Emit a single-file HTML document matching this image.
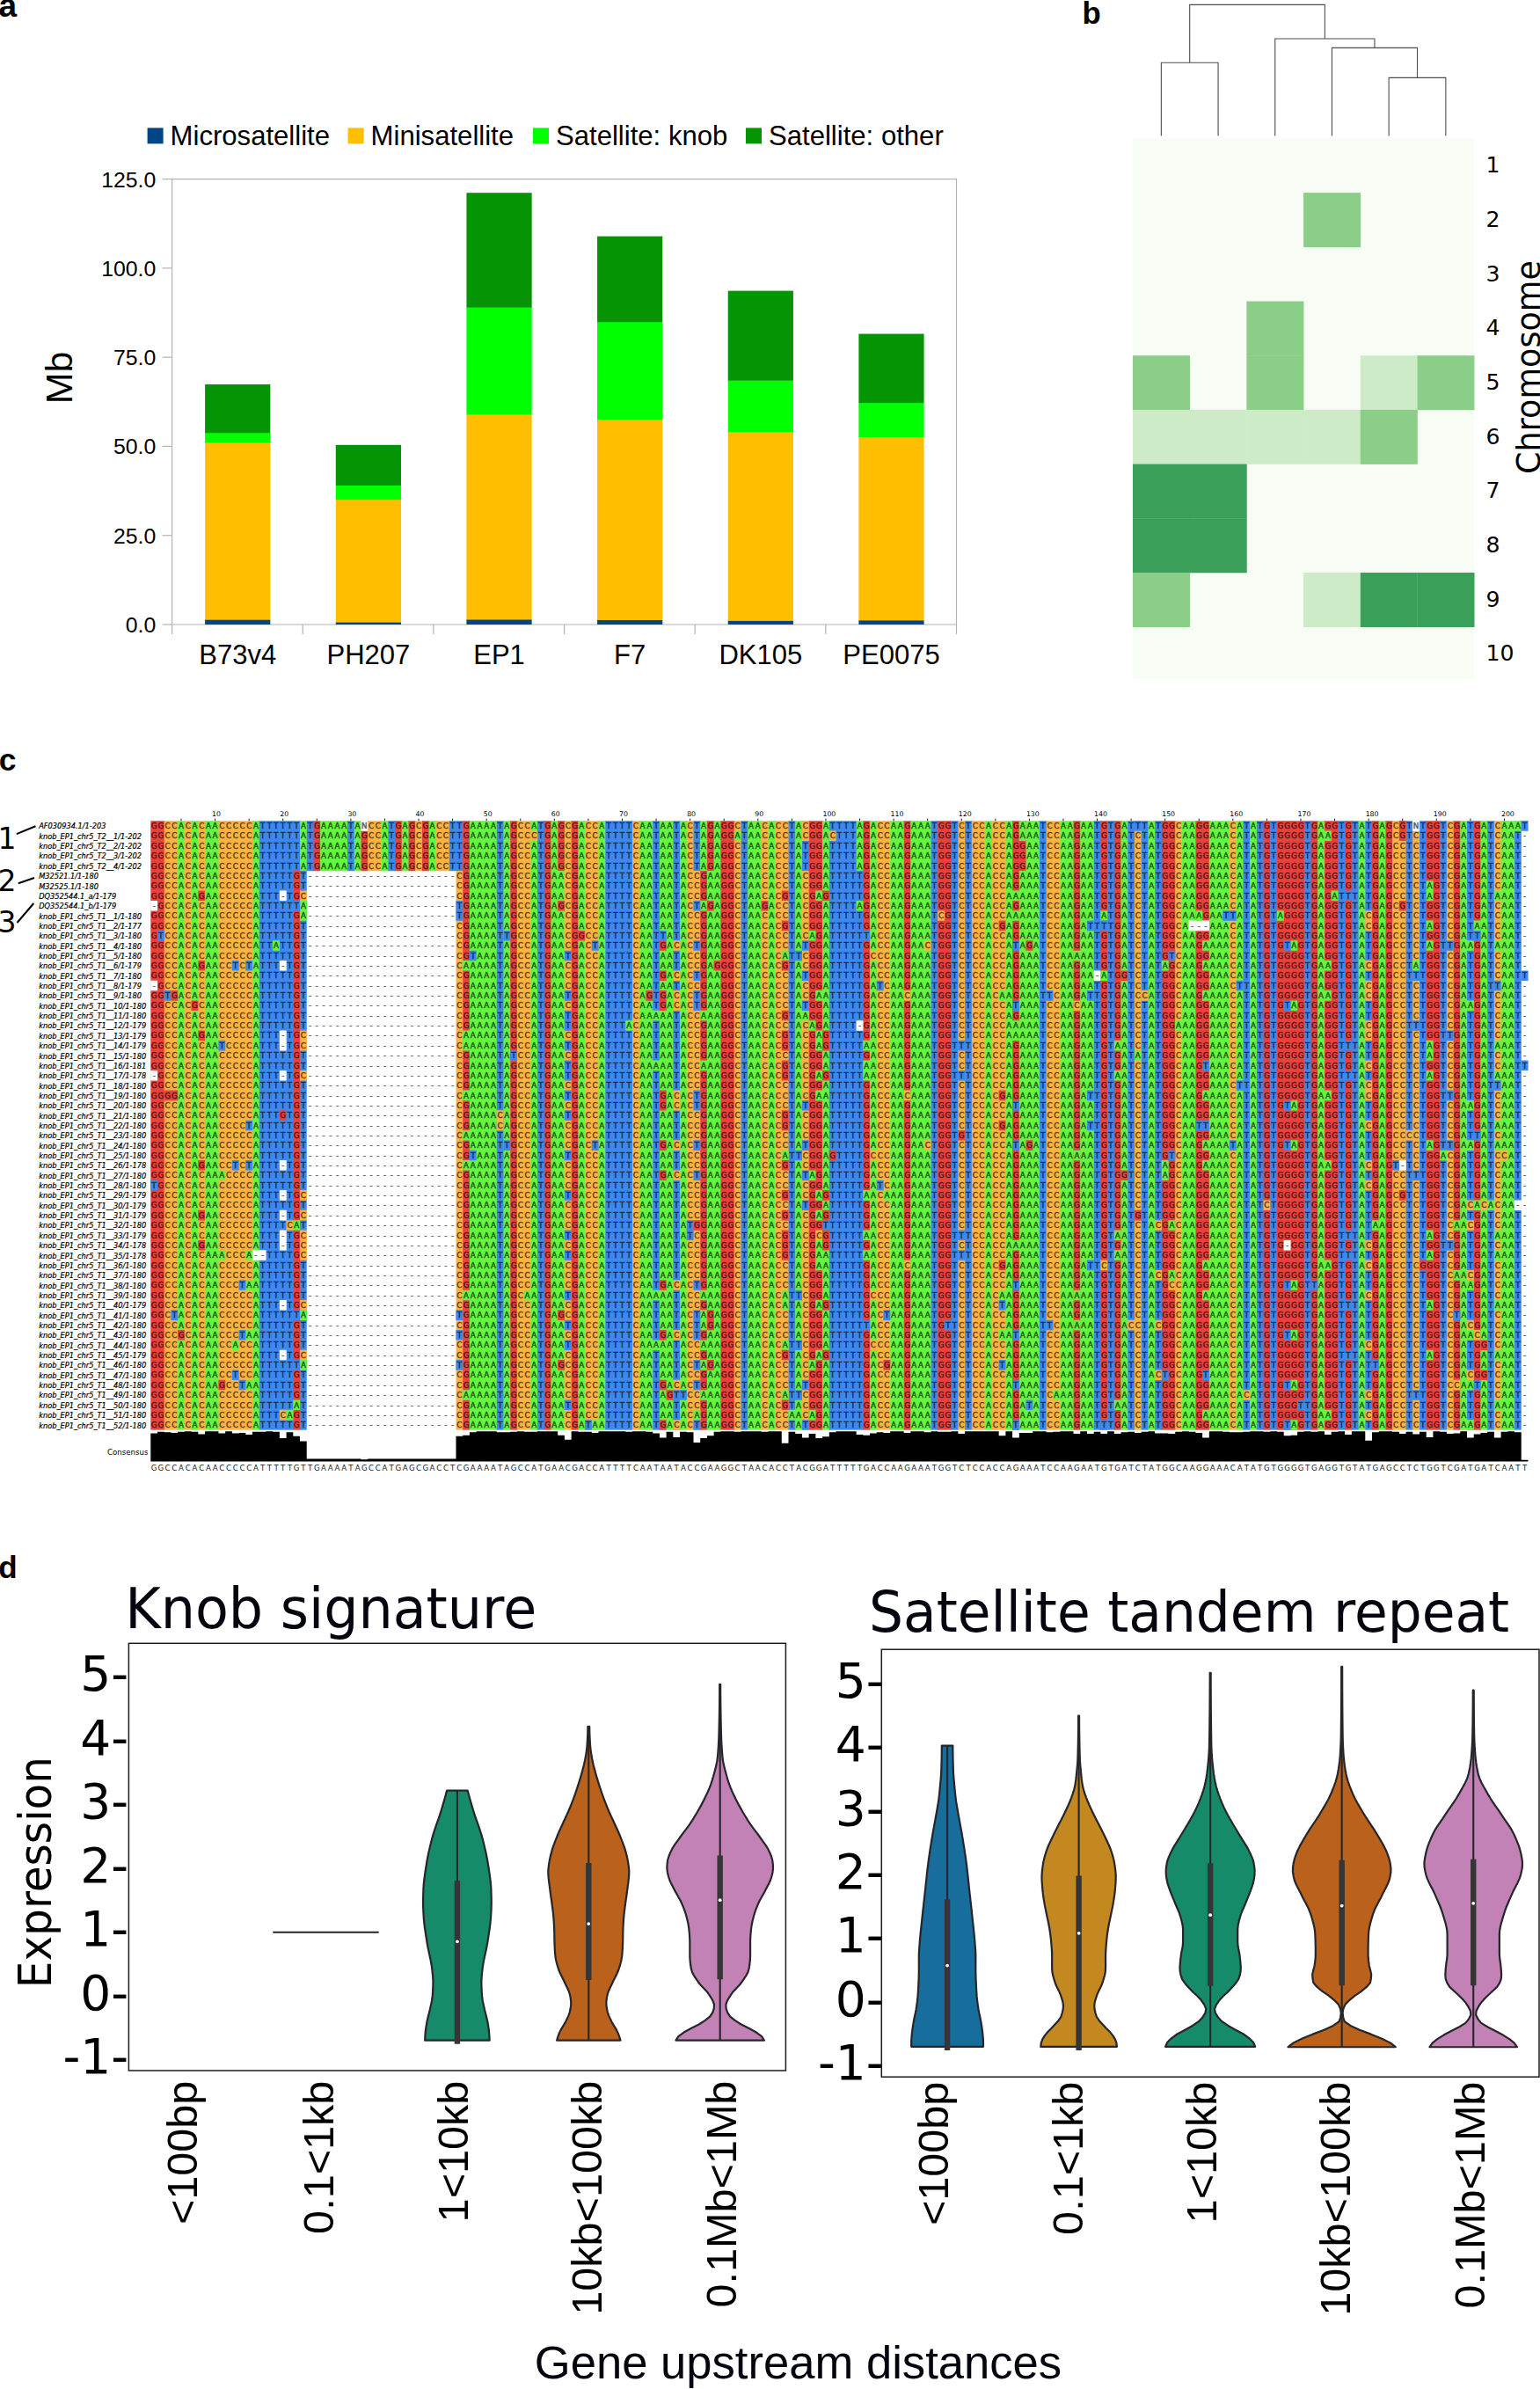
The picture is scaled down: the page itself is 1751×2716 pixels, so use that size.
<!DOCTYPE html>
<html lang="en"><head><meta charset="utf-8"><title>Figure</title>
<style>
html,body{margin:0;padding:0;background:#fff}
body{width:1751px;height:2716px;overflow:hidden}
svg{display:block}
text{white-space:pre}
</style></head><body>
<svg width="1751" height="2716" viewBox="0 0 1751 2716">
<rect width="1751" height="2716" fill="#fff"/>
<g id="panel-a">
<text x="-1.5" y="18.6" fill="#000" style="font-family:'Liberation Sans', Arial, sans-serif;font-size:37px;font-weight:bold">a</text>
<rect x="167.6" y="145.4" width="18" height="18" fill="#004586"/>
<text x="193.6" y="164.6" fill="#000" style="font-family:'Liberation Sans', Arial, sans-serif;font-size:31.1px">Microsatellite</text>
<rect x="395.6" y="145.4" width="18" height="18" fill="#ffbf00"/>
<text x="421.6" y="164.6" fill="#000" style="font-family:'Liberation Sans', Arial, sans-serif;font-size:31.1px">Minisatellite</text>
<rect x="606" y="145.4" width="18" height="18" fill="#00ff00"/>
<text x="632" y="164.6" fill="#000" style="font-family:'Liberation Sans', Arial, sans-serif;font-size:31.1px">Satellite: knob</text>
<rect x="848" y="145.4" width="18" height="18" fill="#049404"/>
<text x="874" y="164.6" fill="#000" style="font-family:'Liberation Sans', Arial, sans-serif;font-size:31.1px">Satellite: other</text>
<path d="M195.6 203.6 H1087.5 V710" fill="none" stroke="#b3b3b3" stroke-width="1.2"/>
<path d="M195.6 203.6 V710 H1087.5" fill="none" stroke="#b3b3b3" stroke-width="1.2"/>
<path d="M184.6 710 H195.6" stroke="#b3b3b3" stroke-width="1.2"/>
<text x="177.3" y="719" text-anchor="end" fill="#000" style="font-family:'Liberation Sans', Arial, sans-serif;font-size:24.8px">0.0</text>
<path d="M184.6 608.72 H195.6" stroke="#b3b3b3" stroke-width="1.2"/>
<text x="177.3" y="617.72" text-anchor="end" fill="#000" style="font-family:'Liberation Sans', Arial, sans-serif;font-size:24.8px">25.0</text>
<path d="M184.6 507.44 H195.6" stroke="#b3b3b3" stroke-width="1.2"/>
<text x="177.3" y="516.44" text-anchor="end" fill="#000" style="font-family:'Liberation Sans', Arial, sans-serif;font-size:24.8px">50.0</text>
<path d="M184.6 406.16 H195.6" stroke="#b3b3b3" stroke-width="1.2"/>
<text x="177.3" y="415.16" text-anchor="end" fill="#000" style="font-family:'Liberation Sans', Arial, sans-serif;font-size:24.8px">75.0</text>
<path d="M184.6 304.88 H195.6" stroke="#b3b3b3" stroke-width="1.2"/>
<text x="177.3" y="313.88" text-anchor="end" fill="#000" style="font-family:'Liberation Sans', Arial, sans-serif;font-size:24.8px">100.0</text>
<path d="M184.6 203.6 H195.6" stroke="#b3b3b3" stroke-width="1.2"/>
<text x="177.3" y="212.6" text-anchor="end" fill="#000" style="font-family:'Liberation Sans', Arial, sans-serif;font-size:24.8px">125.0</text>
<path d="M195.6 710 V721" stroke="#b3b3b3" stroke-width="1.2"/>
<path d="M344.25 710 V721" stroke="#b3b3b3" stroke-width="1.2"/>
<path d="M492.9 710 V721" stroke="#b3b3b3" stroke-width="1.2"/>
<path d="M641.55 710 V721" stroke="#b3b3b3" stroke-width="1.2"/>
<path d="M790.2 710 V721" stroke="#b3b3b3" stroke-width="1.2"/>
<path d="M938.85 710 V721" stroke="#b3b3b3" stroke-width="1.2"/>
<path d="M1087.5 710 V721" stroke="#b3b3b3" stroke-width="1.2"/>
<rect x="233.13" y="704.21" width="74.2" height="5.79" fill="#004586"/>
<rect x="233.13" y="503.15" width="74.2" height="201.46" fill="#ffbf00"/>
<rect x="233.13" y="491.84" width="74.2" height="11.7" fill="#00ff00"/>
<rect x="233.13" y="436.95" width="74.2" height="55.29" fill="#049404"/>
<text x="270.23" y="755.4" text-anchor="middle" fill="#000" style="font-family:'Liberation Sans', Arial, sans-serif;font-size:31px">B73v4</text>
<rect x="381.78" y="707.16" width="74.2" height="2.84" fill="#004586"/>
<rect x="381.78" y="567.8" width="74.2" height="139.76" fill="#ffbf00"/>
<rect x="381.78" y="551.6" width="74.2" height="16.6" fill="#00ff00"/>
<rect x="381.78" y="505.82" width="74.2" height="46.18" fill="#049404"/>
<text x="418.88" y="755.4" text-anchor="middle" fill="#000" style="font-family:'Liberation Sans', Arial, sans-serif;font-size:31px">PH207</text>
<rect x="530.42" y="704.09" width="74.2" height="5.91" fill="#004586"/>
<rect x="530.42" y="470.98" width="74.2" height="233.51" fill="#ffbf00"/>
<rect x="530.42" y="349.24" width="74.2" height="122.14" fill="#00ff00"/>
<rect x="530.42" y="219.2" width="74.2" height="130.44" fill="#049404"/>
<text x="567.52" y="755.4" text-anchor="middle" fill="#000" style="font-family:'Liberation Sans', Arial, sans-serif;font-size:31px">EP1</text>
<rect x="679.07" y="704.49" width="74.2" height="5.51" fill="#004586"/>
<rect x="679.07" y="476.85" width="74.2" height="228.04" fill="#ffbf00"/>
<rect x="679.07" y="365.85" width="74.2" height="111.4" fill="#00ff00"/>
<rect x="679.07" y="268.62" width="74.2" height="97.63" fill="#049404"/>
<text x="716.17" y="755.4" text-anchor="middle" fill="#000" style="font-family:'Liberation Sans', Arial, sans-serif;font-size:31px">F7</text>
<rect x="827.73" y="705.38" width="74.2" height="4.62" fill="#004586"/>
<rect x="827.73" y="490.91" width="74.2" height="214.87" fill="#ffbf00"/>
<rect x="827.73" y="432.29" width="74.2" height="59.02" fill="#00ff00"/>
<rect x="827.73" y="330.61" width="74.2" height="102.09" fill="#049404"/>
<text x="864.83" y="755.4" text-anchor="middle" fill="#000" style="font-family:'Liberation Sans', Arial, sans-serif;font-size:31px">DK105</text>
<rect x="976.38" y="705.02" width="74.2" height="4.98" fill="#004586"/>
<rect x="976.38" y="496.7" width="74.2" height="208.71" fill="#ffbf00"/>
<rect x="976.38" y="457.73" width="74.2" height="39.37" fill="#00ff00"/>
<rect x="976.38" y="379.54" width="74.2" height="78.59" fill="#049404"/>
<text x="1013.48" y="755.4" text-anchor="middle" fill="#000" style="font-family:'Liberation Sans', Arial, sans-serif;font-size:31px">PE0075</text>
<text transform="translate(81.9 429.4) rotate(-90)" text-anchor="middle" fill="#000" style="font-family:'Liberation Sans', Arial, sans-serif;font-size:43px">Mb</text>
</g>
<g id="panel-b">
<text x="1230.6" y="26.5" fill="#000" style="font-family:'Liberation Sans', Arial, sans-serif;font-size:34.8px;font-weight:bold">b</text>
<rect x="1288" y="157.4" width="388.2" height="615" fill="#f7fcf5"/>
<rect x="1482.1" y="219.1" width="65" height="62" fill="#8bce88"/>
<rect x="1417.4" y="342.5" width="65" height="62" fill="#8bce88"/>
<rect x="1288" y="404.2" width="65" height="62" fill="#8bce88"/>
<rect x="1417.4" y="404.2" width="65" height="62" fill="#8bce88"/>
<rect x="1546.8" y="404.2" width="65" height="62" fill="#cdebc7"/>
<rect x="1611.5" y="404.2" width="65" height="62" fill="#8bce88"/>
<rect x="1288" y="465.9" width="65" height="62" fill="#cdebc7"/>
<rect x="1352.7" y="465.9" width="65" height="62" fill="#cdebc7"/>
<rect x="1417.4" y="465.9" width="65" height="62" fill="#cdebc7"/>
<rect x="1482.1" y="465.9" width="65" height="62" fill="#cdebc7"/>
<rect x="1546.8" y="465.9" width="65" height="62" fill="#8bce88"/>
<rect x="1288" y="527.6" width="65" height="62" fill="#3aa05a"/>
<rect x="1352.7" y="527.6" width="65" height="62" fill="#3aa05a"/>
<rect x="1288" y="589.3" width="65" height="62" fill="#3aa05a"/>
<rect x="1352.7" y="589.3" width="65" height="62" fill="#3aa05a"/>
<rect x="1288" y="651" width="65" height="62" fill="#8bce88"/>
<rect x="1482.1" y="651" width="65" height="62" fill="#cdebc7"/>
<rect x="1546.8" y="651" width="65" height="62" fill="#3aa05a"/>
<rect x="1611.5" y="651" width="65" height="62" fill="#3aa05a"/>
<text x="1689.4" y="196.15" fill="#000" style="font-family:'DejaVu Sans', 'Liberation Sans', sans-serif;font-size:25.2px">1</text>
<text x="1689.4" y="257.85" fill="#000" style="font-family:'DejaVu Sans', 'Liberation Sans', sans-serif;font-size:25.2px">2</text>
<text x="1689.4" y="319.55" fill="#000" style="font-family:'DejaVu Sans', 'Liberation Sans', sans-serif;font-size:25.2px">3</text>
<text x="1689.4" y="381.25" fill="#000" style="font-family:'DejaVu Sans', 'Liberation Sans', sans-serif;font-size:25.2px">4</text>
<text x="1689.4" y="442.95" fill="#000" style="font-family:'DejaVu Sans', 'Liberation Sans', sans-serif;font-size:25.2px">5</text>
<text x="1689.4" y="504.65" fill="#000" style="font-family:'DejaVu Sans', 'Liberation Sans', sans-serif;font-size:25.2px">6</text>
<text x="1689.4" y="566.35" fill="#000" style="font-family:'DejaVu Sans', 'Liberation Sans', sans-serif;font-size:25.2px">7</text>
<text x="1689.4" y="628.05" fill="#000" style="font-family:'DejaVu Sans', 'Liberation Sans', sans-serif;font-size:25.2px">8</text>
<text x="1689.4" y="689.75" fill="#000" style="font-family:'DejaVu Sans', 'Liberation Sans', sans-serif;font-size:25.2px">9</text>
<text x="1689.4" y="751.45" fill="#000" style="font-family:'DejaVu Sans', 'Liberation Sans', sans-serif;font-size:25.2px">10</text>
<text transform="translate(1750.6 417.5) rotate(-90)" text-anchor="middle" fill="#000" style="font-family:'DejaVu Sans', 'Liberation Sans', sans-serif;font-size:36.6px">Chromosome</text>
<path d="M1320.35 154.6 V71.2 H1385.05 V154.6" fill="none" stroke="#4d4d4d" stroke-width="1.1"/>
<path d="M1579.15 154.6 V88.4 H1643.85 V154.6" fill="none" stroke="#4d4d4d" stroke-width="1.1"/>
<path d="M1514.45 154.6 V54.4 H1611.5 V88.4" fill="none" stroke="#4d4d4d" stroke-width="1.1"/>
<path d="M1449.75 154.6 V44 H1562.97 V54.4" fill="none" stroke="#4d4d4d" stroke-width="1.1"/>
<path d="M1352.7 71.2 V5.4 H1506.36 V44" fill="none" stroke="#4d4d4d" stroke-width="1.1"/>
</g>
<g id="panel-c">
<text x="-1.2" y="876.2" fill="#000" style="font-family:'Liberation Sans', Arial, sans-serif;font-size:35.5px;font-weight:bold">c</text>
<rect x="171.3" y="933.2" width="16.03" height="57.06" fill="#eb413c"/>
<rect x="186.73" y="933.2" width="16.03" height="57.06" fill="#ffb340"/>
<rect x="202.16" y="933.2" width="8.31" height="57.06" fill="#64f73f"/>
<rect x="209.88" y="933.2" width="8.32" height="57.06" fill="#ffb340"/>
<rect x="217.59" y="933.2" width="8.32" height="57.06" fill="#64f73f"/>
<rect x="225.31" y="933.2" width="8.32" height="57.06" fill="#ffb340"/>
<rect x="233.02" y="933.2" width="16.03" height="57.06" fill="#64f73f"/>
<rect x="248.45" y="933.2" width="39.17" height="57.06" fill="#ffb340"/>
<rect x="287.02" y="933.2" width="8.32" height="57.06" fill="#64f73f"/>
<rect x="294.74" y="933.2" width="46.89" height="57.06" fill="#3c88ee"/>
<rect x="341.03" y="933.2" width="8.32" height="57.06" fill="#64f73f"/>
<rect x="348.75" y="933.2" width="8.32" height="57.06" fill="#3c88ee"/>
<rect x="356.46" y="933.2" width="8.31" height="57.06" fill="#eb413c"/>
<rect x="364.18" y="933.2" width="31.46" height="57.06" fill="#64f73f"/>
<rect x="395.03" y="933.2" width="8.32" height="57.06" fill="#3c88ee"/>
<rect x="402.75" y="933.2" width="8.32" height="57.06" fill="#64f73f"/>
<rect x="410.47" y="933.2" width="8.31" height="57.06" fill="#eb413c"/>
<rect x="418.18" y="933.2" width="16.03" height="57.06" fill="#ffb340"/>
<rect x="433.61" y="933.2" width="8.31" height="57.06" fill="#64f73f"/>
<rect x="441.32" y="933.2" width="8.32" height="57.06" fill="#3c88ee"/>
<rect x="449.04" y="933.2" width="8.31" height="57.06" fill="#eb413c"/>
<rect x="456.75" y="933.2" width="8.32" height="57.06" fill="#64f73f"/>
<rect x="464.47" y="933.2" width="8.31" height="57.06" fill="#eb413c"/>
<rect x="472.19" y="933.2" width="8.32" height="57.06" fill="#ffb340"/>
<rect x="479.9" y="933.2" width="8.31" height="57.06" fill="#eb413c"/>
<rect x="487.62" y="933.2" width="8.31" height="57.06" fill="#64f73f"/>
<rect x="495.33" y="933.2" width="16.03" height="57.06" fill="#ffb340"/>
<rect x="510.76" y="933.2" width="16.03" height="57.06" fill="#3c88ee"/>
<rect x="526.19" y="933.2" width="8.31" height="57.06" fill="#eb413c"/>
<rect x="533.9" y="933.2" width="31.46" height="57.06" fill="#64f73f"/>
<rect x="564.76" y="933.2" width="8.32" height="57.06" fill="#3c88ee"/>
<rect x="572.48" y="933.2" width="8.31" height="57.06" fill="#64f73f"/>
<rect x="580.19" y="933.2" width="8.32" height="57.06" fill="#eb413c"/>
<rect x="587.91" y="933.2" width="16.03" height="57.06" fill="#ffb340"/>
<rect x="603.34" y="933.2" width="8.32" height="57.06" fill="#64f73f"/>
<rect x="611.06" y="933.2" width="8.31" height="57.06" fill="#3c88ee"/>
<rect x="618.77" y="933.2" width="8.32" height="57.06" fill="#eb413c"/>
<rect x="626.49" y="933.2" width="8.32" height="57.06" fill="#64f73f"/>
<rect x="634.2" y="933.2" width="8.31" height="57.06" fill="#eb413c"/>
<rect x="641.91" y="933.2" width="8.32" height="57.06" fill="#ffb340"/>
<rect x="649.63" y="933.2" width="8.32" height="57.06" fill="#eb413c"/>
<rect x="657.35" y="933.2" width="8.31" height="57.06" fill="#64f73f"/>
<rect x="665.06" y="933.2" width="16.03" height="57.06" fill="#ffb340"/>
<rect x="680.49" y="933.2" width="8.31" height="57.06" fill="#64f73f"/>
<rect x="688.2" y="933.2" width="31.46" height="57.06" fill="#3c88ee"/>
<rect x="719.07" y="933.2" width="8.31" height="57.06" fill="#ffb340"/>
<rect x="726.78" y="933.2" width="16.03" height="57.06" fill="#64f73f"/>
<rect x="742.21" y="933.2" width="8.31" height="57.06" fill="#3c88ee"/>
<rect x="749.92" y="933.2" width="16.03" height="57.06" fill="#64f73f"/>
<rect x="765.36" y="933.2" width="8.31" height="57.06" fill="#3c88ee"/>
<rect x="773.07" y="933.2" width="8.32" height="57.06" fill="#64f73f"/>
<rect x="780.79" y="933.2" width="8.31" height="57.06" fill="#ffb340"/>
<rect x="788.5" y="933.2" width="8.31" height="57.06" fill="#3c88ee"/>
<rect x="796.21" y="933.2" width="8.32" height="57.06" fill="#64f73f"/>
<rect x="803.93" y="933.2" width="8.31" height="57.06" fill="#eb413c"/>
<rect x="811.64" y="933.2" width="8.31" height="57.06" fill="#64f73f"/>
<rect x="819.36" y="933.2" width="16.03" height="57.06" fill="#eb413c"/>
<rect x="834.79" y="933.2" width="8.32" height="57.06" fill="#ffb340"/>
<rect x="842.51" y="933.2" width="8.31" height="57.06" fill="#3c88ee"/>
<rect x="850.22" y="933.2" width="16.03" height="57.06" fill="#64f73f"/>
<rect x="865.65" y="933.2" width="8.31" height="57.06" fill="#ffb340"/>
<rect x="873.37" y="933.2" width="8.31" height="57.06" fill="#64f73f"/>
<rect x="881.08" y="933.2" width="16.03" height="57.06" fill="#ffb340"/>
<rect x="896.51" y="933.2" width="8.31" height="57.06" fill="#3c88ee"/>
<rect x="904.22" y="933.2" width="8.32" height="57.06" fill="#64f73f"/>
<rect x="911.94" y="933.2" width="8.31" height="57.06" fill="#3c88ee"/>
<rect x="919.65" y="933.2" width="16.03" height="57.06" fill="#eb413c"/>
<rect x="935.09" y="933.2" width="8.31" height="57.06" fill="#64f73f"/>
<rect x="942.8" y="933.2" width="31.46" height="57.06" fill="#3c88ee"/>
<rect x="973.66" y="933.2" width="8.31" height="57.06" fill="#64f73f"/>
<rect x="981.38" y="933.2" width="8.31" height="57.06" fill="#eb413c"/>
<rect x="989.09" y="933.2" width="8.32" height="57.06" fill="#64f73f"/>
<rect x="996.81" y="933.2" width="16.03" height="57.06" fill="#ffb340"/>
<rect x="1012.23" y="933.2" width="16.03" height="57.06" fill="#64f73f"/>
<rect x="1027.66" y="933.2" width="8.31" height="57.06" fill="#eb413c"/>
<rect x="1035.38" y="933.2" width="23.75" height="57.06" fill="#64f73f"/>
<rect x="1058.53" y="933.2" width="8.31" height="57.06" fill="#3c88ee"/>
<rect x="1066.24" y="933.2" width="16.03" height="57.06" fill="#eb413c"/>
<rect x="1081.67" y="933.2" width="8.31" height="57.06" fill="#3c88ee"/>
<rect x="1089.38" y="933.2" width="8.31" height="57.06" fill="#ffb340"/>
<rect x="1097.1" y="933.2" width="8.32" height="57.06" fill="#3c88ee"/>
<rect x="1104.82" y="933.2" width="16.03" height="57.06" fill="#ffb340"/>
<rect x="1120.24" y="933.2" width="8.32" height="57.06" fill="#64f73f"/>
<rect x="1127.96" y="933.2" width="16.03" height="57.06" fill="#ffb340"/>
<rect x="1143.39" y="933.2" width="8.31" height="57.06" fill="#64f73f"/>
<rect x="1151.11" y="933.2" width="16.03" height="57.06" fill="#eb413c"/>
<rect x="1166.54" y="933.2" width="16.03" height="57.06" fill="#64f73f"/>
<rect x="1181.96" y="933.2" width="8.32" height="57.06" fill="#3c88ee"/>
<rect x="1189.68" y="933.2" width="16.03" height="57.06" fill="#ffb340"/>
<rect x="1205.11" y="933.2" width="16.03" height="57.06" fill="#64f73f"/>
<rect x="1220.54" y="933.2" width="8.31" height="57.06" fill="#eb413c"/>
<rect x="1228.25" y="933.2" width="16.03" height="57.06" fill="#64f73f"/>
<rect x="1243.68" y="933.2" width="8.31" height="57.06" fill="#3c88ee"/>
<rect x="1251.4" y="933.2" width="8.32" height="57.06" fill="#eb413c"/>
<rect x="1259.12" y="933.2" width="8.31" height="57.06" fill="#3c88ee"/>
<rect x="1266.83" y="933.2" width="8.31" height="57.06" fill="#eb413c"/>
<rect x="1274.54" y="933.2" width="8.32" height="57.06" fill="#64f73f"/>
<rect x="1282.26" y="933.2" width="8.31" height="57.06" fill="#3c88ee"/>
<rect x="1289.97" y="933.2" width="8.31" height="57.06" fill="#ffb340"/>
<rect x="1297.69" y="933.2" width="8.32" height="57.06" fill="#3c88ee"/>
<rect x="1305.4" y="933.2" width="8.31" height="57.06" fill="#64f73f"/>
<rect x="1313.12" y="933.2" width="8.32" height="57.06" fill="#3c88ee"/>
<rect x="1320.84" y="933.2" width="16.03" height="57.06" fill="#eb413c"/>
<rect x="1336.26" y="933.2" width="8.32" height="57.06" fill="#ffb340"/>
<rect x="1343.98" y="933.2" width="16.03" height="57.06" fill="#64f73f"/>
<rect x="1359.41" y="933.2" width="16.03" height="57.06" fill="#eb413c"/>
<rect x="1374.84" y="933.2" width="23.74" height="57.06" fill="#64f73f"/>
<rect x="1397.98" y="933.2" width="8.32" height="57.06" fill="#ffb340"/>
<rect x="1405.7" y="933.2" width="8.31" height="57.06" fill="#64f73f"/>
<rect x="1413.41" y="933.2" width="8.31" height="57.06" fill="#3c88ee"/>
<rect x="1421.13" y="933.2" width="8.32" height="57.06" fill="#64f73f"/>
<rect x="1428.85" y="933.2" width="8.31" height="57.06" fill="#3c88ee"/>
<rect x="1436.56" y="933.2" width="8.31" height="57.06" fill="#eb413c"/>
<rect x="1444.27" y="933.2" width="8.32" height="57.06" fill="#3c88ee"/>
<rect x="1451.99" y="933.2" width="31.46" height="57.06" fill="#eb413c"/>
<rect x="1482.85" y="933.2" width="8.31" height="57.06" fill="#3c88ee"/>
<rect x="1490.56" y="933.2" width="8.32" height="57.06" fill="#eb413c"/>
<rect x="1498.28" y="933.2" width="8.31" height="57.06" fill="#64f73f"/>
<rect x="1505.99" y="933.2" width="16.03" height="57.06" fill="#eb413c"/>
<rect x="1521.42" y="933.2" width="8.31" height="57.06" fill="#3c88ee"/>
<rect x="1529.14" y="933.2" width="8.32" height="57.06" fill="#eb413c"/>
<rect x="1536.86" y="933.2" width="8.31" height="57.06" fill="#3c88ee"/>
<rect x="1544.57" y="933.2" width="8.31" height="57.06" fill="#64f73f"/>
<rect x="1552.28" y="933.2" width="8.32" height="57.06" fill="#3c88ee"/>
<rect x="1560" y="933.2" width="8.31" height="57.06" fill="#eb413c"/>
<rect x="1567.71" y="933.2" width="8.31" height="57.06" fill="#64f73f"/>
<rect x="1575.43" y="933.2" width="8.32" height="57.06" fill="#eb413c"/>
<rect x="1583.14" y="933.2" width="16.03" height="57.06" fill="#ffb340"/>
<rect x="1598.57" y="933.2" width="8.32" height="57.06" fill="#3c88ee"/>
<rect x="1606.29" y="933.2" width="8.31" height="57.06" fill="#ffb340"/>
<rect x="1614" y="933.2" width="8.32" height="57.06" fill="#3c88ee"/>
<rect x="1621.72" y="933.2" width="16.03" height="57.06" fill="#eb413c"/>
<rect x="1637.15" y="933.2" width="8.32" height="57.06" fill="#3c88ee"/>
<rect x="1644.87" y="933.2" width="8.31" height="57.06" fill="#ffb340"/>
<rect x="1652.58" y="933.2" width="8.31" height="57.06" fill="#eb413c"/>
<rect x="1660.29" y="933.2" width="8.32" height="57.06" fill="#64f73f"/>
<rect x="1668.01" y="933.2" width="8.31" height="57.06" fill="#3c88ee"/>
<rect x="1675.72" y="933.2" width="8.31" height="57.06" fill="#eb413c"/>
<rect x="1683.44" y="933.2" width="8.32" height="57.06" fill="#64f73f"/>
<rect x="1691.15" y="933.2" width="8.31" height="57.06" fill="#3c88ee"/>
<rect x="1698.87" y="933.2" width="8.32" height="57.06" fill="#ffb340"/>
<rect x="1706.59" y="933.2" width="16.03" height="57.06" fill="#64f73f"/>
<rect x="1722.01" y="933.2" width="7.72" height="57.06" fill="#3c88ee"/>
<rect x="171.3" y="989.96" width="16.03" height="635.71" fill="#eb413c"/>
<rect x="186.73" y="989.96" width="16.03" height="635.71" fill="#ffb340"/>
<rect x="202.16" y="989.96" width="8.31" height="635.71" fill="#64f73f"/>
<rect x="209.88" y="989.96" width="8.32" height="635.71" fill="#ffb340"/>
<rect x="217.59" y="989.96" width="8.32" height="635.71" fill="#64f73f"/>
<rect x="225.31" y="989.96" width="8.32" height="635.71" fill="#ffb340"/>
<rect x="233.02" y="989.96" width="16.03" height="635.71" fill="#64f73f"/>
<rect x="248.45" y="989.96" width="39.17" height="635.71" fill="#ffb340"/>
<rect x="287.02" y="989.96" width="8.32" height="635.71" fill="#64f73f"/>
<rect x="294.74" y="989.96" width="39.17" height="635.71" fill="#3c88ee"/>
<rect x="333.31" y="989.96" width="8.31" height="635.71" fill="#eb413c"/>
<rect x="341.03" y="989.96" width="7.72" height="635.71" fill="#3c88ee"/>
<rect x="518.48" y="989.96" width="8.32" height="635.71" fill="#ffb340"/>
<rect x="526.19" y="989.96" width="8.31" height="635.71" fill="#eb413c"/>
<rect x="533.9" y="989.96" width="31.46" height="635.71" fill="#64f73f"/>
<rect x="564.76" y="989.96" width="8.32" height="635.71" fill="#3c88ee"/>
<rect x="572.48" y="989.96" width="8.31" height="635.71" fill="#64f73f"/>
<rect x="580.19" y="989.96" width="8.32" height="635.71" fill="#eb413c"/>
<rect x="587.91" y="989.96" width="16.03" height="635.71" fill="#ffb340"/>
<rect x="603.34" y="989.96" width="8.32" height="635.71" fill="#64f73f"/>
<rect x="611.06" y="989.96" width="8.31" height="635.71" fill="#3c88ee"/>
<rect x="618.77" y="989.96" width="8.32" height="635.71" fill="#eb413c"/>
<rect x="626.49" y="989.96" width="16.03" height="635.71" fill="#64f73f"/>
<rect x="641.91" y="989.96" width="8.32" height="635.71" fill="#ffb340"/>
<rect x="649.63" y="989.96" width="8.32" height="635.71" fill="#eb413c"/>
<rect x="657.35" y="989.96" width="8.31" height="635.71" fill="#64f73f"/>
<rect x="665.06" y="989.96" width="16.03" height="635.71" fill="#ffb340"/>
<rect x="680.49" y="989.96" width="8.31" height="635.71" fill="#64f73f"/>
<rect x="688.2" y="989.96" width="31.46" height="635.71" fill="#3c88ee"/>
<rect x="719.07" y="989.96" width="8.31" height="635.71" fill="#ffb340"/>
<rect x="726.78" y="989.96" width="16.03" height="635.71" fill="#64f73f"/>
<rect x="742.21" y="989.96" width="8.31" height="635.71" fill="#3c88ee"/>
<rect x="749.92" y="989.96" width="16.03" height="635.71" fill="#64f73f"/>
<rect x="765.36" y="989.96" width="8.31" height="635.71" fill="#3c88ee"/>
<rect x="773.07" y="989.96" width="8.32" height="635.71" fill="#64f73f"/>
<rect x="780.79" y="989.96" width="16.03" height="635.71" fill="#ffb340"/>
<rect x="796.21" y="989.96" width="8.32" height="635.71" fill="#eb413c"/>
<rect x="803.93" y="989.96" width="16.03" height="635.71" fill="#64f73f"/>
<rect x="819.36" y="989.96" width="16.03" height="635.71" fill="#eb413c"/>
<rect x="834.79" y="989.96" width="8.32" height="635.71" fill="#ffb340"/>
<rect x="842.51" y="989.96" width="8.31" height="635.71" fill="#3c88ee"/>
<rect x="850.22" y="989.96" width="16.03" height="635.71" fill="#64f73f"/>
<rect x="865.65" y="989.96" width="8.31" height="635.71" fill="#ffb340"/>
<rect x="873.37" y="989.96" width="8.31" height="635.71" fill="#64f73f"/>
<rect x="881.08" y="989.96" width="16.03" height="635.71" fill="#ffb340"/>
<rect x="896.51" y="989.96" width="8.31" height="635.71" fill="#3c88ee"/>
<rect x="904.22" y="989.96" width="8.32" height="635.71" fill="#64f73f"/>
<rect x="911.94" y="989.96" width="8.31" height="635.71" fill="#ffb340"/>
<rect x="919.65" y="989.96" width="16.03" height="635.71" fill="#eb413c"/>
<rect x="935.09" y="989.96" width="8.31" height="635.71" fill="#64f73f"/>
<rect x="942.8" y="989.96" width="39.18" height="635.71" fill="#3c88ee"/>
<rect x="981.38" y="989.96" width="8.31" height="635.71" fill="#eb413c"/>
<rect x="989.09" y="989.96" width="8.32" height="635.71" fill="#64f73f"/>
<rect x="996.81" y="989.96" width="16.03" height="635.71" fill="#ffb340"/>
<rect x="1012.23" y="989.96" width="16.03" height="635.71" fill="#64f73f"/>
<rect x="1027.66" y="989.96" width="8.31" height="635.71" fill="#eb413c"/>
<rect x="1035.38" y="989.96" width="23.75" height="635.71" fill="#64f73f"/>
<rect x="1058.53" y="989.96" width="8.31" height="635.71" fill="#3c88ee"/>
<rect x="1066.24" y="989.96" width="16.03" height="635.71" fill="#eb413c"/>
<rect x="1081.67" y="989.96" width="8.31" height="635.71" fill="#3c88ee"/>
<rect x="1089.38" y="989.96" width="8.31" height="635.71" fill="#ffb340"/>
<rect x="1097.1" y="989.96" width="8.32" height="635.71" fill="#3c88ee"/>
<rect x="1104.82" y="989.96" width="16.03" height="635.71" fill="#ffb340"/>
<rect x="1120.24" y="989.96" width="8.32" height="635.71" fill="#64f73f"/>
<rect x="1127.96" y="989.96" width="16.03" height="635.71" fill="#ffb340"/>
<rect x="1143.39" y="989.96" width="8.31" height="635.71" fill="#64f73f"/>
<rect x="1151.11" y="989.96" width="8.31" height="635.71" fill="#eb413c"/>
<rect x="1158.82" y="989.96" width="23.74" height="635.71" fill="#64f73f"/>
<rect x="1181.96" y="989.96" width="8.32" height="635.71" fill="#3c88ee"/>
<rect x="1189.68" y="989.96" width="16.03" height="635.71" fill="#ffb340"/>
<rect x="1205.11" y="989.96" width="16.03" height="635.71" fill="#64f73f"/>
<rect x="1220.54" y="989.96" width="8.31" height="635.71" fill="#eb413c"/>
<rect x="1228.25" y="989.96" width="16.03" height="635.71" fill="#64f73f"/>
<rect x="1243.68" y="989.96" width="8.31" height="635.71" fill="#3c88ee"/>
<rect x="1251.4" y="989.96" width="8.32" height="635.71" fill="#eb413c"/>
<rect x="1259.12" y="989.96" width="8.31" height="635.71" fill="#3c88ee"/>
<rect x="1266.83" y="989.96" width="8.31" height="635.71" fill="#eb413c"/>
<rect x="1274.54" y="989.96" width="8.32" height="635.71" fill="#64f73f"/>
<rect x="1282.26" y="989.96" width="8.31" height="635.71" fill="#3c88ee"/>
<rect x="1289.97" y="989.96" width="8.31" height="635.71" fill="#ffb340"/>
<rect x="1297.69" y="989.96" width="8.32" height="635.71" fill="#3c88ee"/>
<rect x="1305.4" y="989.96" width="8.31" height="635.71" fill="#64f73f"/>
<rect x="1313.12" y="989.96" width="8.32" height="635.71" fill="#3c88ee"/>
<rect x="1320.84" y="989.96" width="16.03" height="635.71" fill="#eb413c"/>
<rect x="1336.26" y="989.96" width="8.32" height="635.71" fill="#ffb340"/>
<rect x="1343.98" y="989.96" width="16.03" height="635.71" fill="#64f73f"/>
<rect x="1359.41" y="989.96" width="16.03" height="635.71" fill="#eb413c"/>
<rect x="1374.84" y="989.96" width="23.74" height="635.71" fill="#64f73f"/>
<rect x="1397.98" y="989.96" width="8.32" height="635.71" fill="#ffb340"/>
<rect x="1405.7" y="989.96" width="8.31" height="635.71" fill="#64f73f"/>
<rect x="1413.41" y="989.96" width="8.31" height="635.71" fill="#3c88ee"/>
<rect x="1421.13" y="989.96" width="8.32" height="635.71" fill="#64f73f"/>
<rect x="1428.85" y="989.96" width="8.31" height="635.71" fill="#3c88ee"/>
<rect x="1436.56" y="989.96" width="8.31" height="635.71" fill="#eb413c"/>
<rect x="1444.27" y="989.96" width="8.32" height="635.71" fill="#3c88ee"/>
<rect x="1451.99" y="989.96" width="31.46" height="635.71" fill="#eb413c"/>
<rect x="1482.85" y="989.96" width="8.31" height="635.71" fill="#3c88ee"/>
<rect x="1490.56" y="989.96" width="8.32" height="635.71" fill="#eb413c"/>
<rect x="1498.28" y="989.96" width="8.31" height="635.71" fill="#64f73f"/>
<rect x="1505.99" y="989.96" width="16.03" height="635.71" fill="#eb413c"/>
<rect x="1521.42" y="989.96" width="8.31" height="635.71" fill="#3c88ee"/>
<rect x="1529.14" y="989.96" width="8.32" height="635.71" fill="#eb413c"/>
<rect x="1536.86" y="989.96" width="8.31" height="635.71" fill="#3c88ee"/>
<rect x="1544.57" y="989.96" width="8.31" height="635.71" fill="#64f73f"/>
<rect x="1552.28" y="989.96" width="8.32" height="635.71" fill="#3c88ee"/>
<rect x="1560" y="989.96" width="8.31" height="635.71" fill="#eb413c"/>
<rect x="1567.71" y="989.96" width="8.31" height="635.71" fill="#64f73f"/>
<rect x="1575.43" y="989.96" width="8.32" height="635.71" fill="#eb413c"/>
<rect x="1583.14" y="989.96" width="16.03" height="635.71" fill="#ffb340"/>
<rect x="1598.57" y="989.96" width="8.32" height="635.71" fill="#3c88ee"/>
<rect x="1606.29" y="989.96" width="8.31" height="635.71" fill="#ffb340"/>
<rect x="1614" y="989.96" width="8.32" height="635.71" fill="#3c88ee"/>
<rect x="1621.72" y="989.96" width="16.03" height="635.71" fill="#eb413c"/>
<rect x="1637.15" y="989.96" width="8.32" height="635.71" fill="#3c88ee"/>
<rect x="1644.87" y="989.96" width="8.31" height="635.71" fill="#ffb340"/>
<rect x="1652.58" y="989.96" width="8.31" height="635.71" fill="#eb413c"/>
<rect x="1660.29" y="989.96" width="8.32" height="635.71" fill="#64f73f"/>
<rect x="1668.01" y="989.96" width="8.31" height="635.71" fill="#3c88ee"/>
<rect x="1675.72" y="989.96" width="8.31" height="635.71" fill="#eb413c"/>
<rect x="1683.44" y="989.96" width="8.32" height="635.71" fill="#64f73f"/>
<rect x="1691.15" y="989.96" width="8.31" height="635.71" fill="#3c88ee"/>
<rect x="1698.87" y="989.96" width="8.32" height="635.71" fill="#ffb340"/>
<rect x="1706.59" y="989.96" width="16.03" height="635.71" fill="#64f73f"/>
<rect x="1722.01" y="989.96" width="7.72" height="635.71" fill="#3c88ee"/>
<path fill="#ffffff" d="M410.37 933.1h7.92v11.55h-7.92zM1606.19 933.1h7.92v11.55h-7.92zM171.2 1023.92h7.92v11.55h-7.92zM171.2 1114.73h7.92v11.55h-7.92zM171.2 1216.9h7.92v11.55h-7.92zM286.92 1421.24h7.92v11.55h-7.92zM294.64 1421.24h7.92v11.55h-7.92zM317.78 1012.56h7.92v11.55h-7.92zM317.78 1092.03h7.92v11.55h-7.92zM317.78 1171.49h7.92v22.9h-7.92zM317.78 1216.9h7.92v11.55h-7.92zM317.78 1319.07h7.92v11.55h-7.92zM317.78 1353.12h7.92v11.55h-7.92zM317.78 1375.83h7.92v11.55h-7.92zM317.78 1398.53h7.92v22.9h-7.92zM317.78 1478h7.92v11.55h-7.92zM317.78 1534.76h7.92v11.55h-7.92zM973.56 1160.14h7.92v11.55h-7.92zM1243.59 1103.38h7.92v11.55h-7.92zM1351.6 1046.62h7.92v11.55h-7.92zM1359.31 1046.62h7.92v11.55h-7.92zM1367.03 1046.62h7.92v11.55h-7.92zM1459.61 1409.88h7.92v11.55h-7.92zM1590.76 1319.07h7.92v11.55h-7.92zM1721.91 1364.48h7.92v11.55h-7.92z"/>
<path fill="#ffb340" d="M603.24 944.45h7.92v11.55h-7.92zM911.84 933.1h7.92v22.9h-7.92zM942.7 944.45h7.92v11.55h-7.92zM317.78 1602.87h7.92v11.55h-7.92zM325.5 1387.18h7.92v11.55h-7.92zM340.93 1012.56h7.92v11.55h-7.92zM340.93 1171.49h7.92v22.9h-7.92zM340.93 1216.9h7.92v11.55h-7.92zM340.93 1353.12h7.92v11.55h-7.92zM340.93 1375.83h7.92v11.55h-7.92zM340.93 1398.53h7.92v34.26h-7.92zM340.93 1478h7.92v11.55h-7.92zM340.93 1534.76h7.92v11.55h-7.92zM564.66 1262.31h7.92v22.9h-7.92zM765.25 1069.32h7.92v11.55h-7.92zM765.25 1103.38h7.92v11.55h-7.92zM765.25 1126.08h7.92v22.9h-7.92zM765.25 1239.6h7.92v22.9h-7.92zM765.25 1296.36h7.92v11.55h-7.92zM765.25 1330.42h7.92v11.55h-7.92zM765.25 1455.29h7.92v11.55h-7.92zM765.25 1512.05h7.92v11.55h-7.92zM765.25 1568.81h7.92v11.55h-7.92zM765.25 1614.22h7.92v11.55h-7.92zM927.27 1398.53h7.92v11.55h-7.92zM988.99 1080.68h7.92v11.55h-7.92zM988.99 1307.72h7.92v11.55h-7.92zM988.99 1466.64h7.92v11.55h-7.92zM988.99 1523.4h7.92v11.55h-7.92zM1027.57 1126.08h7.92v11.55h-7.92zM1027.57 1239.6h7.92v11.55h-7.92zM1027.57 1432.59h7.92v11.55h-7.92zM1050.71 1069.32h7.92v11.55h-7.92zM1050.71 1296.36h7.92v11.55h-7.92zM1066.14 1035.27h7.92v11.55h-7.92zM1220.44 1137.44h7.92v11.55h-7.92zM1251.3 1432.59h7.92v11.55h-7.92zM1282.16 1500.7h7.92v11.55h-7.92zM1297.59 1126.08h7.92v11.55h-7.92zM1313.02 1387.18h7.92v11.55h-7.92zM1313.02 1443.94h7.92v11.55h-7.92zM1313.02 1500.7h7.92v11.55h-7.92zM1313.02 1557.46h7.92v11.55h-7.92zM1328.45 1455.29h7.92v11.55h-7.92zM1413.32 1580.16h7.92v11.55h-7.92zM1436.46 1364.48h7.92v11.55h-7.92zM1552.18 1035.27h7.92v22.9h-7.92zM1552.18 1092.03h7.92v11.55h-7.92zM1552.18 1114.73h7.92v22.9h-7.92zM1552.18 1160.14h7.92v22.9h-7.92zM1552.18 1205.55h7.92v11.55h-7.92zM1552.18 1228.25h7.92v22.9h-7.92zM1552.18 1273.66h7.92v11.55h-7.92zM1552.18 1319.07h7.92v11.55h-7.92zM1552.18 1341.77h7.92v11.55h-7.92zM1552.18 1409.88h7.92v11.55h-7.92zM1552.18 1432.59h7.92v11.55h-7.92zM1552.18 1466.64h7.92v11.55h-7.92zM1552.18 1523.4h7.92v11.55h-7.92zM1552.18 1580.16h7.92v11.55h-7.92zM1552.18 1602.87h7.92v11.55h-7.92zM1598.47 1285.01h7.92v11.55h-7.92zM1652.48 1568.81h7.92v11.55h-7.92zM1667.91 1364.48h7.92v11.55h-7.92zM1667.91 1387.18h7.92v11.55h-7.92zM1667.91 1443.94h7.92v11.55h-7.92zM1667.91 1500.7h7.92v11.55h-7.92zM1667.91 1557.46h7.92v11.55h-7.92zM1675.62 1512.05h7.92v11.55h-7.92zM1683.34 1364.48h7.92v11.55h-7.92zM1706.49 1307.72h7.92v11.55h-7.92z"/>
<path fill="#64f73f" d="M834.69 944.45h7.92v11.55h-7.92zM1158.72 933.1h7.92v22.9h-7.92zM1505.89 944.45h7.92v11.55h-7.92zM1721.91 933.1h7.92v11.55h-7.92zM248.35 1330.42h7.92v11.55h-7.92zM248.35 1421.24h7.92v11.55h-7.92zM263.78 1523.4h7.92v11.55h-7.92zM279.21 1421.24h7.92v11.55h-7.92zM279.21 1455.29h7.92v11.55h-7.92zM279.21 1512.05h7.92v11.55h-7.92zM279.21 1568.81h7.92v11.55h-7.92zM310.07 1069.32h7.92v11.55h-7.92zM325.5 1602.87h7.92v11.55h-7.92zM333.21 1387.18h7.92v11.55h-7.92zM333.21 1591.52h7.92v11.55h-7.92zM340.93 1023.92h7.92v22.9h-7.92zM340.93 1489.35h7.92v11.55h-7.92zM340.93 1546.11h7.92v11.55h-7.92zM526.09 1092.03h7.92v11.55h-7.92zM526.09 1171.49h7.92v22.9h-7.92zM526.09 1239.6h7.92v11.55h-7.92zM526.09 1285.01h7.92v11.55h-7.92zM526.09 1319.07h7.92v11.55h-7.92zM526.09 1466.64h7.92v11.55h-7.92zM526.09 1580.16h7.92v11.55h-7.92zM595.52 1466.64h7.92v11.55h-7.92zM672.67 1614.22h7.92v11.55h-7.92zM711.25 1160.14h7.92v11.55h-7.92zM742.11 1148.79h7.92v11.55h-7.92zM742.11 1205.55h7.92v11.55h-7.92zM742.11 1466.64h7.92v11.55h-7.92zM742.11 1523.4h7.92v11.55h-7.92zM788.4 1602.87h7.92v11.55h-7.92zM796.11 1023.92h7.92v11.55h-7.92zM796.11 1148.79h7.92v11.55h-7.92zM796.11 1205.55h7.92v11.55h-7.92zM796.11 1466.64h7.92v11.55h-7.92zM796.11 1489.35h7.92v22.9h-7.92zM796.11 1523.4h7.92v11.55h-7.92zM796.11 1546.11h7.92v11.55h-7.92zM796.11 1580.16h7.92v11.55h-7.92zM888.7 1080.68h7.92v11.55h-7.92zM888.7 1307.72h7.92v11.55h-7.92zM888.7 1466.64h7.92v22.9h-7.92zM888.7 1523.4h7.92v11.55h-7.92zM888.7 1580.16h7.92v11.55h-7.92zM896.41 1602.87h7.92v11.55h-7.92zM911.84 1148.79h7.92v11.55h-7.92zM919.55 1057.97h7.92v11.55h-7.92zM919.55 1160.14h7.92v11.55h-7.92zM919.55 1330.42h7.92v11.55h-7.92zM919.55 1546.11h7.92v11.55h-7.92zM919.55 1602.87h7.92v11.55h-7.92zM927.27 1012.56h7.92v11.55h-7.92zM927.27 1126.08h7.92v11.55h-7.92zM927.27 1171.49h7.92v22.9h-7.92zM927.27 1216.9h7.92v11.55h-7.92zM927.27 1239.6h7.92v11.55h-7.92zM927.27 1353.12h7.92v11.55h-7.92zM927.27 1375.83h7.92v11.55h-7.92zM927.27 1409.88h7.92v34.26h-7.92zM927.27 1478h7.92v11.55h-7.92zM927.27 1534.76h7.92v11.55h-7.92zM973.56 1023.92h7.92v11.55h-7.92zM981.27 1182.84h7.92v11.55h-7.92zM981.27 1205.55h7.92v22.9h-7.92zM981.27 1353.12h7.92v11.55h-7.92zM981.27 1398.53h7.92v11.55h-7.92zM981.27 1421.24h7.92v11.55h-7.92zM1004.42 1353.12h7.92v11.55h-7.92zM1135.58 1126.08h7.92v11.55h-7.92zM1135.58 1466.64h7.92v11.55h-7.92zM1135.58 1512.05h7.92v11.55h-7.92zM1151.01 1012.56h7.92v11.55h-7.92zM1151.01 1035.27h7.92v11.55h-7.92zM1151.01 1160.14h7.92v22.9h-7.92zM1151.01 1409.88h7.92v11.55h-7.92zM1197.3 1580.16h7.92v11.55h-7.92zM1220.44 1080.68h7.92v11.55h-7.92zM1220.44 1307.72h7.92v11.55h-7.92zM1220.44 1466.64h7.92v11.55h-7.92zM1220.44 1500.7h7.92v11.55h-7.92zM1251.3 1035.27h7.92v11.55h-7.92zM1251.3 1103.38h7.92v11.55h-7.92zM1266.73 1182.84h7.92v11.55h-7.92zM1266.73 1216.9h7.92v11.55h-7.92zM1266.73 1398.53h7.92v11.55h-7.92zM1266.73 1421.24h7.92v11.55h-7.92zM1266.73 1591.52h7.92v11.55h-7.92zM1289.88 1194.2h7.92v11.55h-7.92zM1320.74 1092.03h7.92v11.55h-7.92zM1320.74 1319.07h7.92v22.9h-7.92zM1328.45 1387.18h7.92v11.55h-7.92zM1328.45 1443.94h7.92v11.55h-7.92zM1336.16 1160.14h7.92v11.55h-7.92zM1359.31 1035.27h7.92v11.55h-7.92zM1367.03 1069.32h7.92v11.55h-7.92zM1367.03 1092.03h7.92v11.55h-7.92zM1367.03 1126.08h7.92v11.55h-7.92zM1367.03 1239.6h7.92v11.55h-7.92zM1367.03 1296.36h7.92v11.55h-7.92zM1367.03 1319.07h7.92v11.55h-7.92zM1367.03 1432.59h7.92v11.55h-7.92zM1367.03 1466.64h7.92v11.55h-7.92zM1367.03 1602.87h7.92v11.55h-7.92zM1451.89 1035.27h7.92v11.55h-7.92zM1467.32 1069.32h7.92v11.55h-7.92zM1467.32 1137.44h7.92v11.55h-7.92zM1467.32 1250.96h7.92v11.55h-7.92zM1467.32 1296.36h7.92v11.55h-7.92zM1467.32 1455.29h7.92v11.55h-7.92zM1467.32 1512.05h7.92v11.55h-7.92zM1467.32 1568.81h7.92v11.55h-7.92zM1467.32 1614.22h7.92v11.55h-7.92zM1505.89 1092.03h7.92v11.55h-7.92zM1505.89 1126.08h7.92v11.55h-7.92zM1505.89 1239.6h7.92v11.55h-7.92zM1505.89 1319.07h7.92v11.55h-7.92zM1505.89 1432.59h7.92v11.55h-7.92zM1505.89 1602.87h7.92v11.55h-7.92zM1513.61 1012.56h7.92v11.55h-7.92zM1559.9 1387.18h7.92v11.55h-7.92zM1606.19 1092.03h7.92v11.55h-7.92zM1621.62 1001.21h7.92v22.9h-7.92zM1621.62 1046.62h7.92v11.55h-7.92zM1621.62 1069.32h7.92v11.55h-7.92zM1621.62 1182.84h7.92v22.9h-7.92zM1621.62 1216.9h7.92v11.55h-7.92zM1621.62 1296.36h7.92v11.55h-7.92zM1621.62 1398.53h7.92v11.55h-7.92zM1621.62 1421.24h7.92v11.55h-7.92zM1621.62 1478h7.92v11.55h-7.92zM1621.62 1534.76h7.92v11.55h-7.92zM1637.05 1307.72h7.92v11.55h-7.92zM1652.48 1387.18h7.92v11.55h-7.92zM1652.48 1443.94h7.92v11.55h-7.92zM1667.91 1069.32h7.92v11.55h-7.92zM1667.91 1137.44h7.92v11.55h-7.92zM1667.91 1250.96h7.92v11.55h-7.92zM1667.91 1296.36h7.92v11.55h-7.92zM1667.91 1455.29h7.92v11.55h-7.92zM1667.91 1512.05h7.92v11.55h-7.92zM1667.91 1568.81h7.92v11.55h-7.92zM1667.91 1614.22h7.92v11.55h-7.92zM1675.62 1046.62h7.92v11.55h-7.92zM1675.62 1364.48h7.92v11.55h-7.92zM1691.06 1364.48h7.92v11.55h-7.92zM1698.77 1012.56h7.92v11.55h-7.92zM1698.77 1069.32h7.92v11.55h-7.92zM1698.77 1182.84h7.92v11.55h-7.92zM1698.77 1216.9h7.92v11.55h-7.92zM1698.77 1273.66h7.92v11.55h-7.92zM1698.77 1296.36h7.92v11.55h-7.92zM1698.77 1398.53h7.92v11.55h-7.92zM1698.77 1421.24h7.92v11.55h-7.92zM1698.77 1478h7.92v11.55h-7.92zM1698.77 1534.76h7.92v11.55h-7.92zM1698.77 1591.52h7.92v11.55h-7.92z"/>
<path fill="#3c88ee" d="M1289.88 933.1h7.92v11.55h-7.92zM1729.63 933.1h7.92v11.55h-7.92zM171.2 1341.77h7.92v11.55h-7.92zM178.92 1057.97h7.92v11.55h-7.92zM186.63 1126.08h7.92v11.55h-7.92zM194.35 1489.35h7.92v11.55h-7.92zM248.35 1182.84h7.92v11.55h-7.92zM263.78 1092.03h7.92v11.55h-7.92zM263.78 1319.07h7.92v11.55h-7.92zM263.78 1557.46h7.92v11.55h-7.92zM271.5 1455.29h7.92v11.55h-7.92zM271.5 1512.05h7.92v11.55h-7.92zM271.5 1568.81h7.92v11.55h-7.92zM279.21 1092.03h7.92v11.55h-7.92zM279.21 1273.66h7.92v11.55h-7.92zM279.21 1319.07h7.92v11.55h-7.92zM333.21 1023.92h7.92v11.55h-7.92zM333.21 1489.35h7.92v11.55h-7.92zM333.21 1546.11h7.92v11.55h-7.92zM518.38 1023.92h7.92v22.9h-7.92zM518.38 1489.35h7.92v11.55h-7.92zM518.38 1512.05h7.92v11.55h-7.92zM518.38 1546.11h7.92v11.55h-7.92zM533.8 1080.68h7.92v11.55h-7.92zM533.8 1307.72h7.92v11.55h-7.92zM572.38 1057.97h7.92v11.55h-7.92zM572.38 1296.36h7.92v11.55h-7.92zM580.09 1194.2h7.92v11.55h-7.92zM641.81 1080.68h7.92v11.55h-7.92zM641.81 1126.08h7.92v11.55h-7.92zM641.81 1148.79h7.92v22.9h-7.92zM641.81 1182.84h7.92v11.55h-7.92zM641.81 1205.55h7.92v22.9h-7.92zM641.81 1239.6h7.92v11.55h-7.92zM641.81 1262.31h7.92v11.55h-7.92zM641.81 1307.72h7.92v11.55h-7.92zM641.81 1353.12h7.92v11.55h-7.92zM641.81 1398.53h7.92v11.55h-7.92zM641.81 1421.24h7.92v11.55h-7.92zM641.81 1466.64h7.92v11.55h-7.92zM641.81 1500.7h7.92v11.55h-7.92zM641.81 1523.4h7.92v11.55h-7.92zM641.81 1591.52h7.92v11.55h-7.92zM664.96 1614.22h7.92v11.55h-7.92zM672.67 1069.32h7.92v11.55h-7.92zM672.67 1296.36h7.92v11.55h-7.92zM749.82 1057.97h7.92v11.55h-7.92zM772.97 1580.16h7.92v11.55h-7.92zM780.69 1387.18h7.92v22.9h-7.92zM788.4 1023.92h7.92v11.55h-7.92zM788.4 1069.32h7.92v11.55h-7.92zM788.4 1103.38h7.92v11.55h-7.92zM788.4 1126.08h7.92v22.9h-7.92zM788.4 1239.6h7.92v22.9h-7.92zM788.4 1296.36h7.92v11.55h-7.92zM788.4 1330.42h7.92v11.55h-7.92zM788.4 1455.29h7.92v11.55h-7.92zM788.4 1489.35h7.92v34.26h-7.92zM788.4 1546.11h7.92v11.55h-7.92zM788.4 1568.81h7.92v11.55h-7.92zM788.4 1614.22h7.92v11.55h-7.92zM904.12 1080.68h7.92v11.55h-7.92zM904.12 1307.72h7.92v11.55h-7.92zM904.12 1466.64h7.92v11.55h-7.92zM904.12 1523.4h7.92v11.55h-7.92zM904.12 1580.16h7.92v11.55h-7.92zM911.84 1069.32h7.92v11.55h-7.92zM911.84 1103.38h7.92v11.55h-7.92zM911.84 1137.44h7.92v11.55h-7.92zM911.84 1250.96h7.92v11.55h-7.92zM911.84 1296.36h7.92v11.55h-7.92zM911.84 1330.42h7.92v11.55h-7.92zM911.84 1364.48h7.92v11.55h-7.92zM911.84 1568.81h7.92v11.55h-7.92zM911.84 1614.22h7.92v11.55h-7.92zM934.99 1387.18h7.92v11.55h-7.92zM981.27 1057.97h7.92v11.55h-7.92zM981.27 1500.7h7.92v11.55h-7.92zM996.71 1114.73h7.92v11.55h-7.92zM996.71 1341.77h7.92v11.55h-7.92zM1004.42 1489.35h7.92v11.55h-7.92zM1073.86 1500.7h7.92v11.55h-7.92zM1089.29 1182.84h7.92v11.55h-7.92zM1089.29 1216.9h7.92v11.55h-7.92zM1089.29 1398.53h7.92v11.55h-7.92zM1089.29 1421.24h7.92v11.55h-7.92zM1135.58 1478h7.92v11.55h-7.92zM1135.58 1546.11h7.92v11.55h-7.92zM1151.01 1069.32h7.92v11.55h-7.92zM1151.01 1137.44h7.92v11.55h-7.92zM1151.01 1250.96h7.92v11.55h-7.92zM1151.01 1296.36h7.92v11.55h-7.92zM1151.01 1455.29h7.92v11.55h-7.92zM1151.01 1512.05h7.92v11.55h-7.92zM1151.01 1568.81h7.92v11.55h-7.92zM1151.01 1614.22h7.92v11.55h-7.92zM1166.44 1591.52h7.92v11.55h-7.92zM1189.58 1126.08h7.92v11.55h-7.92zM1189.58 1500.7h7.92v11.55h-7.92zM1235.87 1046.62h7.92v11.55h-7.92zM1235.87 1126.08h7.92v11.55h-7.92zM1235.87 1239.6h7.92v11.55h-7.92zM1235.87 1273.66h7.92v11.55h-7.92zM1235.87 1432.59h7.92v11.55h-7.92zM1251.3 1046.62h7.92v11.55h-7.92zM1251.3 1614.22h7.92v11.55h-7.92zM1320.74 1557.46h7.92v11.55h-7.92zM1328.45 1080.68h7.92v11.55h-7.92zM1328.45 1307.72h7.92v11.55h-7.92zM1359.31 1273.66h7.92v11.55h-7.92zM1367.03 1205.55h7.92v11.55h-7.92zM1367.03 1273.66h7.92v11.55h-7.92zM1367.03 1557.46h7.92v11.55h-7.92zM1390.17 1035.27h7.92v11.55h-7.92zM1397.88 1035.27h7.92v11.55h-7.92zM1397.88 1296.36h7.92v11.55h-7.92zM1405.6 1114.73h7.92v11.55h-7.92zM1405.6 1228.25h7.92v11.55h-7.92zM1459.61 1069.32h7.92v11.55h-7.92zM1459.61 1137.44h7.92v11.55h-7.92zM1459.61 1250.96h7.92v11.55h-7.92zM1459.61 1296.36h7.92v11.55h-7.92zM1459.61 1455.29h7.92v11.55h-7.92zM1459.61 1512.05h7.92v11.55h-7.92zM1459.61 1568.81h7.92v11.55h-7.92zM1459.61 1614.22h7.92v11.55h-7.92zM1475.04 1591.52h7.92v11.55h-7.92zM1490.46 1455.29h7.92v11.55h-7.92zM1529.04 1012.56h7.92v11.55h-7.92zM1529.04 1182.84h7.92v11.55h-7.92zM1529.04 1216.9h7.92v11.55h-7.92zM1529.04 1398.53h7.92v11.55h-7.92zM1529.04 1421.24h7.92v11.55h-7.92zM1529.04 1478h7.92v11.55h-7.92zM1529.04 1534.76h7.92v11.55h-7.92zM1559.9 1546.11h7.92v11.55h-7.92zM1583.05 1319.07h7.92v11.55h-7.92zM1606.19 1103.38h7.92v11.55h-7.92zM1606.19 1160.14h7.92v11.55h-7.92zM1606.19 1330.42h7.92v11.55h-7.92zM1606.19 1580.16h7.92v11.55h-7.92zM1644.77 1069.32h7.92v11.55h-7.92zM1644.77 1171.49h7.92v11.55h-7.92zM1644.77 1239.6h7.92v11.55h-7.92zM1644.77 1296.36h7.92v11.55h-7.92zM1644.77 1409.88h7.92v11.55h-7.92zM1652.48 1489.35h7.92v11.55h-7.92zM1675.62 1057.97h7.92v11.55h-7.92zM1675.62 1285.01h7.92v11.55h-7.92zM1675.62 1568.81h7.92v11.55h-7.92zM1698.77 1114.73h7.92v11.55h-7.92zM1698.77 1228.25h7.92v11.55h-7.92zM1729.63 1103.38h7.92v11.55h-7.92zM1729.63 1205.55h7.92v11.55h-7.92z"/>
<path fill="#eb413c" d="M1590.76 933.1h7.92v22.9h-7.92zM186.63 1239.6h7.92v11.55h-7.92zM194.35 1126.08h7.92v11.55h-7.92zM194.35 1239.6h7.92v11.55h-7.92zM202.06 1512.05h7.92v11.55h-7.92zM217.49 1137.44h7.92v11.55h-7.92zM225.21 1012.56h7.92v11.55h-7.92zM225.21 1092.03h7.92v11.55h-7.92zM225.21 1171.49h7.92v11.55h-7.92zM225.21 1319.07h7.92v11.55h-7.92zM225.21 1375.83h7.92v11.55h-7.92zM225.21 1409.88h7.92v11.55h-7.92zM248.35 1568.81h7.92v11.55h-7.92zM317.78 1262.31h7.92v11.55h-7.92zM634.1 1023.92h7.92v11.55h-7.92zM634.1 1489.35h7.92v11.55h-7.92zM634.1 1546.11h7.92v11.55h-7.92zM657.25 1057.97h7.92v11.55h-7.92zM734.39 1126.08h7.92v11.55h-7.92zM749.82 1069.32h7.92v11.55h-7.92zM749.82 1103.38h7.92v11.55h-7.92zM749.82 1126.08h7.92v22.9h-7.92zM749.82 1239.6h7.92v22.9h-7.92zM749.82 1296.36h7.92v11.55h-7.92zM749.82 1330.42h7.92v11.55h-7.92zM749.82 1455.29h7.92v11.55h-7.92zM749.82 1512.05h7.92v11.55h-7.92zM749.82 1568.81h7.92v11.55h-7.92zM749.82 1614.22h7.92v11.55h-7.92zM757.54 1580.16h7.92v11.55h-7.92zM788.4 1387.18h7.92v11.55h-7.92zM803.83 1023.92h7.92v11.55h-7.92zM803.83 1489.35h7.92v22.9h-7.92zM803.83 1546.11h7.92v11.55h-7.92zM811.54 1092.03h7.92v11.55h-7.92zM865.55 1023.92h7.92v11.55h-7.92zM888.7 1012.56h7.92v11.55h-7.92zM888.7 1046.62h7.92v11.55h-7.92zM888.7 1092.03h7.92v11.55h-7.92zM888.7 1148.79h7.92v11.55h-7.92zM888.7 1171.49h7.92v22.9h-7.92zM888.7 1205.55h7.92v22.9h-7.92zM888.7 1262.31h7.92v22.9h-7.92zM888.7 1319.07h7.92v11.55h-7.92zM888.7 1353.12h7.92v11.55h-7.92zM888.7 1375.83h7.92v11.55h-7.92zM888.7 1398.53h7.92v34.26h-7.92zM888.7 1534.76h7.92v11.55h-7.92zM888.7 1591.52h7.92v11.55h-7.92zM934.99 1012.56h7.92v11.55h-7.92zM934.99 1171.49h7.92v22.9h-7.92zM934.99 1216.9h7.92v11.55h-7.92zM934.99 1353.12h7.92v11.55h-7.92zM934.99 1375.83h7.92v11.55h-7.92zM934.99 1398.53h7.92v22.9h-7.92zM934.99 1478h7.92v11.55h-7.92zM934.99 1534.76h7.92v11.55h-7.92zM942.7 1307.72h7.92v11.55h-7.92zM1004.42 1546.11h7.92v11.55h-7.92zM1089.29 1285.01h7.92v11.55h-7.92zM1135.58 1046.62h7.92v11.55h-7.92zM1135.58 1239.6h7.92v11.55h-7.92zM1135.58 1273.66h7.92v11.55h-7.92zM1135.58 1432.59h7.92v11.55h-7.92zM1166.44 1069.32h7.92v11.55h-7.92zM1166.44 1296.36h7.92v11.55h-7.92zM1274.44 1103.38h7.92v11.55h-7.92zM1274.44 1330.42h7.92v11.55h-7.92zM1289.88 1375.83h7.92v11.55h-7.92zM1590.76 1023.92h7.92v11.55h-7.92zM1590.76 1353.12h7.92v11.55h-7.92zM1613.9 1432.59h7.92v11.55h-7.92zM1683.34 1523.4h7.92v11.55h-7.92zM1683.34 1557.46h7.92v11.55h-7.92z"/>
<g text-anchor="middle" fill="#000" stroke="#000" stroke-width="0.45" opacity="0.66" style="font-family:'DejaVu Sans', 'Liberation Sans', sans-serif;font-size:8.7px">
<text x="175.2 182.9 190.6 198.3 206.0 213.7 221.4 229.2 236.9 244.6 252.3 260.0 267.7 275.5 283.2 290.9 298.6 306.3 314.0 321.7 329.5 337.2 344.9 352.6 360.3 368.0 375.7 383.5 391.2 398.9 406.6 414.3 422.0 429.8 437.5 445.2 452.9 460.6 468.3 476.0 483.8 491.5 499.2 506.9 514.6 522.3 530.0 537.8 545.5 553.2 560.9 568.6 576.3 584.1 591.8 599.5 607.2 614.9 622.6 630.3 638.1 645.8 653.5 661.2 668.9 676.6 684.3 692.1 699.8 707.5 715.2 722.9 730.6 738.4 746.1 753.8 761.5 769.2 776.9 784.6 792.4 800.1 807.8 815.5 823.2 830.9 838.6 846.4 854.1 861.8 869.5 877.2 884.9 892.7 900.4 908.1 915.8 923.5 931.2 938.9 946.7 954.4 962.1 969.8 977.5 985.2 992.9 1000.7 1008.4 1016.1 1023.8 1031.5 1039.2 1047.0 1054.7 1062.4 1070.1 1077.8 1085.5 1093.2 1101.0 1108.7 1116.4 1124.1 1131.8 1139.5 1147.2 1155.0 1162.7 1170.4 1178.1 1185.8 1193.5 1201.3 1209.0 1216.7 1224.4 1232.1 1239.8 1247.5 1255.3 1263.0 1270.7 1278.4 1286.1 1293.8 1301.5 1309.3 1317.0 1324.7 1332.4 1340.1 1347.8 1355.6 1363.3 1371.0 1378.7 1386.4 1394.1 1401.8 1409.6 1417.3 1425.0 1432.7 1440.4 1448.1 1455.8 1463.6 1471.3 1479.0 1486.7 1494.4 1502.1 1509.9 1517.6 1525.3 1533.0 1540.7 1548.4 1556.1 1563.9 1571.6 1579.3 1587.0 1594.7 1602.4 1610.1 1617.9 1625.6 1633.3 1641.0 1648.7 1656.4 1664.2 1671.9 1679.6 1687.3 1695.0 1702.7 1710.4 1718.2 1725.9 1733.6" y="942.1">GGCCACACAACCCCCATTTTTTATGAAAATANCCATGAGCGACCTTGAAAATAGCCATGAGCGACCATTTTCAATAATACTAGAGGCTAACACCTACGGATTTTAGACCAAGAAATGGTCTCCACCAGAAATCCAAGAATGTGATTTATGGCAAGGAAACATATGTGGGGTGAGGTGTATGAGCGTNTGGTCGATGATCAAAT</text>
<text x="175.2 182.9 190.6 198.3 206.0 213.7 221.4 229.2 236.9 244.6 252.3 260.0 267.7 275.5 283.2 290.9 298.6 306.3 314.0 321.7 329.5 337.2 344.9 352.6 360.3 368.0 375.7 383.5 391.2 398.9 406.6 414.3 422.0 429.8 437.5 445.2 452.9 460.6 468.3 476.0 483.8 491.5 499.2 506.9 514.6 522.3 530.0 537.8 545.5 553.2 560.9 568.6 576.3 584.1 591.8 599.5 607.2 614.9 622.6 630.3 638.1 645.8 653.5 661.2 668.9 676.6 684.3 692.1 699.8 707.5 715.2 722.9 730.6 738.4 746.1 753.8 761.5 769.2 776.9 784.6 792.4 800.1 807.8 815.5 823.2 830.9 838.6 846.4 854.1 861.8 869.5 877.2 884.9 892.7 900.4 908.1 915.8 923.5 931.2 938.9 946.7 954.4 962.1 969.8 977.5 985.2 992.9 1000.7 1008.4 1016.1 1023.8 1031.5 1039.2 1047.0 1054.7 1062.4 1070.1 1077.8 1085.5 1093.2 1101.0 1108.7 1116.4 1124.1 1131.8 1139.5 1147.2 1155.0 1162.7 1170.4 1178.1 1185.8 1193.5 1201.3 1209.0 1216.7 1224.4 1232.1 1239.8 1247.5 1255.3 1263.0 1270.7 1278.4 1286.1 1293.8 1301.5 1309.3 1317.0 1324.7 1332.4 1340.1 1347.8 1355.6 1363.3 1371.0 1378.7 1386.4 1394.1 1401.8 1409.6 1417.3 1425.0 1432.7 1440.4 1448.1 1455.8 1463.6 1471.3 1479.0 1486.7 1494.4 1502.1 1509.9 1517.6 1525.3 1533.0 1540.7 1548.4 1556.1 1563.9 1571.6 1579.3 1587.0 1594.7 1602.4 1610.1 1617.9 1625.6 1633.3 1641.0 1648.7 1656.4 1664.2 1671.9 1679.6 1687.3 1695.0 1702.7 1710.4 1718.2 1725.9 1733.6" y="953.45">GGCCACACAACCCCCATTTTTTATGAAAATAGCCATGAGCGACCTTGAAAATAGCCCTGAGCGACCATTTTCAATAATACTAGAGGATAACACCTACGGACTTTAGACCAAGAAATGGTCTCCACCAGAAATCCAAGAATGTGATCTATGGCAAGGAAACATATGTGGGGTGAAGTGTATGAGCGTCTGGTCGATGATCAAT-</text>
<text x="175.2 182.9 190.6 198.3 206.0 213.7 221.4 229.2 236.9 244.6 252.3 260.0 267.7 275.5 283.2 290.9 298.6 306.3 314.0 321.7 329.5 337.2 344.9 352.6 360.3 368.0 375.7 383.5 391.2 398.9 406.6 414.3 422.0 429.8 437.5 445.2 452.9 460.6 468.3 476.0 483.8 491.5 499.2 506.9 514.6 522.3 530.0 537.8 545.5 553.2 560.9 568.6 576.3 584.1 591.8 599.5 607.2 614.9 622.6 630.3 638.1 645.8 653.5 661.2 668.9 676.6 684.3 692.1 699.8 707.5 715.2 722.9 730.6 738.4 746.1 753.8 761.5 769.2 776.9 784.6 792.4 800.1 807.8 815.5 823.2 830.9 838.6 846.4 854.1 861.8 869.5 877.2 884.9 892.7 900.4 908.1 915.8 923.5 931.2 938.9 946.7 954.4 962.1 969.8 977.5 985.2 992.9 1000.7 1008.4 1016.1 1023.8 1031.5 1039.2 1047.0 1054.7 1062.4 1070.1 1077.8 1085.5 1093.2 1101.0 1108.7 1116.4 1124.1 1131.8 1139.5 1147.2 1155.0 1162.7 1170.4 1178.1 1185.8 1193.5 1201.3 1209.0 1216.7 1224.4 1232.1 1239.8 1247.5 1255.3 1263.0 1270.7 1278.4 1286.1 1293.8 1301.5 1309.3 1317.0 1324.7 1332.4 1340.1 1347.8 1355.6 1363.3 1371.0 1378.7 1386.4 1394.1 1401.8 1409.6 1417.3 1425.0 1432.7 1440.4 1448.1 1455.8 1463.6 1471.3 1479.0 1486.7 1494.4 1502.1 1509.9 1517.6 1525.3 1533.0 1540.7 1548.4 1556.1 1563.9 1571.6 1579.3 1587.0 1594.7 1602.4 1610.1 1617.9 1625.6 1633.3 1641.0 1648.7 1656.4 1664.2 1671.9 1679.6 1687.3 1695.0 1702.7 1710.4 1718.2 1725.9 1733.6" y="964.8">GGCCACACAACCCCCATTTTTTATGAAAATAGCCATGAGCGACCTTGAAAATAGCCATGAGCGACCATTTTCAATAATACTAGAGGCTAACACCTATGGATTTTAGACCAAGAAATGGTCTCCACCAGGAATCCAAGAATGTGATCTATGGCAAGGAAACATATGTGGGGTGAGGTGTATGAGCCTCTGGTCGATGATCAAT-</text>
<text x="175.2 182.9 190.6 198.3 206.0 213.7 221.4 229.2 236.9 244.6 252.3 260.0 267.7 275.5 283.2 290.9 298.6 306.3 314.0 321.7 329.5 337.2 344.9 352.6 360.3 368.0 375.7 383.5 391.2 398.9 406.6 414.3 422.0 429.8 437.5 445.2 452.9 460.6 468.3 476.0 483.8 491.5 499.2 506.9 514.6 522.3 530.0 537.8 545.5 553.2 560.9 568.6 576.3 584.1 591.8 599.5 607.2 614.9 622.6 630.3 638.1 645.8 653.5 661.2 668.9 676.6 684.3 692.1 699.8 707.5 715.2 722.9 730.6 738.4 746.1 753.8 761.5 769.2 776.9 784.6 792.4 800.1 807.8 815.5 823.2 830.9 838.6 846.4 854.1 861.8 869.5 877.2 884.9 892.7 900.4 908.1 915.8 923.5 931.2 938.9 946.7 954.4 962.1 969.8 977.5 985.2 992.9 1000.7 1008.4 1016.1 1023.8 1031.5 1039.2 1047.0 1054.7 1062.4 1070.1 1077.8 1085.5 1093.2 1101.0 1108.7 1116.4 1124.1 1131.8 1139.5 1147.2 1155.0 1162.7 1170.4 1178.1 1185.8 1193.5 1201.3 1209.0 1216.7 1224.4 1232.1 1239.8 1247.5 1255.3 1263.0 1270.7 1278.4 1286.1 1293.8 1301.5 1309.3 1317.0 1324.7 1332.4 1340.1 1347.8 1355.6 1363.3 1371.0 1378.7 1386.4 1394.1 1401.8 1409.6 1417.3 1425.0 1432.7 1440.4 1448.1 1455.8 1463.6 1471.3 1479.0 1486.7 1494.4 1502.1 1509.9 1517.6 1525.3 1533.0 1540.7 1548.4 1556.1 1563.9 1571.6 1579.3 1587.0 1594.7 1602.4 1610.1 1617.9 1625.6 1633.3 1641.0 1648.7 1656.4 1664.2 1671.9 1679.6 1687.3 1695.0 1702.7 1710.4 1718.2 1725.9 1733.6" y="976.16">GGCCACACAACCCCCATTTTTTATGAAAATAGCCATGAGCGACCTTGAAAATAGCCATGAGCGACCATTTTCAATAATACTAGAGGCTAACACCTATGGATTTTAGACCAAGAAATGGTCTCCACCAGGAATCCAAGAATGTGATCTATGGCAAGGAAACATATGTGGGGTGAGGTGTATGAGCCTCTGGTCGATGATCAAT-</text>
<text x="175.2 182.9 190.6 198.3 206.0 213.7 221.4 229.2 236.9 244.6 252.3 260.0 267.7 275.5 283.2 290.9 298.6 306.3 314.0 321.7 329.5 337.2 344.9 352.6 360.3 368.0 375.7 383.5 391.2 398.9 406.6 414.3 422.0 429.8 437.5 445.2 452.9 460.6 468.3 476.0 483.8 491.5 499.2 506.9 514.6 522.3 530.0 537.8 545.5 553.2 560.9 568.6 576.3 584.1 591.8 599.5 607.2 614.9 622.6 630.3 638.1 645.8 653.5 661.2 668.9 676.6 684.3 692.1 699.8 707.5 715.2 722.9 730.6 738.4 746.1 753.8 761.5 769.2 776.9 784.6 792.4 800.1 807.8 815.5 823.2 830.9 838.6 846.4 854.1 861.8 869.5 877.2 884.9 892.7 900.4 908.1 915.8 923.5 931.2 938.9 946.7 954.4 962.1 969.8 977.5 985.2 992.9 1000.7 1008.4 1016.1 1023.8 1031.5 1039.2 1047.0 1054.7 1062.4 1070.1 1077.8 1085.5 1093.2 1101.0 1108.7 1116.4 1124.1 1131.8 1139.5 1147.2 1155.0 1162.7 1170.4 1178.1 1185.8 1193.5 1201.3 1209.0 1216.7 1224.4 1232.1 1239.8 1247.5 1255.3 1263.0 1270.7 1278.4 1286.1 1293.8 1301.5 1309.3 1317.0 1324.7 1332.4 1340.1 1347.8 1355.6 1363.3 1371.0 1378.7 1386.4 1394.1 1401.8 1409.6 1417.3 1425.0 1432.7 1440.4 1448.1 1455.8 1463.6 1471.3 1479.0 1486.7 1494.4 1502.1 1509.9 1517.6 1525.3 1533.0 1540.7 1548.4 1556.1 1563.9 1571.6 1579.3 1587.0 1594.7 1602.4 1610.1 1617.9 1625.6 1633.3 1641.0 1648.7 1656.4 1664.2 1671.9 1679.6 1687.3 1695.0 1702.7 1710.4 1718.2 1725.9 1733.6" y="987.51">GGCCACACAACCCCCATTTTTTATGAAAATAGCCATGAGCGACCTTGAAAATAGCCATGAGCGACCATTTTCAATAATACTAGAGGCTAACACCTATGGATTTTAGACCAAGAAATGGTCTCCACCAGGAATCCAAGAATGTGATCTATGGCAAGGAAACATATGTGGGGTGAGGTGTATGAGCCTCTGGTCGATGATCAAT-</text>
<text x="175.2 182.9 190.6 198.3 206.0 213.7 221.4 229.2 236.9 244.6 252.3 260.0 267.7 275.5 283.2 290.9 298.6 306.3 314.0 321.7 329.5 337.2 344.9 352.6 360.3 368.0 375.7 383.5 391.2 398.9 406.6 414.3 422.0 429.8 437.5 445.2 452.9 460.6 468.3 476.0 483.8 491.5 499.2 506.9 514.6 522.3 530.0 537.8 545.5 553.2 560.9 568.6 576.3 584.1 591.8 599.5 607.2 614.9 622.6 630.3 638.1 645.8 653.5 661.2 668.9 676.6 684.3 692.1 699.8 707.5 715.2 722.9 730.6 738.4 746.1 753.8 761.5 769.2 776.9 784.6 792.4 800.1 807.8 815.5 823.2 830.9 838.6 846.4 854.1 861.8 869.5 877.2 884.9 892.7 900.4 908.1 915.8 923.5 931.2 938.9 946.7 954.4 962.1 969.8 977.5 985.2 992.9 1000.7 1008.4 1016.1 1023.8 1031.5 1039.2 1047.0 1054.7 1062.4 1070.1 1077.8 1085.5 1093.2 1101.0 1108.7 1116.4 1124.1 1131.8 1139.5 1147.2 1155.0 1162.7 1170.4 1178.1 1185.8 1193.5 1201.3 1209.0 1216.7 1224.4 1232.1 1239.8 1247.5 1255.3 1263.0 1270.7 1278.4 1286.1 1293.8 1301.5 1309.3 1317.0 1324.7 1332.4 1340.1 1347.8 1355.6 1363.3 1371.0 1378.7 1386.4 1394.1 1401.8 1409.6 1417.3 1425.0 1432.7 1440.4 1448.1 1455.8 1463.6 1471.3 1479.0 1486.7 1494.4 1502.1 1509.9 1517.6 1525.3 1533.0 1540.7 1548.4 1556.1 1563.9 1571.6 1579.3 1587.0 1594.7 1602.4 1610.1 1617.9 1625.6 1633.3 1641.0 1648.7 1656.4 1664.2 1671.9 1679.6 1687.3 1695.0 1702.7 1710.4 1718.2 1725.9 1733.6" y="998.86">GGCCACACAACCCCCATTTTTGT----------------------CGAAAATAGCCATGAACGACCATTTTCAATAATACCGAAGGCTAACACCTACGGATTTTTGACCAAGAAATGGTCTCCACCAGAAATCCAAGAATGTGATCTATGGCAAGGAAACATATGTGGGGTGAGGTGTATGAGCCTCTGGTCGATGATCAAT-</text>
<text x="175.2 182.9 190.6 198.3 206.0 213.7 221.4 229.2 236.9 244.6 252.3 260.0 267.7 275.5 283.2 290.9 298.6 306.3 314.0 321.7 329.5 337.2 344.9 352.6 360.3 368.0 375.7 383.5 391.2 398.9 406.6 414.3 422.0 429.8 437.5 445.2 452.9 460.6 468.3 476.0 483.8 491.5 499.2 506.9 514.6 522.3 530.0 537.8 545.5 553.2 560.9 568.6 576.3 584.1 591.8 599.5 607.2 614.9 622.6 630.3 638.1 645.8 653.5 661.2 668.9 676.6 684.3 692.1 699.8 707.5 715.2 722.9 730.6 738.4 746.1 753.8 761.5 769.2 776.9 784.6 792.4 800.1 807.8 815.5 823.2 830.9 838.6 846.4 854.1 861.8 869.5 877.2 884.9 892.7 900.4 908.1 915.8 923.5 931.2 938.9 946.7 954.4 962.1 969.8 977.5 985.2 992.9 1000.7 1008.4 1016.1 1023.8 1031.5 1039.2 1047.0 1054.7 1062.4 1070.1 1077.8 1085.5 1093.2 1101.0 1108.7 1116.4 1124.1 1131.8 1139.5 1147.2 1155.0 1162.7 1170.4 1178.1 1185.8 1193.5 1201.3 1209.0 1216.7 1224.4 1232.1 1239.8 1247.5 1255.3 1263.0 1270.7 1278.4 1286.1 1293.8 1301.5 1309.3 1317.0 1324.7 1332.4 1340.1 1347.8 1355.6 1363.3 1371.0 1378.7 1386.4 1394.1 1401.8 1409.6 1417.3 1425.0 1432.7 1440.4 1448.1 1455.8 1463.6 1471.3 1479.0 1486.7 1494.4 1502.1 1509.9 1517.6 1525.3 1533.0 1540.7 1548.4 1556.1 1563.9 1571.6 1579.3 1587.0 1594.7 1602.4 1610.1 1617.9 1625.6 1633.3 1641.0 1648.7 1656.4 1664.2 1671.9 1679.6 1687.3 1695.0 1702.7 1710.4 1718.2 1725.9 1733.6" y="1010.21">GGCCACACAACCCCCATTTTTGT----------------------CGAAAATAGCCATGAACGACCATTTTCAATAATACCGAAGGCTAACACCTACGGATTTTTGACCAAGAAATGGTCTCCACCAGAAATCCAAGAATGTGATCTATGGCAAGGAAACATATGTGGGGTGAGGTGTATGAGCCTCTAGTCGATGATCAAT-</text>
<text x="175.2 182.9 190.6 198.3 206.0 213.7 221.4 229.2 236.9 244.6 252.3 260.0 267.7 275.5 283.2 290.9 298.6 306.3 314.0 321.7 329.5 337.2 344.9 352.6 360.3 368.0 375.7 383.5 391.2 398.9 406.6 414.3 422.0 429.8 437.5 445.2 452.9 460.6 468.3 476.0 483.8 491.5 499.2 506.9 514.6 522.3 530.0 537.8 545.5 553.2 560.9 568.6 576.3 584.1 591.8 599.5 607.2 614.9 622.6 630.3 638.1 645.8 653.5 661.2 668.9 676.6 684.3 692.1 699.8 707.5 715.2 722.9 730.6 738.4 746.1 753.8 761.5 769.2 776.9 784.6 792.4 800.1 807.8 815.5 823.2 830.9 838.6 846.4 854.1 861.8 869.5 877.2 884.9 892.7 900.4 908.1 915.8 923.5 931.2 938.9 946.7 954.4 962.1 969.8 977.5 985.2 992.9 1000.7 1008.4 1016.1 1023.8 1031.5 1039.2 1047.0 1054.7 1062.4 1070.1 1077.8 1085.5 1093.2 1101.0 1108.7 1116.4 1124.1 1131.8 1139.5 1147.2 1155.0 1162.7 1170.4 1178.1 1185.8 1193.5 1201.3 1209.0 1216.7 1224.4 1232.1 1239.8 1247.5 1255.3 1263.0 1270.7 1278.4 1286.1 1293.8 1301.5 1309.3 1317.0 1324.7 1332.4 1340.1 1347.8 1355.6 1363.3 1371.0 1378.7 1386.4 1394.1 1401.8 1409.6 1417.3 1425.0 1432.7 1440.4 1448.1 1455.8 1463.6 1471.3 1479.0 1486.7 1494.4 1502.1 1509.9 1517.6 1525.3 1533.0 1540.7 1548.4 1556.1 1563.9 1571.6 1579.3 1587.0 1594.7 1602.4 1610.1 1617.9 1625.6 1633.3 1641.0 1648.7 1656.4 1664.2 1671.9 1679.6 1687.3 1695.0 1702.7 1710.4 1718.2 1725.9 1733.6" y="1021.56">GGCCACAGAACCCCCATTT-TGC----------------------CGAAAATAGCCATGAACGACCATTTTCAATAATACCGAAGGCTAACACGTACGAGTTTTTGACCAAGAAATGGTCTCCACCAAAAATCCAAGAATGTGATCTATGGCAAGGAAACATATGTGGGGTGAGATTTATGAGCCTCTAGTCGATGATAAAT-</text>
<text x="175.2 182.9 190.6 198.3 206.0 213.7 221.4 229.2 236.9 244.6 252.3 260.0 267.7 275.5 283.2 290.9 298.6 306.3 314.0 321.7 329.5 337.2 344.9 352.6 360.3 368.0 375.7 383.5 391.2 398.9 406.6 414.3 422.0 429.8 437.5 445.2 452.9 460.6 468.3 476.0 483.8 491.5 499.2 506.9 514.6 522.3 530.0 537.8 545.5 553.2 560.9 568.6 576.3 584.1 591.8 599.5 607.2 614.9 622.6 630.3 638.1 645.8 653.5 661.2 668.9 676.6 684.3 692.1 699.8 707.5 715.2 722.9 730.6 738.4 746.1 753.8 761.5 769.2 776.9 784.6 792.4 800.1 807.8 815.5 823.2 830.9 838.6 846.4 854.1 861.8 869.5 877.2 884.9 892.7 900.4 908.1 915.8 923.5 931.2 938.9 946.7 954.4 962.1 969.8 977.5 985.2 992.9 1000.7 1008.4 1016.1 1023.8 1031.5 1039.2 1047.0 1054.7 1062.4 1070.1 1077.8 1085.5 1093.2 1101.0 1108.7 1116.4 1124.1 1131.8 1139.5 1147.2 1155.0 1162.7 1170.4 1178.1 1185.8 1193.5 1201.3 1209.0 1216.7 1224.4 1232.1 1239.8 1247.5 1255.3 1263.0 1270.7 1278.4 1286.1 1293.8 1301.5 1309.3 1317.0 1324.7 1332.4 1340.1 1347.8 1355.6 1363.3 1371.0 1378.7 1386.4 1394.1 1401.8 1409.6 1417.3 1425.0 1432.7 1440.4 1448.1 1455.8 1463.6 1471.3 1479.0 1486.7 1494.4 1502.1 1509.9 1517.6 1525.3 1533.0 1540.7 1548.4 1556.1 1563.9 1571.6 1579.3 1587.0 1594.7 1602.4 1610.1 1617.9 1625.6 1633.3 1641.0 1648.7 1656.4 1664.2 1671.9 1679.6 1687.3 1695.0 1702.7 1710.4 1718.2 1725.9 1733.6" y="1032.92">-GCCACACAACCCCCATTTTTTA----------------------TGAAAATAGCCATGAGCGACCATTTTCAATAATACTAGAGGCTAAGACCTACGGATTTTAGACCAAGAAATGGTCTCCACCAGAAATCCAAGAATGTGATCTATGGCAAGGAAACATATGTGGGGTGAGGTGTATGAGCGTCTGGTCGATGATCAAT-</text>
<text x="175.2 182.9 190.6 198.3 206.0 213.7 221.4 229.2 236.9 244.6 252.3 260.0 267.7 275.5 283.2 290.9 298.6 306.3 314.0 321.7 329.5 337.2 344.9 352.6 360.3 368.0 375.7 383.5 391.2 398.9 406.6 414.3 422.0 429.8 437.5 445.2 452.9 460.6 468.3 476.0 483.8 491.5 499.2 506.9 514.6 522.3 530.0 537.8 545.5 553.2 560.9 568.6 576.3 584.1 591.8 599.5 607.2 614.9 622.6 630.3 638.1 645.8 653.5 661.2 668.9 676.6 684.3 692.1 699.8 707.5 715.2 722.9 730.6 738.4 746.1 753.8 761.5 769.2 776.9 784.6 792.4 800.1 807.8 815.5 823.2 830.9 838.6 846.4 854.1 861.8 869.5 877.2 884.9 892.7 900.4 908.1 915.8 923.5 931.2 938.9 946.7 954.4 962.1 969.8 977.5 985.2 992.9 1000.7 1008.4 1016.1 1023.8 1031.5 1039.2 1047.0 1054.7 1062.4 1070.1 1077.8 1085.5 1093.2 1101.0 1108.7 1116.4 1124.1 1131.8 1139.5 1147.2 1155.0 1162.7 1170.4 1178.1 1185.8 1193.5 1201.3 1209.0 1216.7 1224.4 1232.1 1239.8 1247.5 1255.3 1263.0 1270.7 1278.4 1286.1 1293.8 1301.5 1309.3 1317.0 1324.7 1332.4 1340.1 1347.8 1355.6 1363.3 1371.0 1378.7 1386.4 1394.1 1401.8 1409.6 1417.3 1425.0 1432.7 1440.4 1448.1 1455.8 1463.6 1471.3 1479.0 1486.7 1494.4 1502.1 1509.9 1517.6 1525.3 1533.0 1540.7 1548.4 1556.1 1563.9 1571.6 1579.3 1587.0 1594.7 1602.4 1610.1 1617.9 1625.6 1633.3 1641.0 1648.7 1656.4 1664.2 1671.9 1679.6 1687.3 1695.0 1702.7 1710.4 1718.2 1725.9 1733.6" y="1044.27">GGCCACACAACCCCCATTTTTGA----------------------TGAAAATAGCCATGAACGACCATTTTCAATAATACCGAAGGCTAACACCTACGGATTTTTGACCAAGAAATCGTCTCCACCAAAAATCCAAGAATATGATCTATGGCAAAGAATTATATGTAGGGTGAGGTGTACGAGCCTCTGGTCGATGATCAAT-</text>
<text x="175.2 182.9 190.6 198.3 206.0 213.7 221.4 229.2 236.9 244.6 252.3 260.0 267.7 275.5 283.2 290.9 298.6 306.3 314.0 321.7 329.5 337.2 344.9 352.6 360.3 368.0 375.7 383.5 391.2 398.9 406.6 414.3 422.0 429.8 437.5 445.2 452.9 460.6 468.3 476.0 483.8 491.5 499.2 506.9 514.6 522.3 530.0 537.8 545.5 553.2 560.9 568.6 576.3 584.1 591.8 599.5 607.2 614.9 622.6 630.3 638.1 645.8 653.5 661.2 668.9 676.6 684.3 692.1 699.8 707.5 715.2 722.9 730.6 738.4 746.1 753.8 761.5 769.2 776.9 784.6 792.4 800.1 807.8 815.5 823.2 830.9 838.6 846.4 854.1 861.8 869.5 877.2 884.9 892.7 900.4 908.1 915.8 923.5 931.2 938.9 946.7 954.4 962.1 969.8 977.5 985.2 992.9 1000.7 1008.4 1016.1 1023.8 1031.5 1039.2 1047.0 1054.7 1062.4 1070.1 1077.8 1085.5 1093.2 1101.0 1108.7 1116.4 1124.1 1131.8 1139.5 1147.2 1155.0 1162.7 1170.4 1178.1 1185.8 1193.5 1201.3 1209.0 1216.7 1224.4 1232.1 1239.8 1247.5 1255.3 1263.0 1270.7 1278.4 1286.1 1293.8 1301.5 1309.3 1317.0 1324.7 1332.4 1340.1 1347.8 1355.6 1363.3 1371.0 1378.7 1386.4 1394.1 1401.8 1409.6 1417.3 1425.0 1432.7 1440.4 1448.1 1455.8 1463.6 1471.3 1479.0 1486.7 1494.4 1502.1 1509.9 1517.6 1525.3 1533.0 1540.7 1548.4 1556.1 1563.9 1571.6 1579.3 1587.0 1594.7 1602.4 1610.1 1617.9 1625.6 1633.3 1641.0 1648.7 1656.4 1664.2 1671.9 1679.6 1687.3 1695.0 1702.7 1710.4 1718.2 1725.9 1733.6" y="1055.62">GGCCACACAACCCCCATTTTTGT----------------------CGAAAATAGCCATGAACGACCATTTTCAATAATACCGAAGGCTAACACGTACGGATTTTTGACCAAGAAATGGTCTCCACGAGAAATCCAAGATTTTGATCTATGGCA---AAACATATGTGGGGTGAGGTGTACGAGCCTCTAGTCGATAATCAAT-</text>
<text x="175.2 182.9 190.6 198.3 206.0 213.7 221.4 229.2 236.9 244.6 252.3 260.0 267.7 275.5 283.2 290.9 298.6 306.3 314.0 321.7 329.5 337.2 344.9 352.6 360.3 368.0 375.7 383.5 391.2 398.9 406.6 414.3 422.0 429.8 437.5 445.2 452.9 460.6 468.3 476.0 483.8 491.5 499.2 506.9 514.6 522.3 530.0 537.8 545.5 553.2 560.9 568.6 576.3 584.1 591.8 599.5 607.2 614.9 622.6 630.3 638.1 645.8 653.5 661.2 668.9 676.6 684.3 692.1 699.8 707.5 715.2 722.9 730.6 738.4 746.1 753.8 761.5 769.2 776.9 784.6 792.4 800.1 807.8 815.5 823.2 830.9 838.6 846.4 854.1 861.8 869.5 877.2 884.9 892.7 900.4 908.1 915.8 923.5 931.2 938.9 946.7 954.4 962.1 969.8 977.5 985.2 992.9 1000.7 1008.4 1016.1 1023.8 1031.5 1039.2 1047.0 1054.7 1062.4 1070.1 1077.8 1085.5 1093.2 1101.0 1108.7 1116.4 1124.1 1131.8 1139.5 1147.2 1155.0 1162.7 1170.4 1178.1 1185.8 1193.5 1201.3 1209.0 1216.7 1224.4 1232.1 1239.8 1247.5 1255.3 1263.0 1270.7 1278.4 1286.1 1293.8 1301.5 1309.3 1317.0 1324.7 1332.4 1340.1 1347.8 1355.6 1363.3 1371.0 1378.7 1386.4 1394.1 1401.8 1409.6 1417.3 1425.0 1432.7 1440.4 1448.1 1455.8 1463.6 1471.3 1479.0 1486.7 1494.4 1502.1 1509.9 1517.6 1525.3 1533.0 1540.7 1548.4 1556.1 1563.9 1571.6 1579.3 1587.0 1594.7 1602.4 1610.1 1617.9 1625.6 1633.3 1641.0 1648.7 1656.4 1664.2 1671.9 1679.6 1687.3 1695.0 1702.7 1710.4 1718.2 1725.9 1733.6" y="1066.97">GTCCACACAACCCCCATTTTTGT----------------------CGAAAATTGCCATGAACGGCCATTTTCAATTATACCGAAGGCTAACACCTACAGATTTTTTACCAAGAAATGGTCTCCACCAGAAATCCAAGAATGTGATCTATGGCAAGGAAACATATGTGGGGTGAGGTGTATGAGCCTCTGGTCGATTATCAAT-</text>
<text x="175.2 182.9 190.6 198.3 206.0 213.7 221.4 229.2 236.9 244.6 252.3 260.0 267.7 275.5 283.2 290.9 298.6 306.3 314.0 321.7 329.5 337.2 344.9 352.6 360.3 368.0 375.7 383.5 391.2 398.9 406.6 414.3 422.0 429.8 437.5 445.2 452.9 460.6 468.3 476.0 483.8 491.5 499.2 506.9 514.6 522.3 530.0 537.8 545.5 553.2 560.9 568.6 576.3 584.1 591.8 599.5 607.2 614.9 622.6 630.3 638.1 645.8 653.5 661.2 668.9 676.6 684.3 692.1 699.8 707.5 715.2 722.9 730.6 738.4 746.1 753.8 761.5 769.2 776.9 784.6 792.4 800.1 807.8 815.5 823.2 830.9 838.6 846.4 854.1 861.8 869.5 877.2 884.9 892.7 900.4 908.1 915.8 923.5 931.2 938.9 946.7 954.4 962.1 969.8 977.5 985.2 992.9 1000.7 1008.4 1016.1 1023.8 1031.5 1039.2 1047.0 1054.7 1062.4 1070.1 1077.8 1085.5 1093.2 1101.0 1108.7 1116.4 1124.1 1131.8 1139.5 1147.2 1155.0 1162.7 1170.4 1178.1 1185.8 1193.5 1201.3 1209.0 1216.7 1224.4 1232.1 1239.8 1247.5 1255.3 1263.0 1270.7 1278.4 1286.1 1293.8 1301.5 1309.3 1317.0 1324.7 1332.4 1340.1 1347.8 1355.6 1363.3 1371.0 1378.7 1386.4 1394.1 1401.8 1409.6 1417.3 1425.0 1432.7 1440.4 1448.1 1455.8 1463.6 1471.3 1479.0 1486.7 1494.4 1502.1 1509.9 1517.6 1525.3 1533.0 1540.7 1548.4 1556.1 1563.9 1571.6 1579.3 1587.0 1594.7 1602.4 1610.1 1617.9 1625.6 1633.3 1641.0 1648.7 1656.4 1664.2 1671.9 1679.6 1687.3 1695.0 1702.7 1710.4 1718.2 1725.9 1733.6" y="1078.32">GGCCACACAACCCCCATTATTGT----------------------CGAAAATAGCCATGAACGACTATTTTCAATGACACTGAAGGCTAACACCTATGGATTTTTGACCAAGAACTGGTCTCCACCATAGATCCAAGAATGTGATCTATGGCAAGAAAACATATGTGTAGTGAGGTGTATGAGCCTCTAGTTGAAGATAAAT-</text>
<text x="175.2 182.9 190.6 198.3 206.0 213.7 221.4 229.2 236.9 244.6 252.3 260.0 267.7 275.5 283.2 290.9 298.6 306.3 314.0 321.7 329.5 337.2 344.9 352.6 360.3 368.0 375.7 383.5 391.2 398.9 406.6 414.3 422.0 429.8 437.5 445.2 452.9 460.6 468.3 476.0 483.8 491.5 499.2 506.9 514.6 522.3 530.0 537.8 545.5 553.2 560.9 568.6 576.3 584.1 591.8 599.5 607.2 614.9 622.6 630.3 638.1 645.8 653.5 661.2 668.9 676.6 684.3 692.1 699.8 707.5 715.2 722.9 730.6 738.4 746.1 753.8 761.5 769.2 776.9 784.6 792.4 800.1 807.8 815.5 823.2 830.9 838.6 846.4 854.1 861.8 869.5 877.2 884.9 892.7 900.4 908.1 915.8 923.5 931.2 938.9 946.7 954.4 962.1 969.8 977.5 985.2 992.9 1000.7 1008.4 1016.1 1023.8 1031.5 1039.2 1047.0 1054.7 1062.4 1070.1 1077.8 1085.5 1093.2 1101.0 1108.7 1116.4 1124.1 1131.8 1139.5 1147.2 1155.0 1162.7 1170.4 1178.1 1185.8 1193.5 1201.3 1209.0 1216.7 1224.4 1232.1 1239.8 1247.5 1255.3 1263.0 1270.7 1278.4 1286.1 1293.8 1301.5 1309.3 1317.0 1324.7 1332.4 1340.1 1347.8 1355.6 1363.3 1371.0 1378.7 1386.4 1394.1 1401.8 1409.6 1417.3 1425.0 1432.7 1440.4 1448.1 1455.8 1463.6 1471.3 1479.0 1486.7 1494.4 1502.1 1509.9 1517.6 1525.3 1533.0 1540.7 1548.4 1556.1 1563.9 1571.6 1579.3 1587.0 1594.7 1602.4 1610.1 1617.9 1625.6 1633.3 1641.0 1648.7 1656.4 1664.2 1671.9 1679.6 1687.3 1695.0 1702.7 1710.4 1718.2 1725.9 1733.6" y="1089.68">GGCCACACAACCCCCATTTTTGT----------------------CGTAAATAGCCATGAATGACCATTTTCAATAATACCGAAGGCTAACACATTCGGATTTTTGCCCAAGAAATGGTCTCCACCAGAAATCCAAAAATGTGATCTATGTCAAGGAAACATATGTGGGGTGAGGTGTATGAGCCTCTGGTCGATGATCAAT-</text>
<text x="175.2 182.9 190.6 198.3 206.0 213.7 221.4 229.2 236.9 244.6 252.3 260.0 267.7 275.5 283.2 290.9 298.6 306.3 314.0 321.7 329.5 337.2 344.9 352.6 360.3 368.0 375.7 383.5 391.2 398.9 406.6 414.3 422.0 429.8 437.5 445.2 452.9 460.6 468.3 476.0 483.8 491.5 499.2 506.9 514.6 522.3 530.0 537.8 545.5 553.2 560.9 568.6 576.3 584.1 591.8 599.5 607.2 614.9 622.6 630.3 638.1 645.8 653.5 661.2 668.9 676.6 684.3 692.1 699.8 707.5 715.2 722.9 730.6 738.4 746.1 753.8 761.5 769.2 776.9 784.6 792.4 800.1 807.8 815.5 823.2 830.9 838.6 846.4 854.1 861.8 869.5 877.2 884.9 892.7 900.4 908.1 915.8 923.5 931.2 938.9 946.7 954.4 962.1 969.8 977.5 985.2 992.9 1000.7 1008.4 1016.1 1023.8 1031.5 1039.2 1047.0 1054.7 1062.4 1070.1 1077.8 1085.5 1093.2 1101.0 1108.7 1116.4 1124.1 1131.8 1139.5 1147.2 1155.0 1162.7 1170.4 1178.1 1185.8 1193.5 1201.3 1209.0 1216.7 1224.4 1232.1 1239.8 1247.5 1255.3 1263.0 1270.7 1278.4 1286.1 1293.8 1301.5 1309.3 1317.0 1324.7 1332.4 1340.1 1347.8 1355.6 1363.3 1371.0 1378.7 1386.4 1394.1 1401.8 1409.6 1417.3 1425.0 1432.7 1440.4 1448.1 1455.8 1463.6 1471.3 1479.0 1486.7 1494.4 1502.1 1509.9 1517.6 1525.3 1533.0 1540.7 1548.4 1556.1 1563.9 1571.6 1579.3 1587.0 1594.7 1602.4 1610.1 1617.9 1625.6 1633.3 1641.0 1648.7 1656.4 1664.2 1671.9 1679.6 1687.3 1695.0 1702.7 1710.4 1718.2 1725.9 1733.6" y="1101.03">GGCCACAGAACCTCTATTT-TGT----------------------CAAAAATAGCCATGAACGACCATTTTCAATAATACCGAGGGCTAACACGTACGGATTTTTGACCAAGAAATGGTCTCCACCAGAAATCCAAGAATGTGATCTATAGCAAGAAAACATATGTGGGGTGAAGTGTACGAGCCTATGGTCGATGATCAAT-</text>
<text x="175.2 182.9 190.6 198.3 206.0 213.7 221.4 229.2 236.9 244.6 252.3 260.0 267.7 275.5 283.2 290.9 298.6 306.3 314.0 321.7 329.5 337.2 344.9 352.6 360.3 368.0 375.7 383.5 391.2 398.9 406.6 414.3 422.0 429.8 437.5 445.2 452.9 460.6 468.3 476.0 483.8 491.5 499.2 506.9 514.6 522.3 530.0 537.8 545.5 553.2 560.9 568.6 576.3 584.1 591.8 599.5 607.2 614.9 622.6 630.3 638.1 645.8 653.5 661.2 668.9 676.6 684.3 692.1 699.8 707.5 715.2 722.9 730.6 738.4 746.1 753.8 761.5 769.2 776.9 784.6 792.4 800.1 807.8 815.5 823.2 830.9 838.6 846.4 854.1 861.8 869.5 877.2 884.9 892.7 900.4 908.1 915.8 923.5 931.2 938.9 946.7 954.4 962.1 969.8 977.5 985.2 992.9 1000.7 1008.4 1016.1 1023.8 1031.5 1039.2 1047.0 1054.7 1062.4 1070.1 1077.8 1085.5 1093.2 1101.0 1108.7 1116.4 1124.1 1131.8 1139.5 1147.2 1155.0 1162.7 1170.4 1178.1 1185.8 1193.5 1201.3 1209.0 1216.7 1224.4 1232.1 1239.8 1247.5 1255.3 1263.0 1270.7 1278.4 1286.1 1293.8 1301.5 1309.3 1317.0 1324.7 1332.4 1340.1 1347.8 1355.6 1363.3 1371.0 1378.7 1386.4 1394.1 1401.8 1409.6 1417.3 1425.0 1432.7 1440.4 1448.1 1455.8 1463.6 1471.3 1479.0 1486.7 1494.4 1502.1 1509.9 1517.6 1525.3 1533.0 1540.7 1548.4 1556.1 1563.9 1571.6 1579.3 1587.0 1594.7 1602.4 1610.1 1617.9 1625.6 1633.3 1641.0 1648.7 1656.4 1664.2 1671.9 1679.6 1687.3 1695.0 1702.7 1710.4 1718.2 1725.9 1733.6" y="1112.38">GGCCACACAACCCCCATTTTTGT----------------------CGAAAATAGCCATGAACGACCATTTTCAATGACACTGAAGGCTAACACCTATGGATTTTTGACCAAGAAATGGTCTCCACCAGAAATCCAAGAA-ATGGTCTATGGCAAGGAAACATATGTGGGGTGAGGTGTATGAGCCTTTGGTCGATGATCAATT</text>
<text x="175.2 182.9 190.6 198.3 206.0 213.7 221.4 229.2 236.9 244.6 252.3 260.0 267.7 275.5 283.2 290.9 298.6 306.3 314.0 321.7 329.5 337.2 344.9 352.6 360.3 368.0 375.7 383.5 391.2 398.9 406.6 414.3 422.0 429.8 437.5 445.2 452.9 460.6 468.3 476.0 483.8 491.5 499.2 506.9 514.6 522.3 530.0 537.8 545.5 553.2 560.9 568.6 576.3 584.1 591.8 599.5 607.2 614.9 622.6 630.3 638.1 645.8 653.5 661.2 668.9 676.6 684.3 692.1 699.8 707.5 715.2 722.9 730.6 738.4 746.1 753.8 761.5 769.2 776.9 784.6 792.4 800.1 807.8 815.5 823.2 830.9 838.6 846.4 854.1 861.8 869.5 877.2 884.9 892.7 900.4 908.1 915.8 923.5 931.2 938.9 946.7 954.4 962.1 969.8 977.5 985.2 992.9 1000.7 1008.4 1016.1 1023.8 1031.5 1039.2 1047.0 1054.7 1062.4 1070.1 1077.8 1085.5 1093.2 1101.0 1108.7 1116.4 1124.1 1131.8 1139.5 1147.2 1155.0 1162.7 1170.4 1178.1 1185.8 1193.5 1201.3 1209.0 1216.7 1224.4 1232.1 1239.8 1247.5 1255.3 1263.0 1270.7 1278.4 1286.1 1293.8 1301.5 1309.3 1317.0 1324.7 1332.4 1340.1 1347.8 1355.6 1363.3 1371.0 1378.7 1386.4 1394.1 1401.8 1409.6 1417.3 1425.0 1432.7 1440.4 1448.1 1455.8 1463.6 1471.3 1479.0 1486.7 1494.4 1502.1 1509.9 1517.6 1525.3 1533.0 1540.7 1548.4 1556.1 1563.9 1571.6 1579.3 1587.0 1594.7 1602.4 1610.1 1617.9 1625.6 1633.3 1641.0 1648.7 1656.4 1664.2 1671.9 1679.6 1687.3 1695.0 1702.7 1710.4 1718.2 1725.9 1733.6" y="1123.73">-GCCACACAACCCCCATTTTTGT----------------------CGAAAATAGCCATGAACGACCATTTTCAATAATACCGAAGGCTAACACCTACGGATTTTTGATCAAGAAATGGTCTCCACCAGAAATCCAAGAATGTGATCTATGGCAAGGAAACTTATGTGGGGTGAGGTGTACGAGCCTCTGGTCGATGATTAAT-</text>
<text x="175.2 182.9 190.6 198.3 206.0 213.7 221.4 229.2 236.9 244.6 252.3 260.0 267.7 275.5 283.2 290.9 298.6 306.3 314.0 321.7 329.5 337.2 344.9 352.6 360.3 368.0 375.7 383.5 391.2 398.9 406.6 414.3 422.0 429.8 437.5 445.2 452.9 460.6 468.3 476.0 483.8 491.5 499.2 506.9 514.6 522.3 530.0 537.8 545.5 553.2 560.9 568.6 576.3 584.1 591.8 599.5 607.2 614.9 622.6 630.3 638.1 645.8 653.5 661.2 668.9 676.6 684.3 692.1 699.8 707.5 715.2 722.9 730.6 738.4 746.1 753.8 761.5 769.2 776.9 784.6 792.4 800.1 807.8 815.5 823.2 830.9 838.6 846.4 854.1 861.8 869.5 877.2 884.9 892.7 900.4 908.1 915.8 923.5 931.2 938.9 946.7 954.4 962.1 969.8 977.5 985.2 992.9 1000.7 1008.4 1016.1 1023.8 1031.5 1039.2 1047.0 1054.7 1062.4 1070.1 1077.8 1085.5 1093.2 1101.0 1108.7 1116.4 1124.1 1131.8 1139.5 1147.2 1155.0 1162.7 1170.4 1178.1 1185.8 1193.5 1201.3 1209.0 1216.7 1224.4 1232.1 1239.8 1247.5 1255.3 1263.0 1270.7 1278.4 1286.1 1293.8 1301.5 1309.3 1317.0 1324.7 1332.4 1340.1 1347.8 1355.6 1363.3 1371.0 1378.7 1386.4 1394.1 1401.8 1409.6 1417.3 1425.0 1432.7 1440.4 1448.1 1455.8 1463.6 1471.3 1479.0 1486.7 1494.4 1502.1 1509.9 1517.6 1525.3 1533.0 1540.7 1548.4 1556.1 1563.9 1571.6 1579.3 1587.0 1594.7 1602.4 1610.1 1617.9 1625.6 1633.3 1641.0 1648.7 1656.4 1664.2 1671.9 1679.6 1687.3 1695.0 1702.7 1710.4 1718.2 1725.9 1733.6" y="1135.08">GGTGACACAACCCCCATTTTTGT----------------------CGAAAATAGCCATGAATGACCATTTTCAGTGACACTGAAGGCTAACACCTACGAATTTTTGACCAACAAATGGTCTCCACAAGAAATTCAAGATTGTGATCCATGGCAAGAAAACATATGTGGGGTGAAGTGTACGAGCCTCTGGTCGATGATCAAT-</text>
<text x="175.2 182.9 190.6 198.3 206.0 213.7 221.4 229.2 236.9 244.6 252.3 260.0 267.7 275.5 283.2 290.9 298.6 306.3 314.0 321.7 329.5 337.2 344.9 352.6 360.3 368.0 375.7 383.5 391.2 398.9 406.6 414.3 422.0 429.8 437.5 445.2 452.9 460.6 468.3 476.0 483.8 491.5 499.2 506.9 514.6 522.3 530.0 537.8 545.5 553.2 560.9 568.6 576.3 584.1 591.8 599.5 607.2 614.9 622.6 630.3 638.1 645.8 653.5 661.2 668.9 676.6 684.3 692.1 699.8 707.5 715.2 722.9 730.6 738.4 746.1 753.8 761.5 769.2 776.9 784.6 792.4 800.1 807.8 815.5 823.2 830.9 838.6 846.4 854.1 861.8 869.5 877.2 884.9 892.7 900.4 908.1 915.8 923.5 931.2 938.9 946.7 954.4 962.1 969.8 977.5 985.2 992.9 1000.7 1008.4 1016.1 1023.8 1031.5 1039.2 1047.0 1054.7 1062.4 1070.1 1077.8 1085.5 1093.2 1101.0 1108.7 1116.4 1124.1 1131.8 1139.5 1147.2 1155.0 1162.7 1170.4 1178.1 1185.8 1193.5 1201.3 1209.0 1216.7 1224.4 1232.1 1239.8 1247.5 1255.3 1263.0 1270.7 1278.4 1286.1 1293.8 1301.5 1309.3 1317.0 1324.7 1332.4 1340.1 1347.8 1355.6 1363.3 1371.0 1378.7 1386.4 1394.1 1401.8 1409.6 1417.3 1425.0 1432.7 1440.4 1448.1 1455.8 1463.6 1471.3 1479.0 1486.7 1494.4 1502.1 1509.9 1517.6 1525.3 1533.0 1540.7 1548.4 1556.1 1563.9 1571.6 1579.3 1587.0 1594.7 1602.4 1610.1 1617.9 1625.6 1633.3 1641.0 1648.7 1656.4 1664.2 1671.9 1679.6 1687.3 1695.0 1702.7 1710.4 1718.2 1725.9 1733.6" y="1146.44">GGCCACGCAACCCCCATTTTTGT----------------------CGAAAATAGCCATGAACGACCATTTTCAATGACACTGAAGGCTAACACCTATGGATTTTTGACCAAGAAATGGTCTCCACCATAAATCCAACAATGTGATCTATGGCAAGGAAACATATGTGTAGTGAGGTGTATGAGCCTCTGGTCGAAGATCAAT-</text>
<text x="175.2 182.9 190.6 198.3 206.0 213.7 221.4 229.2 236.9 244.6 252.3 260.0 267.7 275.5 283.2 290.9 298.6 306.3 314.0 321.7 329.5 337.2 344.9 352.6 360.3 368.0 375.7 383.5 391.2 398.9 406.6 414.3 422.0 429.8 437.5 445.2 452.9 460.6 468.3 476.0 483.8 491.5 499.2 506.9 514.6 522.3 530.0 537.8 545.5 553.2 560.9 568.6 576.3 584.1 591.8 599.5 607.2 614.9 622.6 630.3 638.1 645.8 653.5 661.2 668.9 676.6 684.3 692.1 699.8 707.5 715.2 722.9 730.6 738.4 746.1 753.8 761.5 769.2 776.9 784.6 792.4 800.1 807.8 815.5 823.2 830.9 838.6 846.4 854.1 861.8 869.5 877.2 884.9 892.7 900.4 908.1 915.8 923.5 931.2 938.9 946.7 954.4 962.1 969.8 977.5 985.2 992.9 1000.7 1008.4 1016.1 1023.8 1031.5 1039.2 1047.0 1054.7 1062.4 1070.1 1077.8 1085.5 1093.2 1101.0 1108.7 1116.4 1124.1 1131.8 1139.5 1147.2 1155.0 1162.7 1170.4 1178.1 1185.8 1193.5 1201.3 1209.0 1216.7 1224.4 1232.1 1239.8 1247.5 1255.3 1263.0 1270.7 1278.4 1286.1 1293.8 1301.5 1309.3 1317.0 1324.7 1332.4 1340.1 1347.8 1355.6 1363.3 1371.0 1378.7 1386.4 1394.1 1401.8 1409.6 1417.3 1425.0 1432.7 1440.4 1448.1 1455.8 1463.6 1471.3 1479.0 1486.7 1494.4 1502.1 1509.9 1517.6 1525.3 1533.0 1540.7 1548.4 1556.1 1563.9 1571.6 1579.3 1587.0 1594.7 1602.4 1610.1 1617.9 1625.6 1633.3 1641.0 1648.7 1656.4 1664.2 1671.9 1679.6 1687.3 1695.0 1702.7 1710.4 1718.2 1725.9 1733.6" y="1157.79">GGCCACACAACCCCCATTTTTGT----------------------CGAAAATAGCCATGAATGACCATTTTCAAAAATACCAAAGGCTAACACGTAAGGATTTTTGACCAAGAAATGGTCTCCACCAGAAATCCAAGAATGTGATCTATGGCAAGGAAACATATGTGGGGTGAGGTGTATGAGCCTCTGGTCGATGATCAAT-</text>
<text x="175.2 182.9 190.6 198.3 206.0 213.7 221.4 229.2 236.9 244.6 252.3 260.0 267.7 275.5 283.2 290.9 298.6 306.3 314.0 321.7 329.5 337.2 344.9 352.6 360.3 368.0 375.7 383.5 391.2 398.9 406.6 414.3 422.0 429.8 437.5 445.2 452.9 460.6 468.3 476.0 483.8 491.5 499.2 506.9 514.6 522.3 530.0 537.8 545.5 553.2 560.9 568.6 576.3 584.1 591.8 599.5 607.2 614.9 622.6 630.3 638.1 645.8 653.5 661.2 668.9 676.6 684.3 692.1 699.8 707.5 715.2 722.9 730.6 738.4 746.1 753.8 761.5 769.2 776.9 784.6 792.4 800.1 807.8 815.5 823.2 830.9 838.6 846.4 854.1 861.8 869.5 877.2 884.9 892.7 900.4 908.1 915.8 923.5 931.2 938.9 946.7 954.4 962.1 969.8 977.5 985.2 992.9 1000.7 1008.4 1016.1 1023.8 1031.5 1039.2 1047.0 1054.7 1062.4 1070.1 1077.8 1085.5 1093.2 1101.0 1108.7 1116.4 1124.1 1131.8 1139.5 1147.2 1155.0 1162.7 1170.4 1178.1 1185.8 1193.5 1201.3 1209.0 1216.7 1224.4 1232.1 1239.8 1247.5 1255.3 1263.0 1270.7 1278.4 1286.1 1293.8 1301.5 1309.3 1317.0 1324.7 1332.4 1340.1 1347.8 1355.6 1363.3 1371.0 1378.7 1386.4 1394.1 1401.8 1409.6 1417.3 1425.0 1432.7 1440.4 1448.1 1455.8 1463.6 1471.3 1479.0 1486.7 1494.4 1502.1 1509.9 1517.6 1525.3 1533.0 1540.7 1548.4 1556.1 1563.9 1571.6 1579.3 1587.0 1594.7 1602.4 1610.1 1617.9 1625.6 1633.3 1641.0 1648.7 1656.4 1664.2 1671.9 1679.6 1687.3 1695.0 1702.7 1710.4 1718.2 1725.9 1733.6" y="1169.14">GGCCACACAACCCCCATTTTTGT----------------------CGAAAATAGCCATGAATGACCATTTACAATAATACCGAAGGCTAACACCTACAGATTTT-GACCAAGAAATGGTCTCCACCAAAAATCCAAGAATGTGATCTATGGAAAGGAAACATATGTGGGGTGAGGTGTACGAGCCTTTGGTCGATGATCAAT-</text>
<text x="175.2 182.9 190.6 198.3 206.0 213.7 221.4 229.2 236.9 244.6 252.3 260.0 267.7 275.5 283.2 290.9 298.6 306.3 314.0 321.7 329.5 337.2 344.9 352.6 360.3 368.0 375.7 383.5 391.2 398.9 406.6 414.3 422.0 429.8 437.5 445.2 452.9 460.6 468.3 476.0 483.8 491.5 499.2 506.9 514.6 522.3 530.0 537.8 545.5 553.2 560.9 568.6 576.3 584.1 591.8 599.5 607.2 614.9 622.6 630.3 638.1 645.8 653.5 661.2 668.9 676.6 684.3 692.1 699.8 707.5 715.2 722.9 730.6 738.4 746.1 753.8 761.5 769.2 776.9 784.6 792.4 800.1 807.8 815.5 823.2 830.9 838.6 846.4 854.1 861.8 869.5 877.2 884.9 892.7 900.4 908.1 915.8 923.5 931.2 938.9 946.7 954.4 962.1 969.8 977.5 985.2 992.9 1000.7 1008.4 1016.1 1023.8 1031.5 1039.2 1047.0 1054.7 1062.4 1070.1 1077.8 1085.5 1093.2 1101.0 1108.7 1116.4 1124.1 1131.8 1139.5 1147.2 1155.0 1162.7 1170.4 1178.1 1185.8 1193.5 1201.3 1209.0 1216.7 1224.4 1232.1 1239.8 1247.5 1255.3 1263.0 1270.7 1278.4 1286.1 1293.8 1301.5 1309.3 1317.0 1324.7 1332.4 1340.1 1347.8 1355.6 1363.3 1371.0 1378.7 1386.4 1394.1 1401.8 1409.6 1417.3 1425.0 1432.7 1440.4 1448.1 1455.8 1463.6 1471.3 1479.0 1486.7 1494.4 1502.1 1509.9 1517.6 1525.3 1533.0 1540.7 1548.4 1556.1 1563.9 1571.6 1579.3 1587.0 1594.7 1602.4 1610.1 1617.9 1625.6 1633.3 1641.0 1648.7 1656.4 1664.2 1671.9 1679.6 1687.3 1695.0 1702.7 1710.4 1718.2 1725.9 1733.6" y="1180.49">GGCCACAGAACCCCCATTT-TGC----------------------CAAAAATAGCCATGAACGACCATTTTCAATAATACCGAAGGCTAACACGTACGAGTTTTTGACCAAGAAATGGTCTCCACCAAAAATCCAAGAATGTGATCTATGGCAAGGAAACATATGTGGGGTGAGGTGTACGAGCCTCTGGTTGATGATCAAT-</text>
<text x="175.2 182.9 190.6 198.3 206.0 213.7 221.4 229.2 236.9 244.6 252.3 260.0 267.7 275.5 283.2 290.9 298.6 306.3 314.0 321.7 329.5 337.2 344.9 352.6 360.3 368.0 375.7 383.5 391.2 398.9 406.6 414.3 422.0 429.8 437.5 445.2 452.9 460.6 468.3 476.0 483.8 491.5 499.2 506.9 514.6 522.3 530.0 537.8 545.5 553.2 560.9 568.6 576.3 584.1 591.8 599.5 607.2 614.9 622.6 630.3 638.1 645.8 653.5 661.2 668.9 676.6 684.3 692.1 699.8 707.5 715.2 722.9 730.6 738.4 746.1 753.8 761.5 769.2 776.9 784.6 792.4 800.1 807.8 815.5 823.2 830.9 838.6 846.4 854.1 861.8 869.5 877.2 884.9 892.7 900.4 908.1 915.8 923.5 931.2 938.9 946.7 954.4 962.1 969.8 977.5 985.2 992.9 1000.7 1008.4 1016.1 1023.8 1031.5 1039.2 1047.0 1054.7 1062.4 1070.1 1077.8 1085.5 1093.2 1101.0 1108.7 1116.4 1124.1 1131.8 1139.5 1147.2 1155.0 1162.7 1170.4 1178.1 1185.8 1193.5 1201.3 1209.0 1216.7 1224.4 1232.1 1239.8 1247.5 1255.3 1263.0 1270.7 1278.4 1286.1 1293.8 1301.5 1309.3 1317.0 1324.7 1332.4 1340.1 1347.8 1355.6 1363.3 1371.0 1378.7 1386.4 1394.1 1401.8 1409.6 1417.3 1425.0 1432.7 1440.4 1448.1 1455.8 1463.6 1471.3 1479.0 1486.7 1494.4 1502.1 1509.9 1517.6 1525.3 1533.0 1540.7 1548.4 1556.1 1563.9 1571.6 1579.3 1587.0 1594.7 1602.4 1610.1 1617.9 1625.6 1633.3 1641.0 1648.7 1656.4 1664.2 1671.9 1679.6 1687.3 1695.0 1702.7 1710.4 1718.2 1725.9 1733.6" y="1191.84">GGCCACACAATCCCCATTT-TGC----------------------CAAAAATAGCCATGAATGACCATTTTCAATAATACCGAAGGCTAACACGTACGAGTTTTTAACCAAGAAATGGTTTCCACCAGAAATCCAAGAATGTAATCTATGGCAAGGAAACATATGTGGGGTGAGGTTTATGAGCCTCTAGTCGATGATAAAT-</text>
<text x="175.2 182.9 190.6 198.3 206.0 213.7 221.4 229.2 236.9 244.6 252.3 260.0 267.7 275.5 283.2 290.9 298.6 306.3 314.0 321.7 329.5 337.2 344.9 352.6 360.3 368.0 375.7 383.5 391.2 398.9 406.6 414.3 422.0 429.8 437.5 445.2 452.9 460.6 468.3 476.0 483.8 491.5 499.2 506.9 514.6 522.3 530.0 537.8 545.5 553.2 560.9 568.6 576.3 584.1 591.8 599.5 607.2 614.9 622.6 630.3 638.1 645.8 653.5 661.2 668.9 676.6 684.3 692.1 699.8 707.5 715.2 722.9 730.6 738.4 746.1 753.8 761.5 769.2 776.9 784.6 792.4 800.1 807.8 815.5 823.2 830.9 838.6 846.4 854.1 861.8 869.5 877.2 884.9 892.7 900.4 908.1 915.8 923.5 931.2 938.9 946.7 954.4 962.1 969.8 977.5 985.2 992.9 1000.7 1008.4 1016.1 1023.8 1031.5 1039.2 1047.0 1054.7 1062.4 1070.1 1077.8 1085.5 1093.2 1101.0 1108.7 1116.4 1124.1 1131.8 1139.5 1147.2 1155.0 1162.7 1170.4 1178.1 1185.8 1193.5 1201.3 1209.0 1216.7 1224.4 1232.1 1239.8 1247.5 1255.3 1263.0 1270.7 1278.4 1286.1 1293.8 1301.5 1309.3 1317.0 1324.7 1332.4 1340.1 1347.8 1355.6 1363.3 1371.0 1378.7 1386.4 1394.1 1401.8 1409.6 1417.3 1425.0 1432.7 1440.4 1448.1 1455.8 1463.6 1471.3 1479.0 1486.7 1494.4 1502.1 1509.9 1517.6 1525.3 1533.0 1540.7 1548.4 1556.1 1563.9 1571.6 1579.3 1587.0 1594.7 1602.4 1610.1 1617.9 1625.6 1633.3 1641.0 1648.7 1656.4 1664.2 1671.9 1679.6 1687.3 1695.0 1702.7 1710.4 1718.2 1725.9 1733.6" y="1203.2">GGCCACACAACCCCCATTTTTGT----------------------CGAAAATATCCATGAACGACCATTTTCAATAATACCGAAGGCTAACACCTACGGATTTTTGACCAAGAAATGGTCTCCACCAGAAATCCAAGAATGTGATATATGGCAAGGAAACATATGTGGGGTGAGGTGTATGAGCCTCTAGTCGATGATCAAT-</text>
<text x="175.2 182.9 190.6 198.3 206.0 213.7 221.4 229.2 236.9 244.6 252.3 260.0 267.7 275.5 283.2 290.9 298.6 306.3 314.0 321.7 329.5 337.2 344.9 352.6 360.3 368.0 375.7 383.5 391.2 398.9 406.6 414.3 422.0 429.8 437.5 445.2 452.9 460.6 468.3 476.0 483.8 491.5 499.2 506.9 514.6 522.3 530.0 537.8 545.5 553.2 560.9 568.6 576.3 584.1 591.8 599.5 607.2 614.9 622.6 630.3 638.1 645.8 653.5 661.2 668.9 676.6 684.3 692.1 699.8 707.5 715.2 722.9 730.6 738.4 746.1 753.8 761.5 769.2 776.9 784.6 792.4 800.1 807.8 815.5 823.2 830.9 838.6 846.4 854.1 861.8 869.5 877.2 884.9 892.7 900.4 908.1 915.8 923.5 931.2 938.9 946.7 954.4 962.1 969.8 977.5 985.2 992.9 1000.7 1008.4 1016.1 1023.8 1031.5 1039.2 1047.0 1054.7 1062.4 1070.1 1077.8 1085.5 1093.2 1101.0 1108.7 1116.4 1124.1 1131.8 1139.5 1147.2 1155.0 1162.7 1170.4 1178.1 1185.8 1193.5 1201.3 1209.0 1216.7 1224.4 1232.1 1239.8 1247.5 1255.3 1263.0 1270.7 1278.4 1286.1 1293.8 1301.5 1309.3 1317.0 1324.7 1332.4 1340.1 1347.8 1355.6 1363.3 1371.0 1378.7 1386.4 1394.1 1401.8 1409.6 1417.3 1425.0 1432.7 1440.4 1448.1 1455.8 1463.6 1471.3 1479.0 1486.7 1494.4 1502.1 1509.9 1517.6 1525.3 1533.0 1540.7 1548.4 1556.1 1563.9 1571.6 1579.3 1587.0 1594.7 1602.4 1610.1 1617.9 1625.6 1633.3 1641.0 1648.7 1656.4 1664.2 1671.9 1679.6 1687.3 1695.0 1702.7 1710.4 1718.2 1725.9 1733.6" y="1214.55">GGCCACACAACCCCCATTTTTGT----------------------CGAAAATAGCCATGAATGACCATTTTCAAAAATACCAAAGGCTAACACGTACGGATTTTTAACCAAGAAATGGTCTCCACCAGAAATCCAAGAATGTGATCTATGGCAAGTAAACATATGTGGGGTGAGGTGTACGAGCCTCTGGTCGATGATCAATT</text>
<text x="175.2 182.9 190.6 198.3 206.0 213.7 221.4 229.2 236.9 244.6 252.3 260.0 267.7 275.5 283.2 290.9 298.6 306.3 314.0 321.7 329.5 337.2 344.9 352.6 360.3 368.0 375.7 383.5 391.2 398.9 406.6 414.3 422.0 429.8 437.5 445.2 452.9 460.6 468.3 476.0 483.8 491.5 499.2 506.9 514.6 522.3 530.0 537.8 545.5 553.2 560.9 568.6 576.3 584.1 591.8 599.5 607.2 614.9 622.6 630.3 638.1 645.8 653.5 661.2 668.9 676.6 684.3 692.1 699.8 707.5 715.2 722.9 730.6 738.4 746.1 753.8 761.5 769.2 776.9 784.6 792.4 800.1 807.8 815.5 823.2 830.9 838.6 846.4 854.1 861.8 869.5 877.2 884.9 892.7 900.4 908.1 915.8 923.5 931.2 938.9 946.7 954.4 962.1 969.8 977.5 985.2 992.9 1000.7 1008.4 1016.1 1023.8 1031.5 1039.2 1047.0 1054.7 1062.4 1070.1 1077.8 1085.5 1093.2 1101.0 1108.7 1116.4 1124.1 1131.8 1139.5 1147.2 1155.0 1162.7 1170.4 1178.1 1185.8 1193.5 1201.3 1209.0 1216.7 1224.4 1232.1 1239.8 1247.5 1255.3 1263.0 1270.7 1278.4 1286.1 1293.8 1301.5 1309.3 1317.0 1324.7 1332.4 1340.1 1347.8 1355.6 1363.3 1371.0 1378.7 1386.4 1394.1 1401.8 1409.6 1417.3 1425.0 1432.7 1440.4 1448.1 1455.8 1463.6 1471.3 1479.0 1486.7 1494.4 1502.1 1509.9 1517.6 1525.3 1533.0 1540.7 1548.4 1556.1 1563.9 1571.6 1579.3 1587.0 1594.7 1602.4 1610.1 1617.9 1625.6 1633.3 1641.0 1648.7 1656.4 1664.2 1671.9 1679.6 1687.3 1695.0 1702.7 1710.4 1718.2 1725.9 1733.6" y="1225.9">-GCCACACAACCCCCATTT-TGC----------------------CGAAAATAGCCATGAATGACCATTTTCAATAATACCGAAGGCTAACACGTACGAGTTTTTAACCAAGAAATGGTTTCCACCAGAAATCCAAGAATGTAATCTATGGCAAGGAAACATATGTGGGGTGAGGTTTATGAGCCTCTAGTCGATGATAAAT-</text>
<text x="175.2 182.9 190.6 198.3 206.0 213.7 221.4 229.2 236.9 244.6 252.3 260.0 267.7 275.5 283.2 290.9 298.6 306.3 314.0 321.7 329.5 337.2 344.9 352.6 360.3 368.0 375.7 383.5 391.2 398.9 406.6 414.3 422.0 429.8 437.5 445.2 452.9 460.6 468.3 476.0 483.8 491.5 499.2 506.9 514.6 522.3 530.0 537.8 545.5 553.2 560.9 568.6 576.3 584.1 591.8 599.5 607.2 614.9 622.6 630.3 638.1 645.8 653.5 661.2 668.9 676.6 684.3 692.1 699.8 707.5 715.2 722.9 730.6 738.4 746.1 753.8 761.5 769.2 776.9 784.6 792.4 800.1 807.8 815.5 823.2 830.9 838.6 846.4 854.1 861.8 869.5 877.2 884.9 892.7 900.4 908.1 915.8 923.5 931.2 938.9 946.7 954.4 962.1 969.8 977.5 985.2 992.9 1000.7 1008.4 1016.1 1023.8 1031.5 1039.2 1047.0 1054.7 1062.4 1070.1 1077.8 1085.5 1093.2 1101.0 1108.7 1116.4 1124.1 1131.8 1139.5 1147.2 1155.0 1162.7 1170.4 1178.1 1185.8 1193.5 1201.3 1209.0 1216.7 1224.4 1232.1 1239.8 1247.5 1255.3 1263.0 1270.7 1278.4 1286.1 1293.8 1301.5 1309.3 1317.0 1324.7 1332.4 1340.1 1347.8 1355.6 1363.3 1371.0 1378.7 1386.4 1394.1 1401.8 1409.6 1417.3 1425.0 1432.7 1440.4 1448.1 1455.8 1463.6 1471.3 1479.0 1486.7 1494.4 1502.1 1509.9 1517.6 1525.3 1533.0 1540.7 1548.4 1556.1 1563.9 1571.6 1579.3 1587.0 1594.7 1602.4 1610.1 1617.9 1625.6 1633.3 1641.0 1648.7 1656.4 1664.2 1671.9 1679.6 1687.3 1695.0 1702.7 1710.4 1718.2 1725.9 1733.6" y="1237.25">GGCCACACAACCCCCATTTTTGT----------------------CGAAAATAGCCATGAACGACCATTTTCAATAATACCGAAGGCTAACACCTACGGATTTTTGACCAAGAAATGGTCTCCACCAGAAATCCAAGAATGTGATCTATGGCAAGGAAACTTATGTGGGGTGAGGTGTACGAGCCTCTGGTCGATGATTAAT-</text>
<text x="175.2 182.9 190.6 198.3 206.0 213.7 221.4 229.2 236.9 244.6 252.3 260.0 267.7 275.5 283.2 290.9 298.6 306.3 314.0 321.7 329.5 337.2 344.9 352.6 360.3 368.0 375.7 383.5 391.2 398.9 406.6 414.3 422.0 429.8 437.5 445.2 452.9 460.6 468.3 476.0 483.8 491.5 499.2 506.9 514.6 522.3 530.0 537.8 545.5 553.2 560.9 568.6 576.3 584.1 591.8 599.5 607.2 614.9 622.6 630.3 638.1 645.8 653.5 661.2 668.9 676.6 684.3 692.1 699.8 707.5 715.2 722.9 730.6 738.4 746.1 753.8 761.5 769.2 776.9 784.6 792.4 800.1 807.8 815.5 823.2 830.9 838.6 846.4 854.1 861.8 869.5 877.2 884.9 892.7 900.4 908.1 915.8 923.5 931.2 938.9 946.7 954.4 962.1 969.8 977.5 985.2 992.9 1000.7 1008.4 1016.1 1023.8 1031.5 1039.2 1047.0 1054.7 1062.4 1070.1 1077.8 1085.5 1093.2 1101.0 1108.7 1116.4 1124.1 1131.8 1139.5 1147.2 1155.0 1162.7 1170.4 1178.1 1185.8 1193.5 1201.3 1209.0 1216.7 1224.4 1232.1 1239.8 1247.5 1255.3 1263.0 1270.7 1278.4 1286.1 1293.8 1301.5 1309.3 1317.0 1324.7 1332.4 1340.1 1347.8 1355.6 1363.3 1371.0 1378.7 1386.4 1394.1 1401.8 1409.6 1417.3 1425.0 1432.7 1440.4 1448.1 1455.8 1463.6 1471.3 1479.0 1486.7 1494.4 1502.1 1509.9 1517.6 1525.3 1533.0 1540.7 1548.4 1556.1 1563.9 1571.6 1579.3 1587.0 1594.7 1602.4 1610.1 1617.9 1625.6 1633.3 1641.0 1648.7 1656.4 1664.2 1671.9 1679.6 1687.3 1695.0 1702.7 1710.4 1718.2 1725.9 1733.6" y="1248.6">GGGGACACAACCCCCATTTTTGT----------------------CAAAAATAGCCATGAATGACCATTTTCAATGACACTGAAGGCTAACACCTACGAATTTTTGACCAACAAATGGTCTCCACGAGAAATCCAAGATTGTGATCTATGGCAAGAAAACATATGTGGGGTGAAGTGTACGAGCCTCTGGTTGATGATCAAT-</text>
<text x="175.2 182.9 190.6 198.3 206.0 213.7 221.4 229.2 236.9 244.6 252.3 260.0 267.7 275.5 283.2 290.9 298.6 306.3 314.0 321.7 329.5 337.2 344.9 352.6 360.3 368.0 375.7 383.5 391.2 398.9 406.6 414.3 422.0 429.8 437.5 445.2 452.9 460.6 468.3 476.0 483.8 491.5 499.2 506.9 514.6 522.3 530.0 537.8 545.5 553.2 560.9 568.6 576.3 584.1 591.8 599.5 607.2 614.9 622.6 630.3 638.1 645.8 653.5 661.2 668.9 676.6 684.3 692.1 699.8 707.5 715.2 722.9 730.6 738.4 746.1 753.8 761.5 769.2 776.9 784.6 792.4 800.1 807.8 815.5 823.2 830.9 838.6 846.4 854.1 861.8 869.5 877.2 884.9 892.7 900.4 908.1 915.8 923.5 931.2 938.9 946.7 954.4 962.1 969.8 977.5 985.2 992.9 1000.7 1008.4 1016.1 1023.8 1031.5 1039.2 1047.0 1054.7 1062.4 1070.1 1077.8 1085.5 1093.2 1101.0 1108.7 1116.4 1124.1 1131.8 1139.5 1147.2 1155.0 1162.7 1170.4 1178.1 1185.8 1193.5 1201.3 1209.0 1216.7 1224.4 1232.1 1239.8 1247.5 1255.3 1263.0 1270.7 1278.4 1286.1 1293.8 1301.5 1309.3 1317.0 1324.7 1332.4 1340.1 1347.8 1355.6 1363.3 1371.0 1378.7 1386.4 1394.1 1401.8 1409.6 1417.3 1425.0 1432.7 1440.4 1448.1 1455.8 1463.6 1471.3 1479.0 1486.7 1494.4 1502.1 1509.9 1517.6 1525.3 1533.0 1540.7 1548.4 1556.1 1563.9 1571.6 1579.3 1587.0 1594.7 1602.4 1610.1 1617.9 1625.6 1633.3 1641.0 1648.7 1656.4 1664.2 1671.9 1679.6 1687.3 1695.0 1702.7 1710.4 1718.2 1725.9 1733.6" y="1259.96">GGCCACACAACCCCCATTTTTGT----------------------CGAAAATAGCCATGAACGACCATTTTCAATGACACTGAAGGCTAACACCTATGGATTTTTGACCAAGAAATGGTCTCCACCATAAATCCAAGAATGTGATCTATGGCAAGGAAACATATGTGTAGTGAGGTGTATGAGCCTCTGGTCGAAGATCAAT-</text>
<text x="175.2 182.9 190.6 198.3 206.0 213.7 221.4 229.2 236.9 244.6 252.3 260.0 267.7 275.5 283.2 290.9 298.6 306.3 314.0 321.7 329.5 337.2 344.9 352.6 360.3 368.0 375.7 383.5 391.2 398.9 406.6 414.3 422.0 429.8 437.5 445.2 452.9 460.6 468.3 476.0 483.8 491.5 499.2 506.9 514.6 522.3 530.0 537.8 545.5 553.2 560.9 568.6 576.3 584.1 591.8 599.5 607.2 614.9 622.6 630.3 638.1 645.8 653.5 661.2 668.9 676.6 684.3 692.1 699.8 707.5 715.2 722.9 730.6 738.4 746.1 753.8 761.5 769.2 776.9 784.6 792.4 800.1 807.8 815.5 823.2 830.9 838.6 846.4 854.1 861.8 869.5 877.2 884.9 892.7 900.4 908.1 915.8 923.5 931.2 938.9 946.7 954.4 962.1 969.8 977.5 985.2 992.9 1000.7 1008.4 1016.1 1023.8 1031.5 1039.2 1047.0 1054.7 1062.4 1070.1 1077.8 1085.5 1093.2 1101.0 1108.7 1116.4 1124.1 1131.8 1139.5 1147.2 1155.0 1162.7 1170.4 1178.1 1185.8 1193.5 1201.3 1209.0 1216.7 1224.4 1232.1 1239.8 1247.5 1255.3 1263.0 1270.7 1278.4 1286.1 1293.8 1301.5 1309.3 1317.0 1324.7 1332.4 1340.1 1347.8 1355.6 1363.3 1371.0 1378.7 1386.4 1394.1 1401.8 1409.6 1417.3 1425.0 1432.7 1440.4 1448.1 1455.8 1463.6 1471.3 1479.0 1486.7 1494.4 1502.1 1509.9 1517.6 1525.3 1533.0 1540.7 1548.4 1556.1 1563.9 1571.6 1579.3 1587.0 1594.7 1602.4 1610.1 1617.9 1625.6 1633.3 1641.0 1648.7 1656.4 1664.2 1671.9 1679.6 1687.3 1695.0 1702.7 1710.4 1718.2 1725.9 1733.6" y="1271.31">GGCCACACAACCCCCATTTGTGT----------------------CGAAAACAGCCATGAATGACCATTTTCAATAATACCGAAGGCTAACACGTACGGATTTTTGACCAAGAAATGGTCTCCACCAGAAATCCAAGAATGTGATCTATGGCAAGGAAACATATGTGGGGTGAGGTGTATGAGCCTCTGGTCGATGATCAAT-</text>
<text x="175.2 182.9 190.6 198.3 206.0 213.7 221.4 229.2 236.9 244.6 252.3 260.0 267.7 275.5 283.2 290.9 298.6 306.3 314.0 321.7 329.5 337.2 344.9 352.6 360.3 368.0 375.7 383.5 391.2 398.9 406.6 414.3 422.0 429.8 437.5 445.2 452.9 460.6 468.3 476.0 483.8 491.5 499.2 506.9 514.6 522.3 530.0 537.8 545.5 553.2 560.9 568.6 576.3 584.1 591.8 599.5 607.2 614.9 622.6 630.3 638.1 645.8 653.5 661.2 668.9 676.6 684.3 692.1 699.8 707.5 715.2 722.9 730.6 738.4 746.1 753.8 761.5 769.2 776.9 784.6 792.4 800.1 807.8 815.5 823.2 830.9 838.6 846.4 854.1 861.8 869.5 877.2 884.9 892.7 900.4 908.1 915.8 923.5 931.2 938.9 946.7 954.4 962.1 969.8 977.5 985.2 992.9 1000.7 1008.4 1016.1 1023.8 1031.5 1039.2 1047.0 1054.7 1062.4 1070.1 1077.8 1085.5 1093.2 1101.0 1108.7 1116.4 1124.1 1131.8 1139.5 1147.2 1155.0 1162.7 1170.4 1178.1 1185.8 1193.5 1201.3 1209.0 1216.7 1224.4 1232.1 1239.8 1247.5 1255.3 1263.0 1270.7 1278.4 1286.1 1293.8 1301.5 1309.3 1317.0 1324.7 1332.4 1340.1 1347.8 1355.6 1363.3 1371.0 1378.7 1386.4 1394.1 1401.8 1409.6 1417.3 1425.0 1432.7 1440.4 1448.1 1455.8 1463.6 1471.3 1479.0 1486.7 1494.4 1502.1 1509.9 1517.6 1525.3 1533.0 1540.7 1548.4 1556.1 1563.9 1571.6 1579.3 1587.0 1594.7 1602.4 1610.1 1617.9 1625.6 1633.3 1641.0 1648.7 1656.4 1664.2 1671.9 1679.6 1687.3 1695.0 1702.7 1710.4 1718.2 1725.9 1733.6" y="1282.66">GGCCACACAACCCCTATTTTTGT----------------------CGAAAACAGCCATGAACGACCATTTTCAATAATACCGAAGGCTAACACGTACGGATTTTTGACCAAGAAATGGTCTCCACGAGAAATCCAAGATTGTGATCTATGGCAATTAAACATATGTGGGGTGAGGTGTACGAGCCTCTGGTCGATGATAAAT-</text>
<text x="175.2 182.9 190.6 198.3 206.0 213.7 221.4 229.2 236.9 244.6 252.3 260.0 267.7 275.5 283.2 290.9 298.6 306.3 314.0 321.7 329.5 337.2 344.9 352.6 360.3 368.0 375.7 383.5 391.2 398.9 406.6 414.3 422.0 429.8 437.5 445.2 452.9 460.6 468.3 476.0 483.8 491.5 499.2 506.9 514.6 522.3 530.0 537.8 545.5 553.2 560.9 568.6 576.3 584.1 591.8 599.5 607.2 614.9 622.6 630.3 638.1 645.8 653.5 661.2 668.9 676.6 684.3 692.1 699.8 707.5 715.2 722.9 730.6 738.4 746.1 753.8 761.5 769.2 776.9 784.6 792.4 800.1 807.8 815.5 823.2 830.9 838.6 846.4 854.1 861.8 869.5 877.2 884.9 892.7 900.4 908.1 915.8 923.5 931.2 938.9 946.7 954.4 962.1 969.8 977.5 985.2 992.9 1000.7 1008.4 1016.1 1023.8 1031.5 1039.2 1047.0 1054.7 1062.4 1070.1 1077.8 1085.5 1093.2 1101.0 1108.7 1116.4 1124.1 1131.8 1139.5 1147.2 1155.0 1162.7 1170.4 1178.1 1185.8 1193.5 1201.3 1209.0 1216.7 1224.4 1232.1 1239.8 1247.5 1255.3 1263.0 1270.7 1278.4 1286.1 1293.8 1301.5 1309.3 1317.0 1324.7 1332.4 1340.1 1347.8 1355.6 1363.3 1371.0 1378.7 1386.4 1394.1 1401.8 1409.6 1417.3 1425.0 1432.7 1440.4 1448.1 1455.8 1463.6 1471.3 1479.0 1486.7 1494.4 1502.1 1509.9 1517.6 1525.3 1533.0 1540.7 1548.4 1556.1 1563.9 1571.6 1579.3 1587.0 1594.7 1602.4 1610.1 1617.9 1625.6 1633.3 1641.0 1648.7 1656.4 1664.2 1671.9 1679.6 1687.3 1695.0 1702.7 1710.4 1718.2 1725.9 1733.6" y="1294.01">GGCCACACAACCCCCATTTTTGT----------------------CAAAAATAGCCATGAACGACCATTTTCAATAATACCGAAGGCTAACACCTACGGATTTTTGACCAAGAAATGGTGTCCACCAGAAATCCAAGAATGTGATCTATGGCAAGGAAACATATGTGGGGTGAGGTGTATGAGCCCCTGGTCGATTATCAAT-</text>
<text x="175.2 182.9 190.6 198.3 206.0 213.7 221.4 229.2 236.9 244.6 252.3 260.0 267.7 275.5 283.2 290.9 298.6 306.3 314.0 321.7 329.5 337.2 344.9 352.6 360.3 368.0 375.7 383.5 391.2 398.9 406.6 414.3 422.0 429.8 437.5 445.2 452.9 460.6 468.3 476.0 483.8 491.5 499.2 506.9 514.6 522.3 530.0 537.8 545.5 553.2 560.9 568.6 576.3 584.1 591.8 599.5 607.2 614.9 622.6 630.3 638.1 645.8 653.5 661.2 668.9 676.6 684.3 692.1 699.8 707.5 715.2 722.9 730.6 738.4 746.1 753.8 761.5 769.2 776.9 784.6 792.4 800.1 807.8 815.5 823.2 830.9 838.6 846.4 854.1 861.8 869.5 877.2 884.9 892.7 900.4 908.1 915.8 923.5 931.2 938.9 946.7 954.4 962.1 969.8 977.5 985.2 992.9 1000.7 1008.4 1016.1 1023.8 1031.5 1039.2 1047.0 1054.7 1062.4 1070.1 1077.8 1085.5 1093.2 1101.0 1108.7 1116.4 1124.1 1131.8 1139.5 1147.2 1155.0 1162.7 1170.4 1178.1 1185.8 1193.5 1201.3 1209.0 1216.7 1224.4 1232.1 1239.8 1247.5 1255.3 1263.0 1270.7 1278.4 1286.1 1293.8 1301.5 1309.3 1317.0 1324.7 1332.4 1340.1 1347.8 1355.6 1363.3 1371.0 1378.7 1386.4 1394.1 1401.8 1409.6 1417.3 1425.0 1432.7 1440.4 1448.1 1455.8 1463.6 1471.3 1479.0 1486.7 1494.4 1502.1 1509.9 1517.6 1525.3 1533.0 1540.7 1548.4 1556.1 1563.9 1571.6 1579.3 1587.0 1594.7 1602.4 1610.1 1617.9 1625.6 1633.3 1641.0 1648.7 1656.4 1664.2 1671.9 1679.6 1687.3 1695.0 1702.7 1710.4 1718.2 1725.9 1733.6" y="1305.36">GGCCACACAACCCCCATTTTTGT----------------------CGAAAATTGCCATGAACGACTATTTTCAATGACACTGAAGGCTAACACCTATGGATTTTTGACCAAGAACTGGTCTCCACCATAGATCCAAGAATGTGATCTATGGCAAGAAAATATATGTGTAGTGAGGTGTATGAGCCTCTAGTTGAAGATAAAT-</text>
<text x="175.2 182.9 190.6 198.3 206.0 213.7 221.4 229.2 236.9 244.6 252.3 260.0 267.7 275.5 283.2 290.9 298.6 306.3 314.0 321.7 329.5 337.2 344.9 352.6 360.3 368.0 375.7 383.5 391.2 398.9 406.6 414.3 422.0 429.8 437.5 445.2 452.9 460.6 468.3 476.0 483.8 491.5 499.2 506.9 514.6 522.3 530.0 537.8 545.5 553.2 560.9 568.6 576.3 584.1 591.8 599.5 607.2 614.9 622.6 630.3 638.1 645.8 653.5 661.2 668.9 676.6 684.3 692.1 699.8 707.5 715.2 722.9 730.6 738.4 746.1 753.8 761.5 769.2 776.9 784.6 792.4 800.1 807.8 815.5 823.2 830.9 838.6 846.4 854.1 861.8 869.5 877.2 884.9 892.7 900.4 908.1 915.8 923.5 931.2 938.9 946.7 954.4 962.1 969.8 977.5 985.2 992.9 1000.7 1008.4 1016.1 1023.8 1031.5 1039.2 1047.0 1054.7 1062.4 1070.1 1077.8 1085.5 1093.2 1101.0 1108.7 1116.4 1124.1 1131.8 1139.5 1147.2 1155.0 1162.7 1170.4 1178.1 1185.8 1193.5 1201.3 1209.0 1216.7 1224.4 1232.1 1239.8 1247.5 1255.3 1263.0 1270.7 1278.4 1286.1 1293.8 1301.5 1309.3 1317.0 1324.7 1332.4 1340.1 1347.8 1355.6 1363.3 1371.0 1378.7 1386.4 1394.1 1401.8 1409.6 1417.3 1425.0 1432.7 1440.4 1448.1 1455.8 1463.6 1471.3 1479.0 1486.7 1494.4 1502.1 1509.9 1517.6 1525.3 1533.0 1540.7 1548.4 1556.1 1563.9 1571.6 1579.3 1587.0 1594.7 1602.4 1610.1 1617.9 1625.6 1633.3 1641.0 1648.7 1656.4 1664.2 1671.9 1679.6 1687.3 1695.0 1702.7 1710.4 1718.2 1725.9 1733.6" y="1316.72">GGCCACACAACCCCCATTTTTGT----------------------CGTAAATAGCCATGAATGACCATTTTCAATAATACCGAAGGCTAACACATTCGGAGTTTTGCCCAAGAAATGGTCTCCACCAGAAATCCAAAAATGTGATCTATGTCAAGGAAACATATGTGGGGTGAGGTGTATGAGCCTCTGGACGATGATCCAT-</text>
<text x="175.2 182.9 190.6 198.3 206.0 213.7 221.4 229.2 236.9 244.6 252.3 260.0 267.7 275.5 283.2 290.9 298.6 306.3 314.0 321.7 329.5 337.2 344.9 352.6 360.3 368.0 375.7 383.5 391.2 398.9 406.6 414.3 422.0 429.8 437.5 445.2 452.9 460.6 468.3 476.0 483.8 491.5 499.2 506.9 514.6 522.3 530.0 537.8 545.5 553.2 560.9 568.6 576.3 584.1 591.8 599.5 607.2 614.9 622.6 630.3 638.1 645.8 653.5 661.2 668.9 676.6 684.3 692.1 699.8 707.5 715.2 722.9 730.6 738.4 746.1 753.8 761.5 769.2 776.9 784.6 792.4 800.1 807.8 815.5 823.2 830.9 838.6 846.4 854.1 861.8 869.5 877.2 884.9 892.7 900.4 908.1 915.8 923.5 931.2 938.9 946.7 954.4 962.1 969.8 977.5 985.2 992.9 1000.7 1008.4 1016.1 1023.8 1031.5 1039.2 1047.0 1054.7 1062.4 1070.1 1077.8 1085.5 1093.2 1101.0 1108.7 1116.4 1124.1 1131.8 1139.5 1147.2 1155.0 1162.7 1170.4 1178.1 1185.8 1193.5 1201.3 1209.0 1216.7 1224.4 1232.1 1239.8 1247.5 1255.3 1263.0 1270.7 1278.4 1286.1 1293.8 1301.5 1309.3 1317.0 1324.7 1332.4 1340.1 1347.8 1355.6 1363.3 1371.0 1378.7 1386.4 1394.1 1401.8 1409.6 1417.3 1425.0 1432.7 1440.4 1448.1 1455.8 1463.6 1471.3 1479.0 1486.7 1494.4 1502.1 1509.9 1517.6 1525.3 1533.0 1540.7 1548.4 1556.1 1563.9 1571.6 1579.3 1587.0 1594.7 1602.4 1610.1 1617.9 1625.6 1633.3 1641.0 1648.7 1656.4 1664.2 1671.9 1679.6 1687.3 1695.0 1702.7 1710.4 1718.2 1725.9 1733.6" y="1328.07">GGCCACAGAACCTCTATTT-TGT----------------------CAAAAATAGCCATGAACGACCATTTTCAATAATACCGAAGGCTAACACGTACGGATTTTTGACCAAGAAATGGTCTCCACCAGAAATCCAAGAATGTGATCTATAGCAAGAAAACATATGTGGGGTGAAGTGTACGAGT-TCTGGTCGATGATCAAT-</text>
<text x="175.2 182.9 190.6 198.3 206.0 213.7 221.4 229.2 236.9 244.6 252.3 260.0 267.7 275.5 283.2 290.9 298.6 306.3 314.0 321.7 329.5 337.2 344.9 352.6 360.3 368.0 375.7 383.5 391.2 398.9 406.6 414.3 422.0 429.8 437.5 445.2 452.9 460.6 468.3 476.0 483.8 491.5 499.2 506.9 514.6 522.3 530.0 537.8 545.5 553.2 560.9 568.6 576.3 584.1 591.8 599.5 607.2 614.9 622.6 630.3 638.1 645.8 653.5 661.2 668.9 676.6 684.3 692.1 699.8 707.5 715.2 722.9 730.6 738.4 746.1 753.8 761.5 769.2 776.9 784.6 792.4 800.1 807.8 815.5 823.2 830.9 838.6 846.4 854.1 861.8 869.5 877.2 884.9 892.7 900.4 908.1 915.8 923.5 931.2 938.9 946.7 954.4 962.1 969.8 977.5 985.2 992.9 1000.7 1008.4 1016.1 1023.8 1031.5 1039.2 1047.0 1054.7 1062.4 1070.1 1077.8 1085.5 1093.2 1101.0 1108.7 1116.4 1124.1 1131.8 1139.5 1147.2 1155.0 1162.7 1170.4 1178.1 1185.8 1193.5 1201.3 1209.0 1216.7 1224.4 1232.1 1239.8 1247.5 1255.3 1263.0 1270.7 1278.4 1286.1 1293.8 1301.5 1309.3 1317.0 1324.7 1332.4 1340.1 1347.8 1355.6 1363.3 1371.0 1378.7 1386.4 1394.1 1401.8 1409.6 1417.3 1425.0 1432.7 1440.4 1448.1 1455.8 1463.6 1471.3 1479.0 1486.7 1494.4 1502.1 1509.9 1517.6 1525.3 1533.0 1540.7 1548.4 1556.1 1563.9 1571.6 1579.3 1587.0 1594.7 1602.4 1610.1 1617.9 1625.6 1633.3 1641.0 1648.7 1656.4 1664.2 1671.9 1679.6 1687.3 1695.0 1702.7 1710.4 1718.2 1725.9 1733.6" y="1339.42">GGCCACACAAACCCCATTTTTGT----------------------CGAAAATAGCCATGAACGACCATTTTCAATGACACTGAAGGCTAACACCTATAGATTTTTGACCAAGAAATGGTCTCCACCAGAAATCCAAGAATGTGGTCTATAGCAAGGAAACATATGTGGGGTGAGGTGTATGAGCCTTTGGTCGATGATCAAT-</text>
<text x="175.2 182.9 190.6 198.3 206.0 213.7 221.4 229.2 236.9 244.6 252.3 260.0 267.7 275.5 283.2 290.9 298.6 306.3 314.0 321.7 329.5 337.2 344.9 352.6 360.3 368.0 375.7 383.5 391.2 398.9 406.6 414.3 422.0 429.8 437.5 445.2 452.9 460.6 468.3 476.0 483.8 491.5 499.2 506.9 514.6 522.3 530.0 537.8 545.5 553.2 560.9 568.6 576.3 584.1 591.8 599.5 607.2 614.9 622.6 630.3 638.1 645.8 653.5 661.2 668.9 676.6 684.3 692.1 699.8 707.5 715.2 722.9 730.6 738.4 746.1 753.8 761.5 769.2 776.9 784.6 792.4 800.1 807.8 815.5 823.2 830.9 838.6 846.4 854.1 861.8 869.5 877.2 884.9 892.7 900.4 908.1 915.8 923.5 931.2 938.9 946.7 954.4 962.1 969.8 977.5 985.2 992.9 1000.7 1008.4 1016.1 1023.8 1031.5 1039.2 1047.0 1054.7 1062.4 1070.1 1077.8 1085.5 1093.2 1101.0 1108.7 1116.4 1124.1 1131.8 1139.5 1147.2 1155.0 1162.7 1170.4 1178.1 1185.8 1193.5 1201.3 1209.0 1216.7 1224.4 1232.1 1239.8 1247.5 1255.3 1263.0 1270.7 1278.4 1286.1 1293.8 1301.5 1309.3 1317.0 1324.7 1332.4 1340.1 1347.8 1355.6 1363.3 1371.0 1378.7 1386.4 1394.1 1401.8 1409.6 1417.3 1425.0 1432.7 1440.4 1448.1 1455.8 1463.6 1471.3 1479.0 1486.7 1494.4 1502.1 1509.9 1517.6 1525.3 1533.0 1540.7 1548.4 1556.1 1563.9 1571.6 1579.3 1587.0 1594.7 1602.4 1610.1 1617.9 1625.6 1633.3 1641.0 1648.7 1656.4 1664.2 1671.9 1679.6 1687.3 1695.0 1702.7 1710.4 1718.2 1725.9 1733.6" y="1350.77">TGCCACACAACCCCCATTTTTGT----------------------CGAAAATAGCCATGAACGACCATTTTCAATAATACCGAAGGCTAACACCTACGGATTTTTGATCAAGAAATGGTCTCCACCAGAAATCCAAGAATGTGATCTATGGCAAGGAAACATATGTGGGGTGAGGTGTACGAGCCTCTGGTCGATGATCAAT-</text>
<text x="175.2 182.9 190.6 198.3 206.0 213.7 221.4 229.2 236.9 244.6 252.3 260.0 267.7 275.5 283.2 290.9 298.6 306.3 314.0 321.7 329.5 337.2 344.9 352.6 360.3 368.0 375.7 383.5 391.2 398.9 406.6 414.3 422.0 429.8 437.5 445.2 452.9 460.6 468.3 476.0 483.8 491.5 499.2 506.9 514.6 522.3 530.0 537.8 545.5 553.2 560.9 568.6 576.3 584.1 591.8 599.5 607.2 614.9 622.6 630.3 638.1 645.8 653.5 661.2 668.9 676.6 684.3 692.1 699.8 707.5 715.2 722.9 730.6 738.4 746.1 753.8 761.5 769.2 776.9 784.6 792.4 800.1 807.8 815.5 823.2 830.9 838.6 846.4 854.1 861.8 869.5 877.2 884.9 892.7 900.4 908.1 915.8 923.5 931.2 938.9 946.7 954.4 962.1 969.8 977.5 985.2 992.9 1000.7 1008.4 1016.1 1023.8 1031.5 1039.2 1047.0 1054.7 1062.4 1070.1 1077.8 1085.5 1093.2 1101.0 1108.7 1116.4 1124.1 1131.8 1139.5 1147.2 1155.0 1162.7 1170.4 1178.1 1185.8 1193.5 1201.3 1209.0 1216.7 1224.4 1232.1 1239.8 1247.5 1255.3 1263.0 1270.7 1278.4 1286.1 1293.8 1301.5 1309.3 1317.0 1324.7 1332.4 1340.1 1347.8 1355.6 1363.3 1371.0 1378.7 1386.4 1394.1 1401.8 1409.6 1417.3 1425.0 1432.7 1440.4 1448.1 1455.8 1463.6 1471.3 1479.0 1486.7 1494.4 1502.1 1509.9 1517.6 1525.3 1533.0 1540.7 1548.4 1556.1 1563.9 1571.6 1579.3 1587.0 1594.7 1602.4 1610.1 1617.9 1625.6 1633.3 1641.0 1648.7 1656.4 1664.2 1671.9 1679.6 1687.3 1695.0 1702.7 1710.4 1718.2 1725.9 1733.6" y="1362.12">GGCCACACAACCCCCATTT-TGC----------------------CGAAAATAGCCATGAATGACCATTTTCAATAATACCGAAGGCTAACACGTACGAGTTTTTAACAAAGAAATGGTCTCCACCAGAAATCCAAGAATGTGATCTATGGCAAGGAAACATATGTGGGGTGAGGTGTATGAGCGTCTGGTCGATGATCAAT-</text>
<text x="175.2 182.9 190.6 198.3 206.0 213.7 221.4 229.2 236.9 244.6 252.3 260.0 267.7 275.5 283.2 290.9 298.6 306.3 314.0 321.7 329.5 337.2 344.9 352.6 360.3 368.0 375.7 383.5 391.2 398.9 406.6 414.3 422.0 429.8 437.5 445.2 452.9 460.6 468.3 476.0 483.8 491.5 499.2 506.9 514.6 522.3 530.0 537.8 545.5 553.2 560.9 568.6 576.3 584.1 591.8 599.5 607.2 614.9 622.6 630.3 638.1 645.8 653.5 661.2 668.9 676.6 684.3 692.1 699.8 707.5 715.2 722.9 730.6 738.4 746.1 753.8 761.5 769.2 776.9 784.6 792.4 800.1 807.8 815.5 823.2 830.9 838.6 846.4 854.1 861.8 869.5 877.2 884.9 892.7 900.4 908.1 915.8 923.5 931.2 938.9 946.7 954.4 962.1 969.8 977.5 985.2 992.9 1000.7 1008.4 1016.1 1023.8 1031.5 1039.2 1047.0 1054.7 1062.4 1070.1 1077.8 1085.5 1093.2 1101.0 1108.7 1116.4 1124.1 1131.8 1139.5 1147.2 1155.0 1162.7 1170.4 1178.1 1185.8 1193.5 1201.3 1209.0 1216.7 1224.4 1232.1 1239.8 1247.5 1255.3 1263.0 1270.7 1278.4 1286.1 1293.8 1301.5 1309.3 1317.0 1324.7 1332.4 1340.1 1347.8 1355.6 1363.3 1371.0 1378.7 1386.4 1394.1 1401.8 1409.6 1417.3 1425.0 1432.7 1440.4 1448.1 1455.8 1463.6 1471.3 1479.0 1486.7 1494.4 1502.1 1509.9 1517.6 1525.3 1533.0 1540.7 1548.4 1556.1 1563.9 1571.6 1579.3 1587.0 1594.7 1602.4 1610.1 1617.9 1625.6 1633.3 1641.0 1648.7 1656.4 1664.2 1671.9 1679.6 1687.3 1695.0 1702.7 1710.4 1718.2 1725.9 1733.6" y="1373.48">GGCCACACAACCCCCATTTTTGT----------------------CGAAAATAGCCATGAACGACCATTTTCAATAATACCGAAGGCTAACACCTATGGATTTTTGACCAAGAAATGGTCTCCACCAGAAATCCAAGAATGTGATCTATGGCAAGGAAACATATCTGGGGTGAGGTGTATGAGCCTCTGGTCGACACACAA--</text>
<text x="175.2 182.9 190.6 198.3 206.0 213.7 221.4 229.2 236.9 244.6 252.3 260.0 267.7 275.5 283.2 290.9 298.6 306.3 314.0 321.7 329.5 337.2 344.9 352.6 360.3 368.0 375.7 383.5 391.2 398.9 406.6 414.3 422.0 429.8 437.5 445.2 452.9 460.6 468.3 476.0 483.8 491.5 499.2 506.9 514.6 522.3 530.0 537.8 545.5 553.2 560.9 568.6 576.3 584.1 591.8 599.5 607.2 614.9 622.6 630.3 638.1 645.8 653.5 661.2 668.9 676.6 684.3 692.1 699.8 707.5 715.2 722.9 730.6 738.4 746.1 753.8 761.5 769.2 776.9 784.6 792.4 800.1 807.8 815.5 823.2 830.9 838.6 846.4 854.1 861.8 869.5 877.2 884.9 892.7 900.4 908.1 915.8 923.5 931.2 938.9 946.7 954.4 962.1 969.8 977.5 985.2 992.9 1000.7 1008.4 1016.1 1023.8 1031.5 1039.2 1047.0 1054.7 1062.4 1070.1 1077.8 1085.5 1093.2 1101.0 1108.7 1116.4 1124.1 1131.8 1139.5 1147.2 1155.0 1162.7 1170.4 1178.1 1185.8 1193.5 1201.3 1209.0 1216.7 1224.4 1232.1 1239.8 1247.5 1255.3 1263.0 1270.7 1278.4 1286.1 1293.8 1301.5 1309.3 1317.0 1324.7 1332.4 1340.1 1347.8 1355.6 1363.3 1371.0 1378.7 1386.4 1394.1 1401.8 1409.6 1417.3 1425.0 1432.7 1440.4 1448.1 1455.8 1463.6 1471.3 1479.0 1486.7 1494.4 1502.1 1509.9 1517.6 1525.3 1533.0 1540.7 1548.4 1556.1 1563.9 1571.6 1579.3 1587.0 1594.7 1602.4 1610.1 1617.9 1625.6 1633.3 1641.0 1648.7 1656.4 1664.2 1671.9 1679.6 1687.3 1695.0 1702.7 1710.4 1718.2 1725.9 1733.6" y="1384.83">GGCCACAGAACCCCCATTT-TGC----------------------CGAAAATAGCCATGAACGACCATTTTCAATAATACCGAAGGCTAACACGTACGAGTTTTTGACCAAGAAATGGTCTCCACCAGAAATCCAAGAATGTGATGTATGGCAAGGAAACATATGTGGGGTGAGGTGTATGAGCCTCTGGTCGATGATCAAT-</text>
<text x="175.2 182.9 190.6 198.3 206.0 213.7 221.4 229.2 236.9 244.6 252.3 260.0 267.7 275.5 283.2 290.9 298.6 306.3 314.0 321.7 329.5 337.2 344.9 352.6 360.3 368.0 375.7 383.5 391.2 398.9 406.6 414.3 422.0 429.8 437.5 445.2 452.9 460.6 468.3 476.0 483.8 491.5 499.2 506.9 514.6 522.3 530.0 537.8 545.5 553.2 560.9 568.6 576.3 584.1 591.8 599.5 607.2 614.9 622.6 630.3 638.1 645.8 653.5 661.2 668.9 676.6 684.3 692.1 699.8 707.5 715.2 722.9 730.6 738.4 746.1 753.8 761.5 769.2 776.9 784.6 792.4 800.1 807.8 815.5 823.2 830.9 838.6 846.4 854.1 861.8 869.5 877.2 884.9 892.7 900.4 908.1 915.8 923.5 931.2 938.9 946.7 954.4 962.1 969.8 977.5 985.2 992.9 1000.7 1008.4 1016.1 1023.8 1031.5 1039.2 1047.0 1054.7 1062.4 1070.1 1077.8 1085.5 1093.2 1101.0 1108.7 1116.4 1124.1 1131.8 1139.5 1147.2 1155.0 1162.7 1170.4 1178.1 1185.8 1193.5 1201.3 1209.0 1216.7 1224.4 1232.1 1239.8 1247.5 1255.3 1263.0 1270.7 1278.4 1286.1 1293.8 1301.5 1309.3 1317.0 1324.7 1332.4 1340.1 1347.8 1355.6 1363.3 1371.0 1378.7 1386.4 1394.1 1401.8 1409.6 1417.3 1425.0 1432.7 1440.4 1448.1 1455.8 1463.6 1471.3 1479.0 1486.7 1494.4 1502.1 1509.9 1517.6 1525.3 1533.0 1540.7 1548.4 1556.1 1563.9 1571.6 1579.3 1587.0 1594.7 1602.4 1610.1 1617.9 1625.6 1633.3 1641.0 1648.7 1656.4 1664.2 1671.9 1679.6 1687.3 1695.0 1702.7 1710.4 1718.2 1725.9 1733.6" y="1396.18">GGCCACACAACCCCCATTTTCAT----------------------CGAAAATAGCCATGAACGACCATTTTCAATAATATGGAAGGCTAACACCTACGGTTTTTTGACCAAGAAATGGTCTCCACCAGAAATCCAAGAATGTGATCTACGACAAGGAAACATATGTGGGGTGAGGTGTATAAGCCTCTGGTCAACGATCAAT-</text>
<text x="175.2 182.9 190.6 198.3 206.0 213.7 221.4 229.2 236.9 244.6 252.3 260.0 267.7 275.5 283.2 290.9 298.6 306.3 314.0 321.7 329.5 337.2 344.9 352.6 360.3 368.0 375.7 383.5 391.2 398.9 406.6 414.3 422.0 429.8 437.5 445.2 452.9 460.6 468.3 476.0 483.8 491.5 499.2 506.9 514.6 522.3 530.0 537.8 545.5 553.2 560.9 568.6 576.3 584.1 591.8 599.5 607.2 614.9 622.6 630.3 638.1 645.8 653.5 661.2 668.9 676.6 684.3 692.1 699.8 707.5 715.2 722.9 730.6 738.4 746.1 753.8 761.5 769.2 776.9 784.6 792.4 800.1 807.8 815.5 823.2 830.9 838.6 846.4 854.1 861.8 869.5 877.2 884.9 892.7 900.4 908.1 915.8 923.5 931.2 938.9 946.7 954.4 962.1 969.8 977.5 985.2 992.9 1000.7 1008.4 1016.1 1023.8 1031.5 1039.2 1047.0 1054.7 1062.4 1070.1 1077.8 1085.5 1093.2 1101.0 1108.7 1116.4 1124.1 1131.8 1139.5 1147.2 1155.0 1162.7 1170.4 1178.1 1185.8 1193.5 1201.3 1209.0 1216.7 1224.4 1232.1 1239.8 1247.5 1255.3 1263.0 1270.7 1278.4 1286.1 1293.8 1301.5 1309.3 1317.0 1324.7 1332.4 1340.1 1347.8 1355.6 1363.3 1371.0 1378.7 1386.4 1394.1 1401.8 1409.6 1417.3 1425.0 1432.7 1440.4 1448.1 1455.8 1463.6 1471.3 1479.0 1486.7 1494.4 1502.1 1509.9 1517.6 1525.3 1533.0 1540.7 1548.4 1556.1 1563.9 1571.6 1579.3 1587.0 1594.7 1602.4 1610.1 1617.9 1625.6 1633.3 1641.0 1648.7 1656.4 1664.2 1671.9 1679.6 1687.3 1695.0 1702.7 1710.4 1718.2 1725.9 1733.6" y="1407.53">GGCCACACAACCCCCATTT-TGC----------------------CGAAAATAGCCATGAATGACCATTTTCAATAATATCGAAGGCTAACACGTACGCGTTTTTAACCAAGAAATGGTTTCCACCAGAAATCCAAGAATGTAATCTATGGCAAGGAAACATATGTGGGGTGAGGTTTATGAGCCTCTAGTCGATGATAAAT-</text>
<text x="175.2 182.9 190.6 198.3 206.0 213.7 221.4 229.2 236.9 244.6 252.3 260.0 267.7 275.5 283.2 290.9 298.6 306.3 314.0 321.7 329.5 337.2 344.9 352.6 360.3 368.0 375.7 383.5 391.2 398.9 406.6 414.3 422.0 429.8 437.5 445.2 452.9 460.6 468.3 476.0 483.8 491.5 499.2 506.9 514.6 522.3 530.0 537.8 545.5 553.2 560.9 568.6 576.3 584.1 591.8 599.5 607.2 614.9 622.6 630.3 638.1 645.8 653.5 661.2 668.9 676.6 684.3 692.1 699.8 707.5 715.2 722.9 730.6 738.4 746.1 753.8 761.5 769.2 776.9 784.6 792.4 800.1 807.8 815.5 823.2 830.9 838.6 846.4 854.1 861.8 869.5 877.2 884.9 892.7 900.4 908.1 915.8 923.5 931.2 938.9 946.7 954.4 962.1 969.8 977.5 985.2 992.9 1000.7 1008.4 1016.1 1023.8 1031.5 1039.2 1047.0 1054.7 1062.4 1070.1 1077.8 1085.5 1093.2 1101.0 1108.7 1116.4 1124.1 1131.8 1139.5 1147.2 1155.0 1162.7 1170.4 1178.1 1185.8 1193.5 1201.3 1209.0 1216.7 1224.4 1232.1 1239.8 1247.5 1255.3 1263.0 1270.7 1278.4 1286.1 1293.8 1301.5 1309.3 1317.0 1324.7 1332.4 1340.1 1347.8 1355.6 1363.3 1371.0 1378.7 1386.4 1394.1 1401.8 1409.6 1417.3 1425.0 1432.7 1440.4 1448.1 1455.8 1463.6 1471.3 1479.0 1486.7 1494.4 1502.1 1509.9 1517.6 1525.3 1533.0 1540.7 1548.4 1556.1 1563.9 1571.6 1579.3 1587.0 1594.7 1602.4 1610.1 1617.9 1625.6 1633.3 1641.0 1648.7 1656.4 1664.2 1671.9 1679.6 1687.3 1695.0 1702.7 1710.4 1718.2 1725.9 1733.6" y="1418.88">GGCCACAGAACCCCCATTT-TGC----------------------CGAAAATAGCCATGAACGACCATTTTCAATAATACCGAAGGCTAACACGTACGAGTTTTTGACCAAGAAATGGTCTCCACCAAAAATCCAAGAATGTGATCTATGGCAAGGAAACATATGTG-GGTGAGGTGTACGAGCCTCTGGTTGATGATCAAT-</text>
<text x="175.2 182.9 190.6 198.3 206.0 213.7 221.4 229.2 236.9 244.6 252.3 260.0 267.7 275.5 283.2 290.9 298.6 306.3 314.0 321.7 329.5 337.2 344.9 352.6 360.3 368.0 375.7 383.5 391.2 398.9 406.6 414.3 422.0 429.8 437.5 445.2 452.9 460.6 468.3 476.0 483.8 491.5 499.2 506.9 514.6 522.3 530.0 537.8 545.5 553.2 560.9 568.6 576.3 584.1 591.8 599.5 607.2 614.9 622.6 630.3 638.1 645.8 653.5 661.2 668.9 676.6 684.3 692.1 699.8 707.5 715.2 722.9 730.6 738.4 746.1 753.8 761.5 769.2 776.9 784.6 792.4 800.1 807.8 815.5 823.2 830.9 838.6 846.4 854.1 861.8 869.5 877.2 884.9 892.7 900.4 908.1 915.8 923.5 931.2 938.9 946.7 954.4 962.1 969.8 977.5 985.2 992.9 1000.7 1008.4 1016.1 1023.8 1031.5 1039.2 1047.0 1054.7 1062.4 1070.1 1077.8 1085.5 1093.2 1101.0 1108.7 1116.4 1124.1 1131.8 1139.5 1147.2 1155.0 1162.7 1170.4 1178.1 1185.8 1193.5 1201.3 1209.0 1216.7 1224.4 1232.1 1239.8 1247.5 1255.3 1263.0 1270.7 1278.4 1286.1 1293.8 1301.5 1309.3 1317.0 1324.7 1332.4 1340.1 1347.8 1355.6 1363.3 1371.0 1378.7 1386.4 1394.1 1401.8 1409.6 1417.3 1425.0 1432.7 1440.4 1448.1 1455.8 1463.6 1471.3 1479.0 1486.7 1494.4 1502.1 1509.9 1517.6 1525.3 1533.0 1540.7 1548.4 1556.1 1563.9 1571.6 1579.3 1587.0 1594.7 1602.4 1610.1 1617.9 1625.6 1633.3 1641.0 1648.7 1656.4 1664.2 1671.9 1679.6 1687.3 1695.0 1702.7 1710.4 1718.2 1725.9 1733.6" y="1430.24">GGCCACACAAACCCA--TTTTGC----------------------CGAAAATAGCCATGAATGACCATTTTCAATAATACCGAAGGCTAACACGTACGAATTTTTAACCAAGAAATGGTTTCCACCAGAAATCCAAGAATGTAATCTATGGCAAGGAAACATATGTGGGGTGAGGTTTATGAGCCTCTAGTCGATGATAAAT-</text>
<text x="175.2 182.9 190.6 198.3 206.0 213.7 221.4 229.2 236.9 244.6 252.3 260.0 267.7 275.5 283.2 290.9 298.6 306.3 314.0 321.7 329.5 337.2 344.9 352.6 360.3 368.0 375.7 383.5 391.2 398.9 406.6 414.3 422.0 429.8 437.5 445.2 452.9 460.6 468.3 476.0 483.8 491.5 499.2 506.9 514.6 522.3 530.0 537.8 545.5 553.2 560.9 568.6 576.3 584.1 591.8 599.5 607.2 614.9 622.6 630.3 638.1 645.8 653.5 661.2 668.9 676.6 684.3 692.1 699.8 707.5 715.2 722.9 730.6 738.4 746.1 753.8 761.5 769.2 776.9 784.6 792.4 800.1 807.8 815.5 823.2 830.9 838.6 846.4 854.1 861.8 869.5 877.2 884.9 892.7 900.4 908.1 915.8 923.5 931.2 938.9 946.7 954.4 962.1 969.8 977.5 985.2 992.9 1000.7 1008.4 1016.1 1023.8 1031.5 1039.2 1047.0 1054.7 1062.4 1070.1 1077.8 1085.5 1093.2 1101.0 1108.7 1116.4 1124.1 1131.8 1139.5 1147.2 1155.0 1162.7 1170.4 1178.1 1185.8 1193.5 1201.3 1209.0 1216.7 1224.4 1232.1 1239.8 1247.5 1255.3 1263.0 1270.7 1278.4 1286.1 1293.8 1301.5 1309.3 1317.0 1324.7 1332.4 1340.1 1347.8 1355.6 1363.3 1371.0 1378.7 1386.4 1394.1 1401.8 1409.6 1417.3 1425.0 1432.7 1440.4 1448.1 1455.8 1463.6 1471.3 1479.0 1486.7 1494.4 1502.1 1509.9 1517.6 1525.3 1533.0 1540.7 1548.4 1556.1 1563.9 1571.6 1579.3 1587.0 1594.7 1602.4 1610.1 1617.9 1625.6 1633.3 1641.0 1648.7 1656.4 1664.2 1671.9 1679.6 1687.3 1695.0 1702.7 1710.4 1718.2 1725.9 1733.6" y="1441.59">GGCCACACAACCCCCATTTTTGT----------------------CGAAAATAGCCATGAACGACCATTTTCAATAATACCGAAGGCTAACACCTACGAATTTTTGACCAACAAATGGTCTCCACGAGAAATCCAAGATTCTGATCTATGGCAAGAAAACATATGTGGGGTGAAGTGTACGAGCCTCGGGTCGATGATCAAT-</text>
<text x="175.2 182.9 190.6 198.3 206.0 213.7 221.4 229.2 236.9 244.6 252.3 260.0 267.7 275.5 283.2 290.9 298.6 306.3 314.0 321.7 329.5 337.2 344.9 352.6 360.3 368.0 375.7 383.5 391.2 398.9 406.6 414.3 422.0 429.8 437.5 445.2 452.9 460.6 468.3 476.0 483.8 491.5 499.2 506.9 514.6 522.3 530.0 537.8 545.5 553.2 560.9 568.6 576.3 584.1 591.8 599.5 607.2 614.9 622.6 630.3 638.1 645.8 653.5 661.2 668.9 676.6 684.3 692.1 699.8 707.5 715.2 722.9 730.6 738.4 746.1 753.8 761.5 769.2 776.9 784.6 792.4 800.1 807.8 815.5 823.2 830.9 838.6 846.4 854.1 861.8 869.5 877.2 884.9 892.7 900.4 908.1 915.8 923.5 931.2 938.9 946.7 954.4 962.1 969.8 977.5 985.2 992.9 1000.7 1008.4 1016.1 1023.8 1031.5 1039.2 1047.0 1054.7 1062.4 1070.1 1077.8 1085.5 1093.2 1101.0 1108.7 1116.4 1124.1 1131.8 1139.5 1147.2 1155.0 1162.7 1170.4 1178.1 1185.8 1193.5 1201.3 1209.0 1216.7 1224.4 1232.1 1239.8 1247.5 1255.3 1263.0 1270.7 1278.4 1286.1 1293.8 1301.5 1309.3 1317.0 1324.7 1332.4 1340.1 1347.8 1355.6 1363.3 1371.0 1378.7 1386.4 1394.1 1401.8 1409.6 1417.3 1425.0 1432.7 1440.4 1448.1 1455.8 1463.6 1471.3 1479.0 1486.7 1494.4 1502.1 1509.9 1517.6 1525.3 1533.0 1540.7 1548.4 1556.1 1563.9 1571.6 1579.3 1587.0 1594.7 1602.4 1610.1 1617.9 1625.6 1633.3 1641.0 1648.7 1656.4 1664.2 1671.9 1679.6 1687.3 1695.0 1702.7 1710.4 1718.2 1725.9 1733.6" y="1452.94">GGCCACACAACCCCCATTTTTGT----------------------CGAAAATAGCCATGAACGACCATTTTCAATAATACCGAAGGCTAACACCTACGGATTTTTGACCAAGAAATGGTCTCCACCAGAAATCCAAGAATGTGATCTACGACAAGGAAACATATGTGGGGTGAGGTGTATGAGCCTCTGGTCAACGATCAAT-</text>
<text x="175.2 182.9 190.6 198.3 206.0 213.7 221.4 229.2 236.9 244.6 252.3 260.0 267.7 275.5 283.2 290.9 298.6 306.3 314.0 321.7 329.5 337.2 344.9 352.6 360.3 368.0 375.7 383.5 391.2 398.9 406.6 414.3 422.0 429.8 437.5 445.2 452.9 460.6 468.3 476.0 483.8 491.5 499.2 506.9 514.6 522.3 530.0 537.8 545.5 553.2 560.9 568.6 576.3 584.1 591.8 599.5 607.2 614.9 622.6 630.3 638.1 645.8 653.5 661.2 668.9 676.6 684.3 692.1 699.8 707.5 715.2 722.9 730.6 738.4 746.1 753.8 761.5 769.2 776.9 784.6 792.4 800.1 807.8 815.5 823.2 830.9 838.6 846.4 854.1 861.8 869.5 877.2 884.9 892.7 900.4 908.1 915.8 923.5 931.2 938.9 946.7 954.4 962.1 969.8 977.5 985.2 992.9 1000.7 1008.4 1016.1 1023.8 1031.5 1039.2 1047.0 1054.7 1062.4 1070.1 1077.8 1085.5 1093.2 1101.0 1108.7 1116.4 1124.1 1131.8 1139.5 1147.2 1155.0 1162.7 1170.4 1178.1 1185.8 1193.5 1201.3 1209.0 1216.7 1224.4 1232.1 1239.8 1247.5 1255.3 1263.0 1270.7 1278.4 1286.1 1293.8 1301.5 1309.3 1317.0 1324.7 1332.4 1340.1 1347.8 1355.6 1363.3 1371.0 1378.7 1386.4 1394.1 1401.8 1409.6 1417.3 1425.0 1432.7 1440.4 1448.1 1455.8 1463.6 1471.3 1479.0 1486.7 1494.4 1502.1 1509.9 1517.6 1525.3 1533.0 1540.7 1548.4 1556.1 1563.9 1571.6 1579.3 1587.0 1594.7 1602.4 1610.1 1617.9 1625.6 1633.3 1641.0 1648.7 1656.4 1664.2 1671.9 1679.6 1687.3 1695.0 1702.7 1710.4 1718.2 1725.9 1733.6" y="1464.29">GGCCACACAACCCTAATTTTTGT----------------------CGAAAATAGCCATGAACGACCATTTTCAATGACACTGAAGGCTAACACCTACGGATTTTTGACCAAGAAATGGTCTCCACCATAAATCCAAGAATGTGATCTATGCCAAGGAAACATATGTGTAGTTAGGTGTATGAGCCTCTGGTCGAAGATCAAT-</text>
<text x="175.2 182.9 190.6 198.3 206.0 213.7 221.4 229.2 236.9 244.6 252.3 260.0 267.7 275.5 283.2 290.9 298.6 306.3 314.0 321.7 329.5 337.2 344.9 352.6 360.3 368.0 375.7 383.5 391.2 398.9 406.6 414.3 422.0 429.8 437.5 445.2 452.9 460.6 468.3 476.0 483.8 491.5 499.2 506.9 514.6 522.3 530.0 537.8 545.5 553.2 560.9 568.6 576.3 584.1 591.8 599.5 607.2 614.9 622.6 630.3 638.1 645.8 653.5 661.2 668.9 676.6 684.3 692.1 699.8 707.5 715.2 722.9 730.6 738.4 746.1 753.8 761.5 769.2 776.9 784.6 792.4 800.1 807.8 815.5 823.2 830.9 838.6 846.4 854.1 861.8 869.5 877.2 884.9 892.7 900.4 908.1 915.8 923.5 931.2 938.9 946.7 954.4 962.1 969.8 977.5 985.2 992.9 1000.7 1008.4 1016.1 1023.8 1031.5 1039.2 1047.0 1054.7 1062.4 1070.1 1077.8 1085.5 1093.2 1101.0 1108.7 1116.4 1124.1 1131.8 1139.5 1147.2 1155.0 1162.7 1170.4 1178.1 1185.8 1193.5 1201.3 1209.0 1216.7 1224.4 1232.1 1239.8 1247.5 1255.3 1263.0 1270.7 1278.4 1286.1 1293.8 1301.5 1309.3 1317.0 1324.7 1332.4 1340.1 1347.8 1355.6 1363.3 1371.0 1378.7 1386.4 1394.1 1401.8 1409.6 1417.3 1425.0 1432.7 1440.4 1448.1 1455.8 1463.6 1471.3 1479.0 1486.7 1494.4 1502.1 1509.9 1517.6 1525.3 1533.0 1540.7 1548.4 1556.1 1563.9 1571.6 1579.3 1587.0 1594.7 1602.4 1610.1 1617.9 1625.6 1633.3 1641.0 1648.7 1656.4 1664.2 1671.9 1679.6 1687.3 1695.0 1702.7 1710.4 1718.2 1725.9 1733.6" y="1475.64">GGCCACACAACCCCCATTTTTGT----------------------CAAAAATAGCAATGAATGACCATTTTCAAAAATACCAAAGGCTAACACATTCGGATTTTTGCCCAAGAAATGGTCTCCACAAGAAATCCAAAAATGTGATCTATGGCAAGAAAACATATGTGGGGTGAGGTGTACGAGCCTCTGGTCGATGATCAAT-</text>
<text x="175.2 182.9 190.6 198.3 206.0 213.7 221.4 229.2 236.9 244.6 252.3 260.0 267.7 275.5 283.2 290.9 298.6 306.3 314.0 321.7 329.5 337.2 344.9 352.6 360.3 368.0 375.7 383.5 391.2 398.9 406.6 414.3 422.0 429.8 437.5 445.2 452.9 460.6 468.3 476.0 483.8 491.5 499.2 506.9 514.6 522.3 530.0 537.8 545.5 553.2 560.9 568.6 576.3 584.1 591.8 599.5 607.2 614.9 622.6 630.3 638.1 645.8 653.5 661.2 668.9 676.6 684.3 692.1 699.8 707.5 715.2 722.9 730.6 738.4 746.1 753.8 761.5 769.2 776.9 784.6 792.4 800.1 807.8 815.5 823.2 830.9 838.6 846.4 854.1 861.8 869.5 877.2 884.9 892.7 900.4 908.1 915.8 923.5 931.2 938.9 946.7 954.4 962.1 969.8 977.5 985.2 992.9 1000.7 1008.4 1016.1 1023.8 1031.5 1039.2 1047.0 1054.7 1062.4 1070.1 1077.8 1085.5 1093.2 1101.0 1108.7 1116.4 1124.1 1131.8 1139.5 1147.2 1155.0 1162.7 1170.4 1178.1 1185.8 1193.5 1201.3 1209.0 1216.7 1224.4 1232.1 1239.8 1247.5 1255.3 1263.0 1270.7 1278.4 1286.1 1293.8 1301.5 1309.3 1317.0 1324.7 1332.4 1340.1 1347.8 1355.6 1363.3 1371.0 1378.7 1386.4 1394.1 1401.8 1409.6 1417.3 1425.0 1432.7 1440.4 1448.1 1455.8 1463.6 1471.3 1479.0 1486.7 1494.4 1502.1 1509.9 1517.6 1525.3 1533.0 1540.7 1548.4 1556.1 1563.9 1571.6 1579.3 1587.0 1594.7 1602.4 1610.1 1617.9 1625.6 1633.3 1641.0 1648.7 1656.4 1664.2 1671.9 1679.6 1687.3 1695.0 1702.7 1710.4 1718.2 1725.9 1733.6" y="1487">GGCCACACAACCCCCATTT-TGC----------------------CGAAAATAGCCATGAACGACCATTTTCAATAATACCGAAGGCTAACACATACGAGTTTTTGACCAAGAAATGGTCTCCACTAGAAATCCAAGAATGTGATCTATGGCAAGGAAACATATGTGGGGTGAGGTTTATGAGCCTCTAGTCGATGATAAAT-</text>
<text x="175.2 182.9 190.6 198.3 206.0 213.7 221.4 229.2 236.9 244.6 252.3 260.0 267.7 275.5 283.2 290.9 298.6 306.3 314.0 321.7 329.5 337.2 344.9 352.6 360.3 368.0 375.7 383.5 391.2 398.9 406.6 414.3 422.0 429.8 437.5 445.2 452.9 460.6 468.3 476.0 483.8 491.5 499.2 506.9 514.6 522.3 530.0 537.8 545.5 553.2 560.9 568.6 576.3 584.1 591.8 599.5 607.2 614.9 622.6 630.3 638.1 645.8 653.5 661.2 668.9 676.6 684.3 692.1 699.8 707.5 715.2 722.9 730.6 738.4 746.1 753.8 761.5 769.2 776.9 784.6 792.4 800.1 807.8 815.5 823.2 830.9 838.6 846.4 854.1 861.8 869.5 877.2 884.9 892.7 900.4 908.1 915.8 923.5 931.2 938.9 946.7 954.4 962.1 969.8 977.5 985.2 992.9 1000.7 1008.4 1016.1 1023.8 1031.5 1039.2 1047.0 1054.7 1062.4 1070.1 1077.8 1085.5 1093.2 1101.0 1108.7 1116.4 1124.1 1131.8 1139.5 1147.2 1155.0 1162.7 1170.4 1178.1 1185.8 1193.5 1201.3 1209.0 1216.7 1224.4 1232.1 1239.8 1247.5 1255.3 1263.0 1270.7 1278.4 1286.1 1293.8 1301.5 1309.3 1317.0 1324.7 1332.4 1340.1 1347.8 1355.6 1363.3 1371.0 1378.7 1386.4 1394.1 1401.8 1409.6 1417.3 1425.0 1432.7 1440.4 1448.1 1455.8 1463.6 1471.3 1479.0 1486.7 1494.4 1502.1 1509.9 1517.6 1525.3 1533.0 1540.7 1548.4 1556.1 1563.9 1571.6 1579.3 1587.0 1594.7 1602.4 1610.1 1617.9 1625.6 1633.3 1641.0 1648.7 1656.4 1664.2 1671.9 1679.6 1687.3 1695.0 1702.7 1710.4 1718.2 1725.9 1733.6" y="1498.35">GGCTACACAACCCCCATTTTTTA----------------------TGAAAATAGCCATGAGCGACCATTTTCAATAATACTAGAGGCTAACACCTACGGATTTTTGACTAAGAAATGGTCTCCACCAGAAATCCAAGAATGTGATCTATGGCAAGGAAACATATGTGGGGTGAGGTGTATGAGCCTCTGGTCTATGATCAAT-</text>
<text x="175.2 182.9 190.6 198.3 206.0 213.7 221.4 229.2 236.9 244.6 252.3 260.0 267.7 275.5 283.2 290.9 298.6 306.3 314.0 321.7 329.5 337.2 344.9 352.6 360.3 368.0 375.7 383.5 391.2 398.9 406.6 414.3 422.0 429.8 437.5 445.2 452.9 460.6 468.3 476.0 483.8 491.5 499.2 506.9 514.6 522.3 530.0 537.8 545.5 553.2 560.9 568.6 576.3 584.1 591.8 599.5 607.2 614.9 622.6 630.3 638.1 645.8 653.5 661.2 668.9 676.6 684.3 692.1 699.8 707.5 715.2 722.9 730.6 738.4 746.1 753.8 761.5 769.2 776.9 784.6 792.4 800.1 807.8 815.5 823.2 830.9 838.6 846.4 854.1 861.8 869.5 877.2 884.9 892.7 900.4 908.1 915.8 923.5 931.2 938.9 946.7 954.4 962.1 969.8 977.5 985.2 992.9 1000.7 1008.4 1016.1 1023.8 1031.5 1039.2 1047.0 1054.7 1062.4 1070.1 1077.8 1085.5 1093.2 1101.0 1108.7 1116.4 1124.1 1131.8 1139.5 1147.2 1155.0 1162.7 1170.4 1178.1 1185.8 1193.5 1201.3 1209.0 1216.7 1224.4 1232.1 1239.8 1247.5 1255.3 1263.0 1270.7 1278.4 1286.1 1293.8 1301.5 1309.3 1317.0 1324.7 1332.4 1340.1 1347.8 1355.6 1363.3 1371.0 1378.7 1386.4 1394.1 1401.8 1409.6 1417.3 1425.0 1432.7 1440.4 1448.1 1455.8 1463.6 1471.3 1479.0 1486.7 1494.4 1502.1 1509.9 1517.6 1525.3 1533.0 1540.7 1548.4 1556.1 1563.9 1571.6 1579.3 1587.0 1594.7 1602.4 1610.1 1617.9 1625.6 1633.3 1641.0 1648.7 1656.4 1664.2 1671.9 1679.6 1687.3 1695.0 1702.7 1710.4 1718.2 1725.9 1733.6" y="1509.7">GGCCACACAACCCCCATTTTTGT----------------------CGAAAATAGCCATGAATGACCATTTTCAATAATACTAGAGGCTAACACCTACGGATTTTTTACCAAGAAATGTTCTCCACCAGAAATTCAAAAATGTGACCTACGGCAAGGAAACATATGTGGGGTGAGGTGTATGAGCCTCTGGTCGACGATCAAT-</text>
<text x="175.2 182.9 190.6 198.3 206.0 213.7 221.4 229.2 236.9 244.6 252.3 260.0 267.7 275.5 283.2 290.9 298.6 306.3 314.0 321.7 329.5 337.2 344.9 352.6 360.3 368.0 375.7 383.5 391.2 398.9 406.6 414.3 422.0 429.8 437.5 445.2 452.9 460.6 468.3 476.0 483.8 491.5 499.2 506.9 514.6 522.3 530.0 537.8 545.5 553.2 560.9 568.6 576.3 584.1 591.8 599.5 607.2 614.9 622.6 630.3 638.1 645.8 653.5 661.2 668.9 676.6 684.3 692.1 699.8 707.5 715.2 722.9 730.6 738.4 746.1 753.8 761.5 769.2 776.9 784.6 792.4 800.1 807.8 815.5 823.2 830.9 838.6 846.4 854.1 861.8 869.5 877.2 884.9 892.7 900.4 908.1 915.8 923.5 931.2 938.9 946.7 954.4 962.1 969.8 977.5 985.2 992.9 1000.7 1008.4 1016.1 1023.8 1031.5 1039.2 1047.0 1054.7 1062.4 1070.1 1077.8 1085.5 1093.2 1101.0 1108.7 1116.4 1124.1 1131.8 1139.5 1147.2 1155.0 1162.7 1170.4 1178.1 1185.8 1193.5 1201.3 1209.0 1216.7 1224.4 1232.1 1239.8 1247.5 1255.3 1263.0 1270.7 1278.4 1286.1 1293.8 1301.5 1309.3 1317.0 1324.7 1332.4 1340.1 1347.8 1355.6 1363.3 1371.0 1378.7 1386.4 1394.1 1401.8 1409.6 1417.3 1425.0 1432.7 1440.4 1448.1 1455.8 1463.6 1471.3 1479.0 1486.7 1494.4 1502.1 1509.9 1517.6 1525.3 1533.0 1540.7 1548.4 1556.1 1563.9 1571.6 1579.3 1587.0 1594.7 1602.4 1610.1 1617.9 1625.6 1633.3 1641.0 1648.7 1656.4 1664.2 1671.9 1679.6 1687.3 1695.0 1702.7 1710.4 1718.2 1725.9 1733.6" y="1521.05">GGCCGCACAACCCTAATTTTTGT----------------------TGAAAATAGCCATGAACGACCATTTTCAATGACACTGAAGGCTAACACCTACGGATTTTTGACCAAGAAATGGTCTCCACAATAAATCCAAGAATGTGATCTATGGCAAGGAAACATATGTGTAGTGAGGTGTATGAGCCTCTGGTCGAACATCAAT-</text>
<text x="175.2 182.9 190.6 198.3 206.0 213.7 221.4 229.2 236.9 244.6 252.3 260.0 267.7 275.5 283.2 290.9 298.6 306.3 314.0 321.7 329.5 337.2 344.9 352.6 360.3 368.0 375.7 383.5 391.2 398.9 406.6 414.3 422.0 429.8 437.5 445.2 452.9 460.6 468.3 476.0 483.8 491.5 499.2 506.9 514.6 522.3 530.0 537.8 545.5 553.2 560.9 568.6 576.3 584.1 591.8 599.5 607.2 614.9 622.6 630.3 638.1 645.8 653.5 661.2 668.9 676.6 684.3 692.1 699.8 707.5 715.2 722.9 730.6 738.4 746.1 753.8 761.5 769.2 776.9 784.6 792.4 800.1 807.8 815.5 823.2 830.9 838.6 846.4 854.1 861.8 869.5 877.2 884.9 892.7 900.4 908.1 915.8 923.5 931.2 938.9 946.7 954.4 962.1 969.8 977.5 985.2 992.9 1000.7 1008.4 1016.1 1023.8 1031.5 1039.2 1047.0 1054.7 1062.4 1070.1 1077.8 1085.5 1093.2 1101.0 1108.7 1116.4 1124.1 1131.8 1139.5 1147.2 1155.0 1162.7 1170.4 1178.1 1185.8 1193.5 1201.3 1209.0 1216.7 1224.4 1232.1 1239.8 1247.5 1255.3 1263.0 1270.7 1278.4 1286.1 1293.8 1301.5 1309.3 1317.0 1324.7 1332.4 1340.1 1347.8 1355.6 1363.3 1371.0 1378.7 1386.4 1394.1 1401.8 1409.6 1417.3 1425.0 1432.7 1440.4 1448.1 1455.8 1463.6 1471.3 1479.0 1486.7 1494.4 1502.1 1509.9 1517.6 1525.3 1533.0 1540.7 1548.4 1556.1 1563.9 1571.6 1579.3 1587.0 1594.7 1602.4 1610.1 1617.9 1625.6 1633.3 1641.0 1648.7 1656.4 1664.2 1671.9 1679.6 1687.3 1695.0 1702.7 1710.4 1718.2 1725.9 1733.6" y="1532.4">GGCCACACAACCACCATTTTTGT----------------------CGAAAATAGCCATGAATGACCATTTTCAAAAATACCAAAGGCTAACACATTCGGATTTTTGCCCAAGAAATGGTCTCCACCAGAAATCCAAGAATGTGATCTATGGCAAGGAAACATATGTGGGGTGAGGTGTACGAGCCTCTGGTCGATGGTCAAT-</text>
<text x="175.2 182.9 190.6 198.3 206.0 213.7 221.4 229.2 236.9 244.6 252.3 260.0 267.7 275.5 283.2 290.9 298.6 306.3 314.0 321.7 329.5 337.2 344.9 352.6 360.3 368.0 375.7 383.5 391.2 398.9 406.6 414.3 422.0 429.8 437.5 445.2 452.9 460.6 468.3 476.0 483.8 491.5 499.2 506.9 514.6 522.3 530.0 537.8 545.5 553.2 560.9 568.6 576.3 584.1 591.8 599.5 607.2 614.9 622.6 630.3 638.1 645.8 653.5 661.2 668.9 676.6 684.3 692.1 699.8 707.5 715.2 722.9 730.6 738.4 746.1 753.8 761.5 769.2 776.9 784.6 792.4 800.1 807.8 815.5 823.2 830.9 838.6 846.4 854.1 861.8 869.5 877.2 884.9 892.7 900.4 908.1 915.8 923.5 931.2 938.9 946.7 954.4 962.1 969.8 977.5 985.2 992.9 1000.7 1008.4 1016.1 1023.8 1031.5 1039.2 1047.0 1054.7 1062.4 1070.1 1077.8 1085.5 1093.2 1101.0 1108.7 1116.4 1124.1 1131.8 1139.5 1147.2 1155.0 1162.7 1170.4 1178.1 1185.8 1193.5 1201.3 1209.0 1216.7 1224.4 1232.1 1239.8 1247.5 1255.3 1263.0 1270.7 1278.4 1286.1 1293.8 1301.5 1309.3 1317.0 1324.7 1332.4 1340.1 1347.8 1355.6 1363.3 1371.0 1378.7 1386.4 1394.1 1401.8 1409.6 1417.3 1425.0 1432.7 1440.4 1448.1 1455.8 1463.6 1471.3 1479.0 1486.7 1494.4 1502.1 1509.9 1517.6 1525.3 1533.0 1540.7 1548.4 1556.1 1563.9 1571.6 1579.3 1587.0 1594.7 1602.4 1610.1 1617.9 1625.6 1633.3 1641.0 1648.7 1656.4 1664.2 1671.9 1679.6 1687.3 1695.0 1702.7 1710.4 1718.2 1725.9 1733.6" y="1543.76">GGCCACACAACCCCCATTT-TGC----------------------CGAAAATAGCCATGAACGACCATTTTCAATAATACCGAAGGCTAACACGTACGAGTTTTTGACCAAGAAATGGTCTCCACCAGAAATCCAAGAATGTGATCTATGGCAAGGAAACATATGTGGGGTGAGGTTTATGAGCCTCTAGTCGATGATAAAT-</text>
<text x="175.2 182.9 190.6 198.3 206.0 213.7 221.4 229.2 236.9 244.6 252.3 260.0 267.7 275.5 283.2 290.9 298.6 306.3 314.0 321.7 329.5 337.2 344.9 352.6 360.3 368.0 375.7 383.5 391.2 398.9 406.6 414.3 422.0 429.8 437.5 445.2 452.9 460.6 468.3 476.0 483.8 491.5 499.2 506.9 514.6 522.3 530.0 537.8 545.5 553.2 560.9 568.6 576.3 584.1 591.8 599.5 607.2 614.9 622.6 630.3 638.1 645.8 653.5 661.2 668.9 676.6 684.3 692.1 699.8 707.5 715.2 722.9 730.6 738.4 746.1 753.8 761.5 769.2 776.9 784.6 792.4 800.1 807.8 815.5 823.2 830.9 838.6 846.4 854.1 861.8 869.5 877.2 884.9 892.7 900.4 908.1 915.8 923.5 931.2 938.9 946.7 954.4 962.1 969.8 977.5 985.2 992.9 1000.7 1008.4 1016.1 1023.8 1031.5 1039.2 1047.0 1054.7 1062.4 1070.1 1077.8 1085.5 1093.2 1101.0 1108.7 1116.4 1124.1 1131.8 1139.5 1147.2 1155.0 1162.7 1170.4 1178.1 1185.8 1193.5 1201.3 1209.0 1216.7 1224.4 1232.1 1239.8 1247.5 1255.3 1263.0 1270.7 1278.4 1286.1 1293.8 1301.5 1309.3 1317.0 1324.7 1332.4 1340.1 1347.8 1355.6 1363.3 1371.0 1378.7 1386.4 1394.1 1401.8 1409.6 1417.3 1425.0 1432.7 1440.4 1448.1 1455.8 1463.6 1471.3 1479.0 1486.7 1494.4 1502.1 1509.9 1517.6 1525.3 1533.0 1540.7 1548.4 1556.1 1563.9 1571.6 1579.3 1587.0 1594.7 1602.4 1610.1 1617.9 1625.6 1633.3 1641.0 1648.7 1656.4 1664.2 1671.9 1679.6 1687.3 1695.0 1702.7 1710.4 1718.2 1725.9 1733.6" y="1555.11">GGCCACACAACCCCCATTTTTTA----------------------TGAAAATAGCCATGAGCGACCATTTTCAATAATACTAGAGGCTAACACCTACAGATTTTTGACGAAGAAATGGTCTCCACTAGAAATCCAAGAATGTGATCTATGGCAAGGAAACATATGTGGGGTGAGGTGTATTAGCCTCTGGTCGATGATCAAT-</text>
<text x="175.2 182.9 190.6 198.3 206.0 213.7 221.4 229.2 236.9 244.6 252.3 260.0 267.7 275.5 283.2 290.9 298.6 306.3 314.0 321.7 329.5 337.2 344.9 352.6 360.3 368.0 375.7 383.5 391.2 398.9 406.6 414.3 422.0 429.8 437.5 445.2 452.9 460.6 468.3 476.0 483.8 491.5 499.2 506.9 514.6 522.3 530.0 537.8 545.5 553.2 560.9 568.6 576.3 584.1 591.8 599.5 607.2 614.9 622.6 630.3 638.1 645.8 653.5 661.2 668.9 676.6 684.3 692.1 699.8 707.5 715.2 722.9 730.6 738.4 746.1 753.8 761.5 769.2 776.9 784.6 792.4 800.1 807.8 815.5 823.2 830.9 838.6 846.4 854.1 861.8 869.5 877.2 884.9 892.7 900.4 908.1 915.8 923.5 931.2 938.9 946.7 954.4 962.1 969.8 977.5 985.2 992.9 1000.7 1008.4 1016.1 1023.8 1031.5 1039.2 1047.0 1054.7 1062.4 1070.1 1077.8 1085.5 1093.2 1101.0 1108.7 1116.4 1124.1 1131.8 1139.5 1147.2 1155.0 1162.7 1170.4 1178.1 1185.8 1193.5 1201.3 1209.0 1216.7 1224.4 1232.1 1239.8 1247.5 1255.3 1263.0 1270.7 1278.4 1286.1 1293.8 1301.5 1309.3 1317.0 1324.7 1332.4 1340.1 1347.8 1355.6 1363.3 1371.0 1378.7 1386.4 1394.1 1401.8 1409.6 1417.3 1425.0 1432.7 1440.4 1448.1 1455.8 1463.6 1471.3 1479.0 1486.7 1494.4 1502.1 1509.9 1517.6 1525.3 1533.0 1540.7 1548.4 1556.1 1563.9 1571.6 1579.3 1587.0 1594.7 1602.4 1610.1 1617.9 1625.6 1633.3 1641.0 1648.7 1656.4 1664.2 1671.9 1679.6 1687.3 1695.0 1702.7 1710.4 1718.2 1725.9 1733.6" y="1566.46">GGCCACACAACCTCCATTTTTGT----------------------CGAAAATAGCCATGAACGACCATTTTCAATAATACCGAAGGCTAACACCTACGGATTTTTGACCAAGAAATGGTCTCCACCAGAAATCCAAGAATGTGATCTACTGCAAGTAAACATATGTGGGGTGAGGTGTATGAGCCTCTGGTCGACGGTCAAT-</text>
<text x="175.2 182.9 190.6 198.3 206.0 213.7 221.4 229.2 236.9 244.6 252.3 260.0 267.7 275.5 283.2 290.9 298.6 306.3 314.0 321.7 329.5 337.2 344.9 352.6 360.3 368.0 375.7 383.5 391.2 398.9 406.6 414.3 422.0 429.8 437.5 445.2 452.9 460.6 468.3 476.0 483.8 491.5 499.2 506.9 514.6 522.3 530.0 537.8 545.5 553.2 560.9 568.6 576.3 584.1 591.8 599.5 607.2 614.9 622.6 630.3 638.1 645.8 653.5 661.2 668.9 676.6 684.3 692.1 699.8 707.5 715.2 722.9 730.6 738.4 746.1 753.8 761.5 769.2 776.9 784.6 792.4 800.1 807.8 815.5 823.2 830.9 838.6 846.4 854.1 861.8 869.5 877.2 884.9 892.7 900.4 908.1 915.8 923.5 931.2 938.9 946.7 954.4 962.1 969.8 977.5 985.2 992.9 1000.7 1008.4 1016.1 1023.8 1031.5 1039.2 1047.0 1054.7 1062.4 1070.1 1077.8 1085.5 1093.2 1101.0 1108.7 1116.4 1124.1 1131.8 1139.5 1147.2 1155.0 1162.7 1170.4 1178.1 1185.8 1193.5 1201.3 1209.0 1216.7 1224.4 1232.1 1239.8 1247.5 1255.3 1263.0 1270.7 1278.4 1286.1 1293.8 1301.5 1309.3 1317.0 1324.7 1332.4 1340.1 1347.8 1355.6 1363.3 1371.0 1378.7 1386.4 1394.1 1401.8 1409.6 1417.3 1425.0 1432.7 1440.4 1448.1 1455.8 1463.6 1471.3 1479.0 1486.7 1494.4 1502.1 1509.9 1517.6 1525.3 1533.0 1540.7 1548.4 1556.1 1563.9 1571.6 1579.3 1587.0 1594.7 1602.4 1610.1 1617.9 1625.6 1633.3 1641.0 1648.7 1656.4 1664.2 1671.9 1679.6 1687.3 1695.0 1702.7 1710.4 1718.2 1725.9 1733.6" y="1577.81">GGCCACACAAGCCTAATTTTTGT----------------------CGAAAATAGCCATGAACGACCATTTTCAATGACACTGAAGGCTAACACCTATGGATTTTTGACCAAGAAATGGTCTCCACCATAAATCCAAGAATGTGATCTATGGCAAGGAAACATATGTGTAGTGAGGTGTATGAGCCTCTGGTCCAATATCAAT-</text>
<text x="175.2 182.9 190.6 198.3 206.0 213.7 221.4 229.2 236.9 244.6 252.3 260.0 267.7 275.5 283.2 290.9 298.6 306.3 314.0 321.7 329.5 337.2 344.9 352.6 360.3 368.0 375.7 383.5 391.2 398.9 406.6 414.3 422.0 429.8 437.5 445.2 452.9 460.6 468.3 476.0 483.8 491.5 499.2 506.9 514.6 522.3 530.0 537.8 545.5 553.2 560.9 568.6 576.3 584.1 591.8 599.5 607.2 614.9 622.6 630.3 638.1 645.8 653.5 661.2 668.9 676.6 684.3 692.1 699.8 707.5 715.2 722.9 730.6 738.4 746.1 753.8 761.5 769.2 776.9 784.6 792.4 800.1 807.8 815.5 823.2 830.9 838.6 846.4 854.1 861.8 869.5 877.2 884.9 892.7 900.4 908.1 915.8 923.5 931.2 938.9 946.7 954.4 962.1 969.8 977.5 985.2 992.9 1000.7 1008.4 1016.1 1023.8 1031.5 1039.2 1047.0 1054.7 1062.4 1070.1 1077.8 1085.5 1093.2 1101.0 1108.7 1116.4 1124.1 1131.8 1139.5 1147.2 1155.0 1162.7 1170.4 1178.1 1185.8 1193.5 1201.3 1209.0 1216.7 1224.4 1232.1 1239.8 1247.5 1255.3 1263.0 1270.7 1278.4 1286.1 1293.8 1301.5 1309.3 1317.0 1324.7 1332.4 1340.1 1347.8 1355.6 1363.3 1371.0 1378.7 1386.4 1394.1 1401.8 1409.6 1417.3 1425.0 1432.7 1440.4 1448.1 1455.8 1463.6 1471.3 1479.0 1486.7 1494.4 1502.1 1509.9 1517.6 1525.3 1533.0 1540.7 1548.4 1556.1 1563.9 1571.6 1579.3 1587.0 1594.7 1602.4 1610.1 1617.9 1625.6 1633.3 1641.0 1648.7 1656.4 1664.2 1671.9 1679.6 1687.3 1695.0 1702.7 1710.4 1718.2 1725.9 1733.6" y="1589.16">GGCCACACAACCCCCATTTTTGT----------------------CAAAAATAGCCATGAACGACCATTTTCAATAGTTCCAAAGGCTAACACATTCGGATTTTTGACCAAGAAATGGTCTCCACCAGAAATCAAAGAATGTGATCTATGGCAAGGAAACACATGTGGGGTGAGGTGTACGAGCCTTTGGTCGATGATCAAT-</text>
<text x="175.2 182.9 190.6 198.3 206.0 213.7 221.4 229.2 236.9 244.6 252.3 260.0 267.7 275.5 283.2 290.9 298.6 306.3 314.0 321.7 329.5 337.2 344.9 352.6 360.3 368.0 375.7 383.5 391.2 398.9 406.6 414.3 422.0 429.8 437.5 445.2 452.9 460.6 468.3 476.0 483.8 491.5 499.2 506.9 514.6 522.3 530.0 537.8 545.5 553.2 560.9 568.6 576.3 584.1 591.8 599.5 607.2 614.9 622.6 630.3 638.1 645.8 653.5 661.2 668.9 676.6 684.3 692.1 699.8 707.5 715.2 722.9 730.6 738.4 746.1 753.8 761.5 769.2 776.9 784.6 792.4 800.1 807.8 815.5 823.2 830.9 838.6 846.4 854.1 861.8 869.5 877.2 884.9 892.7 900.4 908.1 915.8 923.5 931.2 938.9 946.7 954.4 962.1 969.8 977.5 985.2 992.9 1000.7 1008.4 1016.1 1023.8 1031.5 1039.2 1047.0 1054.7 1062.4 1070.1 1077.8 1085.5 1093.2 1101.0 1108.7 1116.4 1124.1 1131.8 1139.5 1147.2 1155.0 1162.7 1170.4 1178.1 1185.8 1193.5 1201.3 1209.0 1216.7 1224.4 1232.1 1239.8 1247.5 1255.3 1263.0 1270.7 1278.4 1286.1 1293.8 1301.5 1309.3 1317.0 1324.7 1332.4 1340.1 1347.8 1355.6 1363.3 1371.0 1378.7 1386.4 1394.1 1401.8 1409.6 1417.3 1425.0 1432.7 1440.4 1448.1 1455.8 1463.6 1471.3 1479.0 1486.7 1494.4 1502.1 1509.9 1517.6 1525.3 1533.0 1540.7 1548.4 1556.1 1563.9 1571.6 1579.3 1587.0 1594.7 1602.4 1610.1 1617.9 1625.6 1633.3 1641.0 1648.7 1656.4 1664.2 1671.9 1679.6 1687.3 1695.0 1702.7 1710.4 1718.2 1725.9 1733.6" y="1600.52">GGCCACACAACCCCCATTTTTAT----------------------CGAAAATAGCCATGAATGACCATTTTCAATAATACCGAAGGCTAACACGTACGGATTTTTGACCAAGAAATGGTCTCCACCAGATATCCAAGAATGTAATCTATGGCAAGGAAACATATGTGGGTTGAGGTGTATGAGCCTCTGGTCGATGATAAAT-</text>
<text x="175.2 182.9 190.6 198.3 206.0 213.7 221.4 229.2 236.9 244.6 252.3 260.0 267.7 275.5 283.2 290.9 298.6 306.3 314.0 321.7 329.5 337.2 344.9 352.6 360.3 368.0 375.7 383.5 391.2 398.9 406.6 414.3 422.0 429.8 437.5 445.2 452.9 460.6 468.3 476.0 483.8 491.5 499.2 506.9 514.6 522.3 530.0 537.8 545.5 553.2 560.9 568.6 576.3 584.1 591.8 599.5 607.2 614.9 622.6 630.3 638.1 645.8 653.5 661.2 668.9 676.6 684.3 692.1 699.8 707.5 715.2 722.9 730.6 738.4 746.1 753.8 761.5 769.2 776.9 784.6 792.4 800.1 807.8 815.5 823.2 830.9 838.6 846.4 854.1 861.8 869.5 877.2 884.9 892.7 900.4 908.1 915.8 923.5 931.2 938.9 946.7 954.4 962.1 969.8 977.5 985.2 992.9 1000.7 1008.4 1016.1 1023.8 1031.5 1039.2 1047.0 1054.7 1062.4 1070.1 1077.8 1085.5 1093.2 1101.0 1108.7 1116.4 1124.1 1131.8 1139.5 1147.2 1155.0 1162.7 1170.4 1178.1 1185.8 1193.5 1201.3 1209.0 1216.7 1224.4 1232.1 1239.8 1247.5 1255.3 1263.0 1270.7 1278.4 1286.1 1293.8 1301.5 1309.3 1317.0 1324.7 1332.4 1340.1 1347.8 1355.6 1363.3 1371.0 1378.7 1386.4 1394.1 1401.8 1409.6 1417.3 1425.0 1432.7 1440.4 1448.1 1455.8 1463.6 1471.3 1479.0 1486.7 1494.4 1502.1 1509.9 1517.6 1525.3 1533.0 1540.7 1548.4 1556.1 1563.9 1571.6 1579.3 1587.0 1594.7 1602.4 1610.1 1617.9 1625.6 1633.3 1641.0 1648.7 1656.4 1664.2 1671.9 1679.6 1687.3 1695.0 1702.7 1710.4 1718.2 1725.9 1733.6" y="1611.87">GGCCACACAACCCCCATTTCAGT----------------------CGAAAATAGCCATGAACGACCATTTTCAATAATACAGAAGGCTAACACCAACAGATTTTTGACCAAGAAATGGTCTCCACCAGAAATCCAAGAATGTGATCTATGGCAAGAAAACATATGTGGGGTGAAGTGTACGAGCCTCTGGTCGATGATCAAT-</text>
<text x="175.2 182.9 190.6 198.3 206.0 213.7 221.4 229.2 236.9 244.6 252.3 260.0 267.7 275.5 283.2 290.9 298.6 306.3 314.0 321.7 329.5 337.2 344.9 352.6 360.3 368.0 375.7 383.5 391.2 398.9 406.6 414.3 422.0 429.8 437.5 445.2 452.9 460.6 468.3 476.0 483.8 491.5 499.2 506.9 514.6 522.3 530.0 537.8 545.5 553.2 560.9 568.6 576.3 584.1 591.8 599.5 607.2 614.9 622.6 630.3 638.1 645.8 653.5 661.2 668.9 676.6 684.3 692.1 699.8 707.5 715.2 722.9 730.6 738.4 746.1 753.8 761.5 769.2 776.9 784.6 792.4 800.1 807.8 815.5 823.2 830.9 838.6 846.4 854.1 861.8 869.5 877.2 884.9 892.7 900.4 908.1 915.8 923.5 931.2 938.9 946.7 954.4 962.1 969.8 977.5 985.2 992.9 1000.7 1008.4 1016.1 1023.8 1031.5 1039.2 1047.0 1054.7 1062.4 1070.1 1077.8 1085.5 1093.2 1101.0 1108.7 1116.4 1124.1 1131.8 1139.5 1147.2 1155.0 1162.7 1170.4 1178.1 1185.8 1193.5 1201.3 1209.0 1216.7 1224.4 1232.1 1239.8 1247.5 1255.3 1263.0 1270.7 1278.4 1286.1 1293.8 1301.5 1309.3 1317.0 1324.7 1332.4 1340.1 1347.8 1355.6 1363.3 1371.0 1378.7 1386.4 1394.1 1401.8 1409.6 1417.3 1425.0 1432.7 1440.4 1448.1 1455.8 1463.6 1471.3 1479.0 1486.7 1494.4 1502.1 1509.9 1517.6 1525.3 1533.0 1540.7 1548.4 1556.1 1563.9 1571.6 1579.3 1587.0 1594.7 1602.4 1610.1 1617.9 1625.6 1633.3 1641.0 1648.7 1656.4 1664.2 1671.9 1679.6 1687.3 1695.0 1702.7 1710.4 1718.2 1725.9 1733.6" y="1623.22">GGCCACACAACCCCCATTTTTGT----------------------CGAAAATAGCCATGAACGATAATTTTCAATGACACTGAAGGCTAACACCTATGGATTTTTGACCAAGAAATGGTCTCCACCATAAATCCAAGAATTTGATCTATGGCAAGGAAACATATGTGTAGTGAGGTGTATGAGCCTCTGGTCGAAGATCAAT-</text>
</g>
<path d="M206.02 930.6V933.2" stroke="#000" stroke-width="0.9"/>
<path d="M244.59 930.6V933.2" stroke="#000" stroke-width="0.9"/>
<text x="241.09" y="927.8" fill="#000" style="font-family:'DejaVu Sans', 'Liberation Sans', sans-serif;font-size:7.8px">10</text>
<path d="M283.17 930.6V933.2" stroke="#000" stroke-width="0.9"/>
<path d="M321.74 930.6V933.2" stroke="#000" stroke-width="0.9"/>
<text x="318.24" y="927.8" fill="#000" style="font-family:'DejaVu Sans', 'Liberation Sans', sans-serif;font-size:7.8px">20</text>
<path d="M360.32 930.6V933.2" stroke="#000" stroke-width="0.9"/>
<path d="M398.89 930.6V933.2" stroke="#000" stroke-width="0.9"/>
<text x="395.39" y="927.8" fill="#000" style="font-family:'DejaVu Sans', 'Liberation Sans', sans-serif;font-size:7.8px">30</text>
<path d="M437.47 930.6V933.2" stroke="#000" stroke-width="0.9"/>
<path d="M476.04 930.6V933.2" stroke="#000" stroke-width="0.9"/>
<text x="472.54" y="927.8" fill="#000" style="font-family:'DejaVu Sans', 'Liberation Sans', sans-serif;font-size:7.8px">40</text>
<path d="M514.62 930.6V933.2" stroke="#000" stroke-width="0.9"/>
<path d="M553.19 930.6V933.2" stroke="#000" stroke-width="0.9"/>
<text x="549.69" y="927.8" fill="#000" style="font-family:'DejaVu Sans', 'Liberation Sans', sans-serif;font-size:7.8px">50</text>
<path d="M591.77 930.6V933.2" stroke="#000" stroke-width="0.9"/>
<path d="M630.34 930.6V933.2" stroke="#000" stroke-width="0.9"/>
<text x="626.84" y="927.8" fill="#000" style="font-family:'DejaVu Sans', 'Liberation Sans', sans-serif;font-size:7.8px">60</text>
<path d="M668.92 930.6V933.2" stroke="#000" stroke-width="0.9"/>
<path d="M707.49 930.6V933.2" stroke="#000" stroke-width="0.9"/>
<text x="703.99" y="927.8" fill="#000" style="font-family:'DejaVu Sans', 'Liberation Sans', sans-serif;font-size:7.8px">70</text>
<path d="M746.07 930.6V933.2" stroke="#000" stroke-width="0.9"/>
<path d="M784.64 930.6V933.2" stroke="#000" stroke-width="0.9"/>
<text x="781.14" y="927.8" fill="#000" style="font-family:'DejaVu Sans', 'Liberation Sans', sans-serif;font-size:7.8px">80</text>
<path d="M823.22 930.6V933.2" stroke="#000" stroke-width="0.9"/>
<path d="M861.79 930.6V933.2" stroke="#000" stroke-width="0.9"/>
<text x="858.29" y="927.8" fill="#000" style="font-family:'DejaVu Sans', 'Liberation Sans', sans-serif;font-size:7.8px">90</text>
<path d="M900.37 930.6V933.2" stroke="#000" stroke-width="0.9"/>
<path d="M938.94 930.6V933.2" stroke="#000" stroke-width="0.9"/>
<text x="935.44" y="927.8" fill="#000" style="font-family:'DejaVu Sans', 'Liberation Sans', sans-serif;font-size:7.8px">100</text>
<path d="M977.52 930.6V933.2" stroke="#000" stroke-width="0.9"/>
<path d="M1016.09 930.6V933.2" stroke="#000" stroke-width="0.9"/>
<text x="1012.59" y="927.8" fill="#000" style="font-family:'DejaVu Sans', 'Liberation Sans', sans-serif;font-size:7.8px">110</text>
<path d="M1054.67 930.6V933.2" stroke="#000" stroke-width="0.9"/>
<path d="M1093.24 930.6V933.2" stroke="#000" stroke-width="0.9"/>
<text x="1089.74" y="927.8" fill="#000" style="font-family:'DejaVu Sans', 'Liberation Sans', sans-serif;font-size:7.8px">120</text>
<path d="M1131.82 930.6V933.2" stroke="#000" stroke-width="0.9"/>
<path d="M1170.39 930.6V933.2" stroke="#000" stroke-width="0.9"/>
<text x="1166.89" y="927.8" fill="#000" style="font-family:'DejaVu Sans', 'Liberation Sans', sans-serif;font-size:7.8px">130</text>
<path d="M1208.97 930.6V933.2" stroke="#000" stroke-width="0.9"/>
<path d="M1247.54 930.6V933.2" stroke="#000" stroke-width="0.9"/>
<text x="1244.04" y="927.8" fill="#000" style="font-family:'DejaVu Sans', 'Liberation Sans', sans-serif;font-size:7.8px">140</text>
<path d="M1286.12 930.6V933.2" stroke="#000" stroke-width="0.9"/>
<path d="M1324.69 930.6V933.2" stroke="#000" stroke-width="0.9"/>
<text x="1321.19" y="927.8" fill="#000" style="font-family:'DejaVu Sans', 'Liberation Sans', sans-serif;font-size:7.8px">150</text>
<path d="M1363.27 930.6V933.2" stroke="#000" stroke-width="0.9"/>
<path d="M1401.84 930.6V933.2" stroke="#000" stroke-width="0.9"/>
<text x="1398.34" y="927.8" fill="#000" style="font-family:'DejaVu Sans', 'Liberation Sans', sans-serif;font-size:7.8px">160</text>
<path d="M1440.42 930.6V933.2" stroke="#000" stroke-width="0.9"/>
<path d="M1478.99 930.6V933.2" stroke="#000" stroke-width="0.9"/>
<text x="1475.49" y="927.8" fill="#000" style="font-family:'DejaVu Sans', 'Liberation Sans', sans-serif;font-size:7.8px">170</text>
<path d="M1517.57 930.6V933.2" stroke="#000" stroke-width="0.9"/>
<path d="M1556.14 930.6V933.2" stroke="#000" stroke-width="0.9"/>
<text x="1552.64" y="927.8" fill="#000" style="font-family:'DejaVu Sans', 'Liberation Sans', sans-serif;font-size:7.8px">180</text>
<path d="M1594.72 930.6V933.2" stroke="#000" stroke-width="0.9"/>
<path d="M1633.29 930.6V933.2" stroke="#000" stroke-width="0.9"/>
<text x="1629.79" y="927.8" fill="#000" style="font-family:'DejaVu Sans', 'Liberation Sans', sans-serif;font-size:7.8px">190</text>
<path d="M1671.87 930.6V933.2" stroke="#000" stroke-width="0.9"/>
<path d="M1710.44 930.6V933.2" stroke="#000" stroke-width="0.9"/>
<text x="1706.94" y="927.8" fill="#000" style="font-family:'DejaVu Sans', 'Liberation Sans', sans-serif;font-size:7.8px">200</text>
<text x="44.2" y="942.4" fill="#000" style="font-family:'DejaVu Sans', 'Liberation Sans', sans-serif;font-size:8.24px;font-style:italic" stroke="#000" stroke-width="0.2">AF030934.1/1-203</text>
<text x="44.2" y="953.75" fill="#000" style="font-family:'DejaVu Sans', 'Liberation Sans', sans-serif;font-size:8.24px;font-style:italic" stroke="#000" stroke-width="0.2">knob_EP1_chr5_T2__1/1-202</text>
<text x="44.2" y="965.1" fill="#000" style="font-family:'DejaVu Sans', 'Liberation Sans', sans-serif;font-size:8.24px;font-style:italic" stroke="#000" stroke-width="0.2">knob_EP1_chr5_T2__2/1-202</text>
<text x="44.2" y="976.46" fill="#000" style="font-family:'DejaVu Sans', 'Liberation Sans', sans-serif;font-size:8.24px;font-style:italic" stroke="#000" stroke-width="0.2">knob_EP1_chr5_T2__3/1-202</text>
<text x="44.2" y="987.81" fill="#000" style="font-family:'DejaVu Sans', 'Liberation Sans', sans-serif;font-size:8.24px;font-style:italic" stroke="#000" stroke-width="0.2">knob_EP1_chr5_T2__4/1-202</text>
<text x="44.2" y="999.16" fill="#000" style="font-family:'DejaVu Sans', 'Liberation Sans', sans-serif;font-size:8.24px;font-style:italic" stroke="#000" stroke-width="0.2">M32521.1/1-180</text>
<text x="44.2" y="1010.51" fill="#000" style="font-family:'DejaVu Sans', 'Liberation Sans', sans-serif;font-size:8.24px;font-style:italic" stroke="#000" stroke-width="0.2">M32525.1/1-180</text>
<text x="44.2" y="1021.86" fill="#000" style="font-family:'DejaVu Sans', 'Liberation Sans', sans-serif;font-size:8.24px;font-style:italic" stroke="#000" stroke-width="0.2">DQ352544.1_a/1-179</text>
<text x="44.2" y="1033.22" fill="#000" style="font-family:'DejaVu Sans', 'Liberation Sans', sans-serif;font-size:8.24px;font-style:italic" stroke="#000" stroke-width="0.2">DQ352544.1_b/1-179</text>
<text x="44.2" y="1044.57" fill="#000" style="font-family:'DejaVu Sans', 'Liberation Sans', sans-serif;font-size:8.24px;font-style:italic" stroke="#000" stroke-width="0.2">knob_EP1_chr5_T1__1/1-180</text>
<text x="44.2" y="1055.92" fill="#000" style="font-family:'DejaVu Sans', 'Liberation Sans', sans-serif;font-size:8.24px;font-style:italic" stroke="#000" stroke-width="0.2">knob_EP1_chr5_T1__2/1-177</text>
<text x="44.2" y="1067.27" fill="#000" style="font-family:'DejaVu Sans', 'Liberation Sans', sans-serif;font-size:8.24px;font-style:italic" stroke="#000" stroke-width="0.2">knob_EP1_chr5_T1__3/1-180</text>
<text x="44.2" y="1078.62" fill="#000" style="font-family:'DejaVu Sans', 'Liberation Sans', sans-serif;font-size:8.24px;font-style:italic" stroke="#000" stroke-width="0.2">knob_EP1_chr5_T1__4/1-180</text>
<text x="44.2" y="1089.98" fill="#000" style="font-family:'DejaVu Sans', 'Liberation Sans', sans-serif;font-size:8.24px;font-style:italic" stroke="#000" stroke-width="0.2">knob_EP1_chr5_T1__5/1-180</text>
<text x="44.2" y="1101.33" fill="#000" style="font-family:'DejaVu Sans', 'Liberation Sans', sans-serif;font-size:8.24px;font-style:italic" stroke="#000" stroke-width="0.2">knob_EP1_chr5_T1__6/1-179</text>
<text x="44.2" y="1112.68" fill="#000" style="font-family:'DejaVu Sans', 'Liberation Sans', sans-serif;font-size:8.24px;font-style:italic" stroke="#000" stroke-width="0.2">knob_EP1_chr5_T1__7/1-180</text>
<text x="44.2" y="1124.03" fill="#000" style="font-family:'DejaVu Sans', 'Liberation Sans', sans-serif;font-size:8.24px;font-style:italic" stroke="#000" stroke-width="0.2">knob_EP1_chr5_T1__8/1-179</text>
<text x="44.2" y="1135.38" fill="#000" style="font-family:'DejaVu Sans', 'Liberation Sans', sans-serif;font-size:8.24px;font-style:italic" stroke="#000" stroke-width="0.2">knob_EP1_chr5_T1__9/1-180</text>
<text x="44.2" y="1146.74" fill="#000" style="font-family:'DejaVu Sans', 'Liberation Sans', sans-serif;font-size:8.24px;font-style:italic" stroke="#000" stroke-width="0.2">knob_EP1_chr5_T1__10/1-180</text>
<text x="44.2" y="1158.09" fill="#000" style="font-family:'DejaVu Sans', 'Liberation Sans', sans-serif;font-size:8.24px;font-style:italic" stroke="#000" stroke-width="0.2">knob_EP1_chr5_T1__11/1-180</text>
<text x="44.2" y="1169.44" fill="#000" style="font-family:'DejaVu Sans', 'Liberation Sans', sans-serif;font-size:8.24px;font-style:italic" stroke="#000" stroke-width="0.2">knob_EP1_chr5_T1__12/1-179</text>
<text x="44.2" y="1180.79" fill="#000" style="font-family:'DejaVu Sans', 'Liberation Sans', sans-serif;font-size:8.24px;font-style:italic" stroke="#000" stroke-width="0.2">knob_EP1_chr5_T1__13/1-179</text>
<text x="44.2" y="1192.14" fill="#000" style="font-family:'DejaVu Sans', 'Liberation Sans', sans-serif;font-size:8.24px;font-style:italic" stroke="#000" stroke-width="0.2">knob_EP1_chr5_T1__14/1-179</text>
<text x="44.2" y="1203.5" fill="#000" style="font-family:'DejaVu Sans', 'Liberation Sans', sans-serif;font-size:8.24px;font-style:italic" stroke="#000" stroke-width="0.2">knob_EP1_chr5_T1__15/1-180</text>
<text x="44.2" y="1214.85" fill="#000" style="font-family:'DejaVu Sans', 'Liberation Sans', sans-serif;font-size:8.24px;font-style:italic" stroke="#000" stroke-width="0.2">knob_EP1_chr5_T1__16/1-181</text>
<text x="44.2" y="1226.2" fill="#000" style="font-family:'DejaVu Sans', 'Liberation Sans', sans-serif;font-size:8.24px;font-style:italic" stroke="#000" stroke-width="0.2">knob_EP1_chr5_T1__17/1-178</text>
<text x="44.2" y="1237.55" fill="#000" style="font-family:'DejaVu Sans', 'Liberation Sans', sans-serif;font-size:8.24px;font-style:italic" stroke="#000" stroke-width="0.2">knob_EP1_chr5_T1__18/1-180</text>
<text x="44.2" y="1248.9" fill="#000" style="font-family:'DejaVu Sans', 'Liberation Sans', sans-serif;font-size:8.24px;font-style:italic" stroke="#000" stroke-width="0.2">knob_EP1_chr5_T1__19/1-180</text>
<text x="44.2" y="1260.26" fill="#000" style="font-family:'DejaVu Sans', 'Liberation Sans', sans-serif;font-size:8.24px;font-style:italic" stroke="#000" stroke-width="0.2">knob_EP1_chr5_T1__20/1-180</text>
<text x="44.2" y="1271.61" fill="#000" style="font-family:'DejaVu Sans', 'Liberation Sans', sans-serif;font-size:8.24px;font-style:italic" stroke="#000" stroke-width="0.2">knob_EP1_chr5_T1__21/1-180</text>
<text x="44.2" y="1282.96" fill="#000" style="font-family:'DejaVu Sans', 'Liberation Sans', sans-serif;font-size:8.24px;font-style:italic" stroke="#000" stroke-width="0.2">knob_EP1_chr5_T1__22/1-180</text>
<text x="44.2" y="1294.31" fill="#000" style="font-family:'DejaVu Sans', 'Liberation Sans', sans-serif;font-size:8.24px;font-style:italic" stroke="#000" stroke-width="0.2">knob_EP1_chr5_T1__23/1-180</text>
<text x="44.2" y="1305.66" fill="#000" style="font-family:'DejaVu Sans', 'Liberation Sans', sans-serif;font-size:8.24px;font-style:italic" stroke="#000" stroke-width="0.2">knob_EP1_chr5_T1__24/1-180</text>
<text x="44.2" y="1317.02" fill="#000" style="font-family:'DejaVu Sans', 'Liberation Sans', sans-serif;font-size:8.24px;font-style:italic" stroke="#000" stroke-width="0.2">knob_EP1_chr5_T1__25/1-180</text>
<text x="44.2" y="1328.37" fill="#000" style="font-family:'DejaVu Sans', 'Liberation Sans', sans-serif;font-size:8.24px;font-style:italic" stroke="#000" stroke-width="0.2">knob_EP1_chr5_T1__26/1-178</text>
<text x="44.2" y="1339.72" fill="#000" style="font-family:'DejaVu Sans', 'Liberation Sans', sans-serif;font-size:8.24px;font-style:italic" stroke="#000" stroke-width="0.2">knob_EP1_chr5_T1__27/1-180</text>
<text x="44.2" y="1351.07" fill="#000" style="font-family:'DejaVu Sans', 'Liberation Sans', sans-serif;font-size:8.24px;font-style:italic" stroke="#000" stroke-width="0.2">knob_EP1_chr5_T1__28/1-180</text>
<text x="44.2" y="1362.42" fill="#000" style="font-family:'DejaVu Sans', 'Liberation Sans', sans-serif;font-size:8.24px;font-style:italic" stroke="#000" stroke-width="0.2">knob_EP1_chr5_T1__29/1-179</text>
<text x="44.2" y="1373.78" fill="#000" style="font-family:'DejaVu Sans', 'Liberation Sans', sans-serif;font-size:8.24px;font-style:italic" stroke="#000" stroke-width="0.2">knob_EP1_chr5_T1__30/1-179</text>
<text x="44.2" y="1385.13" fill="#000" style="font-family:'DejaVu Sans', 'Liberation Sans', sans-serif;font-size:8.24px;font-style:italic" stroke="#000" stroke-width="0.2">knob_EP1_chr5_T1__31/1-179</text>
<text x="44.2" y="1396.48" fill="#000" style="font-family:'DejaVu Sans', 'Liberation Sans', sans-serif;font-size:8.24px;font-style:italic" stroke="#000" stroke-width="0.2">knob_EP1_chr5_T1__32/1-180</text>
<text x="44.2" y="1407.83" fill="#000" style="font-family:'DejaVu Sans', 'Liberation Sans', sans-serif;font-size:8.24px;font-style:italic" stroke="#000" stroke-width="0.2">knob_EP1_chr5_T1__33/1-179</text>
<text x="44.2" y="1419.18" fill="#000" style="font-family:'DejaVu Sans', 'Liberation Sans', sans-serif;font-size:8.24px;font-style:italic" stroke="#000" stroke-width="0.2">knob_EP1_chr5_T1__34/1-178</text>
<text x="44.2" y="1430.54" fill="#000" style="font-family:'DejaVu Sans', 'Liberation Sans', sans-serif;font-size:8.24px;font-style:italic" stroke="#000" stroke-width="0.2">knob_EP1_chr5_T1__35/1-178</text>
<text x="44.2" y="1441.89" fill="#000" style="font-family:'DejaVu Sans', 'Liberation Sans', sans-serif;font-size:8.24px;font-style:italic" stroke="#000" stroke-width="0.2">knob_EP1_chr5_T1__36/1-180</text>
<text x="44.2" y="1453.24" fill="#000" style="font-family:'DejaVu Sans', 'Liberation Sans', sans-serif;font-size:8.24px;font-style:italic" stroke="#000" stroke-width="0.2">knob_EP1_chr5_T1__37/1-180</text>
<text x="44.2" y="1464.59" fill="#000" style="font-family:'DejaVu Sans', 'Liberation Sans', sans-serif;font-size:8.24px;font-style:italic" stroke="#000" stroke-width="0.2">knob_EP1_chr5_T1__38/1-180</text>
<text x="44.2" y="1475.94" fill="#000" style="font-family:'DejaVu Sans', 'Liberation Sans', sans-serif;font-size:8.24px;font-style:italic" stroke="#000" stroke-width="0.2">knob_EP1_chr5_T1__39/1-180</text>
<text x="44.2" y="1487.3" fill="#000" style="font-family:'DejaVu Sans', 'Liberation Sans', sans-serif;font-size:8.24px;font-style:italic" stroke="#000" stroke-width="0.2">knob_EP1_chr5_T1__40/1-179</text>
<text x="44.2" y="1498.65" fill="#000" style="font-family:'DejaVu Sans', 'Liberation Sans', sans-serif;font-size:8.24px;font-style:italic" stroke="#000" stroke-width="0.2">knob_EP1_chr5_T1__41/1-180</text>
<text x="44.2" y="1510" fill="#000" style="font-family:'DejaVu Sans', 'Liberation Sans', sans-serif;font-size:8.24px;font-style:italic" stroke="#000" stroke-width="0.2">knob_EP1_chr5_T1__42/1-180</text>
<text x="44.2" y="1521.35" fill="#000" style="font-family:'DejaVu Sans', 'Liberation Sans', sans-serif;font-size:8.24px;font-style:italic" stroke="#000" stroke-width="0.2">knob_EP1_chr5_T1__43/1-180</text>
<text x="44.2" y="1532.7" fill="#000" style="font-family:'DejaVu Sans', 'Liberation Sans', sans-serif;font-size:8.24px;font-style:italic" stroke="#000" stroke-width="0.2">knob_EP1_chr5_T1__44/1-180</text>
<text x="44.2" y="1544.06" fill="#000" style="font-family:'DejaVu Sans', 'Liberation Sans', sans-serif;font-size:8.24px;font-style:italic" stroke="#000" stroke-width="0.2">knob_EP1_chr5_T1__45/1-179</text>
<text x="44.2" y="1555.41" fill="#000" style="font-family:'DejaVu Sans', 'Liberation Sans', sans-serif;font-size:8.24px;font-style:italic" stroke="#000" stroke-width="0.2">knob_EP1_chr5_T1__46/1-180</text>
<text x="44.2" y="1566.76" fill="#000" style="font-family:'DejaVu Sans', 'Liberation Sans', sans-serif;font-size:8.24px;font-style:italic" stroke="#000" stroke-width="0.2">knob_EP1_chr5_T1__47/1-180</text>
<text x="44.2" y="1578.11" fill="#000" style="font-family:'DejaVu Sans', 'Liberation Sans', sans-serif;font-size:8.24px;font-style:italic" stroke="#000" stroke-width="0.2">knob_EP1_chr5_T1__48/1-180</text>
<text x="44.2" y="1589.46" fill="#000" style="font-family:'DejaVu Sans', 'Liberation Sans', sans-serif;font-size:8.24px;font-style:italic" stroke="#000" stroke-width="0.2">knob_EP1_chr5_T1__49/1-180</text>
<text x="44.2" y="1600.82" fill="#000" style="font-family:'DejaVu Sans', 'Liberation Sans', sans-serif;font-size:8.24px;font-style:italic" stroke="#000" stroke-width="0.2">knob_EP1_chr5_T1__50/1-180</text>
<text x="44.2" y="1612.17" fill="#000" style="font-family:'DejaVu Sans', 'Liberation Sans', sans-serif;font-size:8.24px;font-style:italic" stroke="#000" stroke-width="0.2">knob_EP1_chr5_T1__51/1-180</text>
<text x="44.2" y="1623.52" fill="#000" style="font-family:'DejaVu Sans', 'Liberation Sans', sans-serif;font-size:8.24px;font-style:italic" stroke="#000" stroke-width="0.2">knob_EP1_chr5_T1__52/1-180</text>
<text x="-2.4" y="965.3" fill="#000" style="font-family:'DejaVu Sans', 'Liberation Sans', sans-serif;font-size:33px">1</text>
<path d="M18.8 948.1L40.5 939.3" stroke="#000" stroke-width="2"/>
<text x="-2.6" y="1013.3" fill="#000" style="font-family:'DejaVu Sans', 'Liberation Sans', sans-serif;font-size:33px">2</text>
<path d="M20.8 1004.2L39 998" stroke="#000" stroke-width="2"/>
<text x="-2.4" y="1060" fill="#000" style="font-family:'DejaVu Sans', 'Liberation Sans', sans-serif;font-size:33px">3</text>
<path d="M19.5 1049L38.3 1027" stroke="#000" stroke-width="2"/>
<path fill="#000" d="M171.3 1661.4h7.71v-31.96h-7.71zM179.02 1661.4h7.71v-33.64h-7.71zM186.73 1661.4h7.71v-33.08h-7.71zM194.45 1661.4h7.71v-32.52h-7.71zM202.16 1661.4h7.71v-33.64h-7.71zM209.88 1661.4h7.71v-34.2h-7.71zM217.59 1661.4h7.71v-33.64h-7.71zM225.31 1661.4h7.71v-30.84h-7.71zM233.02 1661.4h7.71v-34.2h-7.71zM240.74 1661.4h7.71v-34.2h-7.71zM248.45 1661.4h7.71v-31.96h-7.71zM256.17 1661.4h7.71v-34.2h-7.71zM263.88 1661.4h7.71v-31.96h-7.71zM271.6 1661.4h7.71v-32.52h-7.71zM279.31 1661.4h7.71v-30.28h-7.71zM287.02 1661.4h7.71v-33.64h-7.71zM294.74 1661.4h7.71v-33.64h-7.71zM302.46 1661.4h7.71v-34.2h-7.71zM310.17 1661.4h7.71v-33.64h-7.71zM317.88 1661.4h7.71v-26.35h-7.71zM325.6 1661.4h7.71v-33.08h-7.71zM333.31 1661.4h7.71v-28.59h-7.71zM341.03 1661.4h7.71v-22.99h-7.71zM348.75 1661.4h7.71v-2.8h-7.71zM356.46 1661.4h7.71v-2.8h-7.71zM364.18 1661.4h7.71v-2.8h-7.71zM371.89 1661.4h7.71v-2.8h-7.71zM379.61 1661.4h7.71v-2.8h-7.71zM387.32 1661.4h7.71v-2.8h-7.71zM395.03 1661.4h7.71v-2.8h-7.71zM402.75 1661.4h7.71v-2.8h-7.71zM410.47 1661.4h7.71v-2.24h-7.71zM418.18 1661.4h7.71v-2.8h-7.71zM425.89 1661.4h7.71v-2.8h-7.71zM433.61 1661.4h7.71v-2.8h-7.71zM441.32 1661.4h7.71v-2.8h-7.71zM449.04 1661.4h7.71v-2.8h-7.71zM456.75 1661.4h7.71v-2.8h-7.71zM464.47 1661.4h7.71v-2.8h-7.71zM472.19 1661.4h7.71v-2.8h-7.71zM479.9 1661.4h7.71v-2.8h-7.71zM487.62 1661.4h7.71v-2.8h-7.71zM495.33 1661.4h7.71v-2.8h-7.71zM503.05 1661.4h7.71v-2.8h-7.71zM510.76 1661.4h7.71v-2.8h-7.71zM518.48 1661.4h7.71v-28.59h-7.71zM526.19 1661.4h7.71v-29.71h-7.71zM533.9 1661.4h7.71v-33.08h-7.71zM541.62 1661.4h7.71v-34.2h-7.71zM549.34 1661.4h7.71v-34.2h-7.71zM557.05 1661.4h7.71v-34.2h-7.71zM564.76 1661.4h7.71v-33.08h-7.71zM572.48 1661.4h7.71v-33.08h-7.71zM580.19 1661.4h7.71v-33.64h-7.71zM587.91 1661.4h7.71v-34.2h-7.71zM595.62 1661.4h7.71v-33.64h-7.71zM603.34 1661.4h7.71v-33.64h-7.71zM611.06 1661.4h7.71v-34.2h-7.71zM618.77 1661.4h7.71v-34.2h-7.71zM626.49 1661.4h7.71v-34.2h-7.71zM634.2 1661.4h7.71v-29.71h-7.71zM641.91 1661.4h7.71v-24.67h-7.71zM649.63 1661.4h7.71v-34.2h-7.71zM657.35 1661.4h7.71v-33.64h-7.71zM665.06 1661.4h7.71v-33.64h-7.71zM672.77 1661.4h7.71v-32.52h-7.71zM680.49 1661.4h7.71v-34.2h-7.71zM688.2 1661.4h7.71v-34.2h-7.71zM695.92 1661.4h7.71v-34.2h-7.71zM703.63 1661.4h7.71v-34.2h-7.71zM711.35 1661.4h7.71v-33.64h-7.71zM719.07 1661.4h7.71v-34.2h-7.71zM726.78 1661.4h7.71v-34.2h-7.71zM734.49 1661.4h7.71v-33.64h-7.71zM742.21 1661.4h7.71v-31.96h-7.71zM749.92 1661.4h7.71v-26.91h-7.71zM757.64 1661.4h7.71v-33.64h-7.71zM765.36 1661.4h7.71v-27.47h-7.71zM773.07 1661.4h7.71v-33.64h-7.71zM780.79 1661.4h7.71v-33.08h-7.71zM788.5 1661.4h7.71v-21.3h-7.71zM796.21 1661.4h7.71v-26.35h-7.71zM803.93 1661.4h7.71v-29.15h-7.71zM811.64 1661.4h7.71v-33.64h-7.71zM819.36 1661.4h7.71v-34.2h-7.71zM827.08 1661.4h7.71v-34.2h-7.71zM834.79 1661.4h7.71v-33.64h-7.71zM842.51 1661.4h7.71v-34.2h-7.71zM850.22 1661.4h7.71v-34.2h-7.71zM857.93 1661.4h7.71v-34.2h-7.71zM865.65 1661.4h7.71v-33.64h-7.71zM873.37 1661.4h7.71v-34.2h-7.71zM881.08 1661.4h7.71v-34.2h-7.71zM888.8 1661.4h7.71v-20.74h-7.71zM896.51 1661.4h7.71v-33.64h-7.71zM904.22 1661.4h7.71v-31.4h-7.71zM911.94 1661.4h7.71v-26.91h-7.71zM919.65 1661.4h7.71v-31.4h-7.71zM927.37 1661.4h7.71v-26.35h-7.71zM935.09 1661.4h7.71v-28.03h-7.71zM942.8 1661.4h7.71v-33.08h-7.71zM950.52 1661.4h7.71v-34.2h-7.71zM958.23 1661.4h7.71v-34.2h-7.71zM965.94 1661.4h7.71v-34.2h-7.71zM973.66 1661.4h7.71v-30.28h-7.71zM981.38 1661.4h7.71v-29.71h-7.71zM989.09 1661.4h7.71v-31.96h-7.71zM996.81 1661.4h7.71v-33.08h-7.71zM1004.52 1661.4h7.71v-32.52h-7.71zM1012.23 1661.4h7.71v-34.2h-7.71zM1019.95 1661.4h7.71v-34.2h-7.71zM1027.66 1661.4h7.71v-32.52h-7.71zM1035.38 1661.4h7.71v-34.2h-7.71zM1043.1 1661.4h7.71v-34.2h-7.71zM1050.81 1661.4h7.71v-33.08h-7.71zM1058.53 1661.4h7.71v-34.2h-7.71zM1066.24 1661.4h7.71v-33.64h-7.71zM1073.95 1661.4h7.71v-33.64h-7.71zM1081.67 1661.4h7.71v-34.2h-7.71zM1089.38 1661.4h7.71v-31.4h-7.71zM1097.1 1661.4h7.71v-34.2h-7.71zM1104.82 1661.4h7.71v-34.2h-7.71zM1112.53 1661.4h7.71v-34.2h-7.71zM1120.24 1661.4h7.71v-34.2h-7.71zM1127.96 1661.4h7.71v-34.2h-7.71zM1135.67 1661.4h7.71v-29.15h-7.71zM1143.39 1661.4h7.71v-34.2h-7.71zM1151.11 1661.4h7.71v-26.91h-7.71zM1158.82 1661.4h7.71v-32.52h-7.71zM1166.54 1661.4h7.71v-32.52h-7.71zM1174.25 1661.4h7.71v-34.2h-7.71zM1181.96 1661.4h7.71v-34.2h-7.71zM1189.68 1661.4h7.71v-33.08h-7.71zM1197.39 1661.4h7.71v-33.64h-7.71zM1205.11 1661.4h7.71v-34.2h-7.71zM1212.83 1661.4h7.71v-34.2h-7.71zM1220.54 1661.4h7.71v-31.4h-7.71zM1228.25 1661.4h7.71v-34.2h-7.71zM1235.97 1661.4h7.71v-31.4h-7.71zM1243.68 1661.4h7.71v-33.64h-7.71zM1251.4 1661.4h7.71v-31.4h-7.71zM1259.12 1661.4h7.71v-34.2h-7.71zM1266.83 1661.4h7.71v-31.4h-7.71zM1274.54 1661.4h7.71v-33.08h-7.71zM1282.26 1661.4h7.71v-33.64h-7.71zM1289.97 1661.4h7.71v-32.52h-7.71zM1297.69 1661.4h7.71v-33.64h-7.71zM1305.4 1661.4h7.71v-34.2h-7.71zM1313.12 1661.4h7.71v-31.96h-7.71zM1320.84 1661.4h7.71v-31.96h-7.71zM1328.55 1661.4h7.71v-31.4h-7.71zM1336.26 1661.4h7.71v-33.64h-7.71zM1343.98 1661.4h7.71v-34.2h-7.71zM1351.69 1661.4h7.71v-33.64h-7.71zM1359.41 1661.4h7.71v-32.52h-7.71zM1367.12 1661.4h7.71v-26.91h-7.71zM1374.84 1661.4h7.71v-34.2h-7.71zM1382.55 1661.4h7.71v-34.2h-7.71zM1390.27 1661.4h7.71v-33.64h-7.71zM1397.98 1661.4h7.71v-33.08h-7.71zM1405.7 1661.4h7.71v-33.08h-7.71zM1413.41 1661.4h7.71v-33.64h-7.71zM1421.13 1661.4h7.71v-34.2h-7.71zM1428.85 1661.4h7.71v-34.2h-7.71zM1436.56 1661.4h7.71v-33.64h-7.71zM1444.27 1661.4h7.71v-34.2h-7.71zM1451.99 1661.4h7.71v-33.64h-7.71zM1459.7 1661.4h7.71v-29.15h-7.71zM1467.42 1661.4h7.71v-29.71h-7.71zM1475.13 1661.4h7.71v-33.64h-7.71zM1482.85 1661.4h7.71v-34.2h-7.71zM1490.56 1661.4h7.71v-33.64h-7.71zM1498.28 1661.4h7.71v-34.2h-7.71zM1505.99 1661.4h7.71v-30.28h-7.71zM1513.71 1661.4h7.71v-33.64h-7.71zM1521.42 1661.4h7.71v-34.2h-7.71zM1529.14 1661.4h7.71v-30.28h-7.71zM1536.86 1661.4h7.71v-34.2h-7.71zM1544.57 1661.4h7.71v-34.2h-7.71zM1552.28 1661.4h7.71v-23.55h-7.71zM1560 1661.4h7.71v-33.08h-7.71zM1567.71 1661.4h7.71v-34.2h-7.71zM1575.43 1661.4h7.71v-34.2h-7.71zM1583.14 1661.4h7.71v-33.64h-7.71zM1590.86 1661.4h7.71v-31.4h-7.71zM1598.57 1661.4h7.71v-33.64h-7.71zM1606.29 1661.4h7.71v-30.84h-7.71zM1614 1661.4h7.71v-33.64h-7.71zM1621.72 1661.4h7.71v-27.47h-7.71zM1629.43 1661.4h7.71v-34.2h-7.71zM1637.15 1661.4h7.71v-33.64h-7.71zM1644.87 1661.4h7.71v-31.4h-7.71zM1652.58 1661.4h7.71v-31.96h-7.71zM1660.29 1661.4h7.71v-34.2h-7.71zM1668.01 1661.4h7.71v-26.91h-7.71zM1675.72 1661.4h7.71v-30.84h-7.71zM1683.44 1661.4h7.71v-32.52h-7.71zM1691.15 1661.4h7.71v-33.64h-7.71zM1698.87 1661.4h7.71v-26.91h-7.71zM1706.59 1661.4h7.71v-33.64h-7.71zM1714.3 1661.4h7.71v-34.2h-7.71zM1722.01 1661.4h7.71v-33.08h-7.71zM1729.73 1661.4h7.71v-1.68h-7.71z"/>
<text x="168.4" y="1654" text-anchor="end" fill="#000" style="font-family:'DejaVu Sans', 'Liberation Sans', sans-serif;font-size:8.6px">Consensus</text>
<text x="175.2 182.9 190.6 198.3 206.0 213.7 221.4 229.2 236.9 244.6 252.3 260.0 267.7 275.5 283.2 290.9 298.6 306.3 314.0 321.7 329.5 337.2 344.9 352.6 360.3 368.0 375.7 383.5 391.2 398.9 406.6 414.3 422.0 429.8 437.5 445.2 452.9 460.6 468.3 476.0 483.8 491.5 499.2 506.9 514.6 522.3 530.0 537.8 545.5 553.2 560.9 568.6 576.3 584.1 591.8 599.5 607.2 614.9 622.6 630.3 638.1 645.8 653.5 661.2 668.9 676.6 684.3 692.1 699.8 707.5 715.2 722.9 730.6 738.4 746.1 753.8 761.5 769.2 776.9 784.6 792.4 800.1 807.8 815.5 823.2 830.9 838.6 846.4 854.1 861.8 869.5 877.2 884.9 892.7 900.4 908.1 915.8 923.5 931.2 938.9 946.7 954.4 962.1 969.8 977.5 985.2 992.9 1000.7 1008.4 1016.1 1023.8 1031.5 1039.2 1047.0 1054.7 1062.4 1070.1 1077.8 1085.5 1093.2 1101.0 1108.7 1116.4 1124.1 1131.8 1139.5 1147.2 1155.0 1162.7 1170.4 1178.1 1185.8 1193.5 1201.3 1209.0 1216.7 1224.4 1232.1 1239.8 1247.5 1255.3 1263.0 1270.7 1278.4 1286.1 1293.8 1301.5 1309.3 1317.0 1324.7 1332.4 1340.1 1347.8 1355.6 1363.3 1371.0 1378.7 1386.4 1394.1 1401.8 1409.6 1417.3 1425.0 1432.7 1440.4 1448.1 1455.8 1463.6 1471.3 1479.0 1486.7 1494.4 1502.1 1509.9 1517.6 1525.3 1533.0 1540.7 1548.4 1556.1 1563.9 1571.6 1579.3 1587.0 1594.7 1602.4 1610.1 1617.9 1625.6 1633.3 1641.0 1648.7 1656.4 1664.2 1671.9 1679.6 1687.3 1695.0 1702.7 1710.4 1718.2 1725.9 1733.6" y="1671.6" text-anchor="middle" fill="#222" style="font-family:'DejaVu Sans', 'Liberation Sans', sans-serif;font-size:8.6px">GGCCACACAACCCCCATTTTTGTTGAAAATAGCCATGAGCGACCTCGAAAATAGCCATGAACGACCATTTTCAATAATACCGAAGGCTAACACCTACGGATTTTTGACCAAGAAATGGTCTCCACCAGAAATCCAAGAATGTGATCTATGGCAAGGAAACATATGTGGGGTGAGGTGTATGAGCCTCTGGTCGATGATCAATT</text>
</g>
<g id="panel-d">
<text x="-1.8" y="1793.8" fill="#000" style="font-family:'Liberation Sans', Arial, sans-serif;font-size:35px;font-weight:bold">d</text>
<rect x="146.4" y="1868.3" width="747" height="485.7" fill="none" stroke="#1c1c1c" stroke-width="1.5"/>
<text x="146.1" y="2357" text-anchor="end" fill="#000" style="font-family:'DejaVu Sans', 'Liberation Sans', sans-serif;font-size:55px">-1-</text>
<text x="146.1" y="2284.5" text-anchor="end" fill="#000" style="font-family:'DejaVu Sans', 'Liberation Sans', sans-serif;font-size:55px">0-</text>
<text x="146.1" y="2212" text-anchor="end" fill="#000" style="font-family:'DejaVu Sans', 'Liberation Sans', sans-serif;font-size:55px">1-</text>
<text x="146.1" y="2139.5" text-anchor="end" fill="#000" style="font-family:'DejaVu Sans', 'Liberation Sans', sans-serif;font-size:55px">2-</text>
<text x="146.1" y="2067" text-anchor="end" fill="#000" style="font-family:'DejaVu Sans', 'Liberation Sans', sans-serif;font-size:55px">3-</text>
<text x="146.1" y="1994.5" text-anchor="end" fill="#000" style="font-family:'DejaVu Sans', 'Liberation Sans', sans-serif;font-size:55px">4-</text>
<text x="146.1" y="1922" text-anchor="end" fill="#000" style="font-family:'DejaVu Sans', 'Liberation Sans', sans-serif;font-size:55px">5-</text>
<text transform="translate(142.2 1850.8) scale(0.9730 1)" fill="#05050f" style="font-family:'DejaVu Sans', 'Liberation Sans', sans-serif;font-size:63.6px">Knob signature</text>
<path d="M310.3 2196.7H430.7" stroke="#26262a" stroke-width="2.1"/>
<path d="M508.1 2035.62L507.25 2038.81L506.38 2042L505.49 2045.19L504.58 2048.38L503.66 2051.57L502.72 2054.76L501.76 2057.96L500.78 2061.15L499.73 2064.34L498.63 2067.53L497.51 2070.72L496.38 2073.91L495.26 2077.11L494.18 2080.3L493.15 2083.49L492.19 2086.68L491.32 2089.87L490.49 2093.06L489.68 2096.26L488.9 2099.45L488.15 2102.64L487.43 2105.83L486.75 2109.02L486.12 2112.21L485.54 2115.4L485.01 2118.6L484.51 2121.79L484.01 2124.98L483.52 2128.17L483.05 2131.36L482.61 2134.55L482.22 2137.75L481.88 2140.94L481.62 2144.13L481.43 2147.32L481.32 2150.51L481.22 2153.7L481.15 2156.9L481.09 2160.09L481.07 2163.28L481.1 2166.47L481.2 2169.66L481.34 2172.85L481.52 2176.04L481.7 2179.24L481.94 2182.43L482.24 2185.62L482.61 2188.81L483.02 2192L483.48 2195.19L483.96 2198.39L484.45 2201.58L484.96 2204.77L485.46 2207.96L485.98 2211.15L486.59 2214.34L487.26 2217.54L487.95 2220.73L488.66 2223.92L489.34 2227.11L489.98 2230.3L490.55 2233.49L491.02 2236.68L491.39 2239.88L491.74 2243.07L492.06 2246.26L492.3 2249.45L492.42 2252.64L492.4 2255.83L492.32 2259.03L492.18 2262.22L492 2265.41L491.8 2268.6L491.44 2271.79L490.9 2274.98L490.23 2278.17L489.53 2281.37L488.85 2284.56L488.07 2287.75L487.24 2290.94L486.42 2294.13L485.71 2297.32L485.12 2300.52L484.58 2303.71L484.11 2306.9L483.76 2310.09L483.5 2313.28L483.29 2316.47L483.16 2319.67L556.64 2319.67L556.51 2316.47L556.3 2313.28L556.04 2310.09L555.69 2306.9L555.22 2303.71L554.68 2300.52L554.09 2297.32L553.38 2294.13L552.56 2290.94L551.73 2287.75L550.95 2284.56L550.27 2281.37L549.57 2278.17L548.9 2274.98L548.36 2271.79L548 2268.6L547.8 2265.41L547.62 2262.22L547.48 2259.03L547.4 2255.83L547.38 2252.64L547.5 2249.45L547.74 2246.26L548.06 2243.07L548.41 2239.88L548.78 2236.68L549.25 2233.49L549.82 2230.3L550.46 2227.11L551.14 2223.92L551.85 2220.73L552.54 2217.54L553.21 2214.34L553.82 2211.15L554.34 2207.96L554.84 2204.77L555.35 2201.58L555.84 2198.39L556.32 2195.19L556.78 2192L557.19 2188.81L557.56 2185.62L557.86 2182.43L558.1 2179.24L558.28 2176.04L558.46 2172.85L558.6 2169.66L558.7 2166.47L558.73 2163.28L558.71 2160.09L558.65 2156.9L558.58 2153.7L558.48 2150.51L558.37 2147.32L558.18 2144.13L557.92 2140.94L557.58 2137.75L557.19 2134.55L556.75 2131.36L556.28 2128.17L555.79 2124.98L555.29 2121.79L554.79 2118.6L554.26 2115.4L553.68 2112.21L553.05 2109.02L552.37 2105.83L551.65 2102.64L550.9 2099.45L550.12 2096.26L549.31 2093.06L548.48 2089.87L547.61 2086.68L546.65 2083.49L545.62 2080.3L544.54 2077.11L543.42 2073.91L542.29 2070.72L541.17 2067.53L540.07 2064.34L539.02 2061.15L538.04 2057.96L537.08 2054.76L536.14 2051.57L535.22 2048.38L534.31 2045.19L533.42 2042L532.55 2038.81L531.7 2035.62Z" fill="#158b6a" stroke="#26262a" stroke-width="2.2" stroke-linejoin="round"/>
<path d="M519.9 2035.62V2319.67" stroke="#26262a" stroke-width="2.1"/>
<path d="M519.9 2138.36V2323.85" stroke="#353535" stroke-width="6.4"/>
<circle cx="519.9" cy="2207.36" r="1.9" fill="#fff"/>
<path d="M668.4 1962.74L668.36 1966.75L668.25 1970.76L668.08 1974.77L667.87 1978.78L667.62 1982.79L667.32 1986.8L666.84 1990.81L666.22 1994.82L665.53 1998.83L664.75 2002.84L663.82 2006.85L662.78 2010.86L661.71 2014.87L660.58 2018.88L659.38 2022.89L658.13 2026.9L656.85 2030.91L655.54 2034.92L654.18 2038.93L652.76 2042.94L651.27 2046.96L649.71 2050.97L648.08 2054.98L646.4 2058.99L644.62 2063L642.75 2067.01L640.87 2071.02L639.03 2075.03L637.21 2079.04L635.41 2083.05L633.68 2087.06L632.07 2091.07L630.5 2095.08L629.02 2099.09L627.74 2103.1L626.66 2107.11L625.66 2111.12L624.82 2115.13L624.17 2119.14L623.63 2123.15L623.31 2127.16L623.39 2131.17L623.69 2135.19L624.14 2139.2L624.67 2143.21L625.2 2147.22L625.7 2151.23L626.26 2155.24L626.86 2159.25L627.42 2163.26L627.95 2167.27L628.48 2171.28L628.96 2175.29L629.32 2179.3L629.63 2183.31L629.89 2187.32L630.09 2191.33L630.22 2195.34L630.3 2199.35L630.36 2203.36L630.44 2207.37L630.57 2211.38L630.76 2215.39L631.02 2219.4L631.36 2223.41L631.95 2227.43L632.87 2231.44L634.02 2235.45L635.3 2239.46L636.98 2243.47L638.96 2247.48L640.96 2251.49L642.81 2255.5L644.78 2259.51L646.61 2263.52L647.93 2267.53L648.71 2271.54L649.23 2275.55L649.18 2279.56L648.6 2283.57L647.78 2287.58L646.37 2291.59L644.54 2295.6L642.57 2299.61L640.14 2303.62L637.68 2307.63L635.81 2311.64L634.32 2315.66L633.16 2319.67L705.44 2319.67L704.28 2315.66L702.79 2311.64L700.92 2307.63L698.46 2303.62L696.03 2299.61L694.06 2295.6L692.23 2291.59L690.82 2287.58L690 2283.57L689.42 2279.56L689.37 2275.55L689.89 2271.54L690.67 2267.53L691.99 2263.52L693.82 2259.51L695.79 2255.5L697.64 2251.49L699.64 2247.48L701.62 2243.47L703.3 2239.46L704.58 2235.45L705.73 2231.44L706.65 2227.43L707.24 2223.41L707.58 2219.4L707.84 2215.39L708.03 2211.38L708.16 2207.37L708.24 2203.36L708.3 2199.35L708.38 2195.34L708.51 2191.33L708.71 2187.32L708.97 2183.31L709.28 2179.3L709.64 2175.29L710.12 2171.28L710.65 2167.27L711.18 2163.26L711.74 2159.25L712.34 2155.24L712.9 2151.23L713.4 2147.22L713.93 2143.21L714.46 2139.2L714.91 2135.19L715.21 2131.17L715.29 2127.16L714.97 2123.15L714.43 2119.14L713.78 2115.13L712.94 2111.12L711.94 2107.11L710.86 2103.1L709.58 2099.09L708.1 2095.08L706.53 2091.07L704.92 2087.06L703.19 2083.05L701.39 2079.04L699.57 2075.03L697.73 2071.02L695.85 2067.01L693.98 2063L692.2 2058.99L690.52 2054.98L688.89 2050.97L687.33 2046.96L685.84 2042.94L684.42 2038.93L683.06 2034.92L681.75 2030.91L680.47 2026.9L679.22 2022.89L678.02 2018.88L676.89 2014.87L675.82 2010.86L674.78 2006.85L673.85 2002.84L673.07 1998.83L672.38 1994.82L671.76 1990.81L671.28 1986.8L670.98 1982.79L670.73 1978.78L670.52 1974.77L670.35 1970.76L670.24 1966.75L670.2 1962.74Z" fill="#ba611b" stroke="#26262a" stroke-width="2.2" stroke-linejoin="round"/>
<path d="M669.3 1962.74V2319.67" stroke="#26262a" stroke-width="2.1"/>
<path d="M669.3 2118.05V2250.97" stroke="#353535" stroke-width="6.4"/>
<circle cx="669.3" cy="2187.05" r="1.9" fill="#fff"/>
<path d="M818.25 1914.95L818.25 1919.49L818.23 1924.04L818.2 1928.59L818.15 1933.14L818.1 1937.68L818.04 1942.23L817.97 1946.78L817.89 1951.33L817.81 1955.87L817.71 1960.42L817.61 1964.97L817.51 1969.52L817.38 1974.06L817.2 1978.61L816.98 1983.16L816.7 1987.7L816.36 1992.25L815.97 1996.8L815.48 2001.35L814.6 2005.89L813.47 2010.44L812.28 2014.99L811.06 2019.54L809.71 2024.08L808.2 2028.63L806.47 2033.18L804.49 2037.73L802.34 2042.27L800.11 2046.82L797.72 2051.37L795.2 2055.92L792.59 2060.46L789.88 2065.01L787.06 2069.56L784.08 2074.11L780.82 2078.65L777.35 2083.2L773.95 2087.75L770.69 2092.3L767.41 2096.84L764.49 2101.39L762.27 2105.94L760.38 2110.48L759.1 2115.03L758.56 2119.58L758.38 2124.13L758.95 2128.67L760 2133.22L761.46 2137.77L763.61 2142.32L766.03 2146.86L768.39 2151.41L770.99 2155.96L773.53 2160.51L775.65 2165.05L777.5 2169.6L779.13 2174.15L780.47 2178.7L781.61 2183.24L782.6 2187.79L783.32 2192.34L783.75 2196.89L784.1 2201.43L784.31 2205.98L784.35 2210.53L784.35 2215.08L784.35 2219.62L784.36 2224.17L784.57 2228.72L785.06 2233.26L785.74 2237.81L787.08 2242.36L789.58 2246.91L792.62 2251.45L795.94 2256L800.21 2260.55L804.44 2265.1L807.56 2269.64L810.27 2274.19L811.99 2278.74L811.78 2283.29L810.31 2287.83L807.4 2292.38L801.85 2296.93L794.64 2301.48L785.71 2306.02L777.53 2310.57L771.34 2315.12L768.52 2319.67L868.88 2319.67L866.06 2315.12L859.87 2310.57L851.69 2306.02L842.76 2301.48L835.55 2296.93L830 2292.38L827.09 2287.83L825.62 2283.29L825.41 2278.74L827.13 2274.19L829.84 2269.64L832.96 2265.1L837.19 2260.55L841.46 2256L844.78 2251.45L847.82 2246.91L850.32 2242.36L851.66 2237.81L852.34 2233.26L852.83 2228.72L853.04 2224.17L853.05 2219.62L853.05 2215.08L853.05 2210.53L853.09 2205.98L853.3 2201.43L853.65 2196.89L854.08 2192.34L854.8 2187.79L855.79 2183.24L856.93 2178.7L858.27 2174.15L859.9 2169.6L861.75 2165.05L863.87 2160.51L866.41 2155.96L869.01 2151.41L871.37 2146.86L873.79 2142.32L875.94 2137.77L877.4 2133.22L878.45 2128.67L879.02 2124.13L878.84 2119.58L878.3 2115.03L877.02 2110.48L875.13 2105.94L872.91 2101.39L869.99 2096.84L866.71 2092.3L863.45 2087.75L860.05 2083.2L856.58 2078.65L853.32 2074.11L850.34 2069.56L847.52 2065.01L844.81 2060.46L842.2 2055.92L839.68 2051.37L837.29 2046.82L835.06 2042.27L832.91 2037.73L830.93 2033.18L829.2 2028.63L827.69 2024.08L826.34 2019.54L825.12 2014.99L823.93 2010.44L822.8 2005.89L821.92 2001.35L821.43 1996.8L821.04 1992.25L820.7 1987.7L820.42 1983.16L820.2 1978.61L820.02 1974.06L819.89 1969.52L819.79 1964.97L819.69 1960.42L819.59 1955.87L819.51 1951.33L819.43 1946.78L819.36 1942.23L819.3 1937.68L819.25 1933.14L819.2 1928.59L819.17 1924.04L819.15 1919.49L819.15 1914.95Z" fill="#c282b5" stroke="#26262a" stroke-width="2.2" stroke-linejoin="round"/>
<path d="M818.7 1914.95V2319.67" stroke="#26262a" stroke-width="2.1"/>
<path d="M818.7 2109.39V2250.37" stroke="#353535" stroke-width="6.4"/>
<circle cx="818.7" cy="2160.17" r="1.9" fill="#fff"/>
<rect x="1002.3" y="1875.2" width="747.7" height="486" fill="none" stroke="#1c1c1c" stroke-width="1.5"/>
<text x="1004.7" y="2364.1" text-anchor="end" fill="#000" style="font-family:'DejaVu Sans', 'Liberation Sans', sans-serif;font-size:55px">-1-</text>
<text x="1004.7" y="2291.7" text-anchor="end" fill="#000" style="font-family:'DejaVu Sans', 'Liberation Sans', sans-serif;font-size:55px">0-</text>
<text x="1004.7" y="2219.3" text-anchor="end" fill="#000" style="font-family:'DejaVu Sans', 'Liberation Sans', sans-serif;font-size:55px">1-</text>
<text x="1004.7" y="2146.9" text-anchor="end" fill="#000" style="font-family:'DejaVu Sans', 'Liberation Sans', sans-serif;font-size:55px">2-</text>
<text x="1004.7" y="2074.5" text-anchor="end" fill="#000" style="font-family:'DejaVu Sans', 'Liberation Sans', sans-serif;font-size:55px">3-</text>
<text x="1004.7" y="2002.1" text-anchor="end" fill="#000" style="font-family:'DejaVu Sans', 'Liberation Sans', sans-serif;font-size:55px">4-</text>
<text x="1004.7" y="1929.7" text-anchor="end" fill="#000" style="font-family:'DejaVu Sans', 'Liberation Sans', sans-serif;font-size:55px">5-</text>
<text transform="translate(988.1 1854.8) scale(0.9660 1)" fill="#05050f" style="font-family:'DejaVu Sans', 'Liberation Sans', sans-serif;font-size:63.6px">Satellite tandem repeat</text>
<path d="M1070.8 1984.54L1070.79 1988.39L1070.75 1992.23L1070.69 1996.08L1070.62 1999.92L1070.52 2003.77L1070.42 2007.62L1070.3 2011.46L1070.17 2015.31L1069.93 2019.15L1069.6 2023L1069.24 2026.85L1068.89 2030.69L1068.54 2034.54L1068.17 2038.38L1067.75 2042.23L1067.28 2046.08L1066.7 2049.92L1066.06 2053.77L1065.39 2057.61L1064.74 2061.46L1064.05 2065.31L1063.35 2069.15L1062.63 2073L1061.91 2076.84L1061.21 2080.69L1060.52 2084.54L1059.86 2088.38L1059.23 2092.23L1058.61 2096.07L1058 2099.92L1057.41 2103.77L1056.83 2107.61L1056.27 2111.46L1055.74 2115.3L1055.24 2119.15L1054.77 2123L1054.33 2126.84L1053.9 2130.69L1053.49 2134.53L1053.09 2138.38L1052.69 2142.23L1052.28 2146.07L1051.86 2149.92L1051.43 2153.76L1051 2157.61L1050.57 2161.46L1050.15 2165.3L1049.72 2169.15L1049.3 2172.99L1048.89 2176.84L1048.48 2180.69L1048.07 2184.53L1047.65 2188.38L1047.23 2192.22L1046.83 2196.07L1046.45 2199.92L1046.09 2203.76L1045.78 2207.61L1045.48 2211.45L1045.18 2215.3L1044.93 2219.15L1044.81 2222.99L1044.81 2226.84L1044.81 2230.68L1044.81 2234.53L1044.81 2238.38L1044.79 2242.22L1044.71 2246.07L1044.59 2249.91L1044.43 2253.76L1044.25 2257.61L1044.03 2261.45L1043.8 2265.3L1043.56 2269.14L1043.21 2272.99L1042.74 2276.84L1042.2 2280.68L1041.62 2284.53L1040.86 2288.37L1040.02 2292.22L1039.22 2296.07L1038.55 2299.91L1037.93 2303.76L1037.37 2307.6L1036.91 2311.45L1036.55 2315.3L1036.24 2319.14L1036.15 2322.99L1036.15 2326.83L1117.99 2326.83L1117.99 2322.99L1117.9 2319.14L1117.59 2315.3L1117.23 2311.45L1116.77 2307.6L1116.21 2303.76L1115.59 2299.91L1114.92 2296.07L1114.12 2292.22L1113.28 2288.37L1112.52 2284.53L1111.94 2280.68L1111.4 2276.84L1110.93 2272.99L1110.58 2269.14L1110.34 2265.3L1110.11 2261.45L1109.89 2257.61L1109.71 2253.76L1109.55 2249.91L1109.43 2246.07L1109.35 2242.22L1109.33 2238.38L1109.33 2234.53L1109.33 2230.68L1109.33 2226.84L1109.33 2222.99L1109.21 2219.15L1108.96 2215.3L1108.66 2211.45L1108.36 2207.61L1108.05 2203.76L1107.69 2199.92L1107.31 2196.07L1106.91 2192.22L1106.49 2188.38L1106.07 2184.53L1105.66 2180.69L1105.25 2176.84L1104.84 2172.99L1104.42 2169.15L1103.99 2165.3L1103.57 2161.46L1103.14 2157.61L1102.71 2153.76L1102.28 2149.92L1101.86 2146.07L1101.45 2142.23L1101.05 2138.38L1100.65 2134.53L1100.24 2130.69L1099.81 2126.84L1099.37 2123L1098.9 2119.15L1098.4 2115.3L1097.87 2111.46L1097.31 2107.61L1096.73 2103.77L1096.14 2099.92L1095.53 2096.07L1094.91 2092.23L1094.28 2088.38L1093.62 2084.54L1092.93 2080.69L1092.23 2076.84L1091.51 2073L1090.79 2069.15L1090.09 2065.31L1089.4 2061.46L1088.75 2057.61L1088.08 2053.77L1087.44 2049.92L1086.86 2046.08L1086.39 2042.23L1085.97 2038.38L1085.6 2034.54L1085.25 2030.69L1084.9 2026.85L1084.54 2023L1084.21 2019.15L1083.97 2015.31L1083.84 2011.46L1083.72 2007.62L1083.62 2003.77L1083.52 1999.92L1083.45 1996.08L1083.39 1992.23L1083.35 1988.39L1083.34 1984.54Z" fill="#176d9c" stroke="#26262a" stroke-width="2.2" stroke-linejoin="round"/>
<path d="M1077.07 1984.54V2326.83" stroke="#26262a" stroke-width="2.1"/>
<path d="M1077.07 2159.27V2331.02" stroke="#353535" stroke-width="6.4"/>
<circle cx="1077.07" cy="2234.54" r="1.9" fill="#fff"/>
<path d="M1226.16 1950.49L1226.16 1954.72L1226.14 1958.95L1226.11 1963.18L1226.07 1967.4L1226.02 1971.63L1225.95 1975.86L1225.88 1980.09L1225.8 1984.32L1225.7 1988.55L1225.6 1992.78L1225.49 1997L1225.35 2001.23L1225.07 2005.46L1224.69 2009.69L1224.27 2013.92L1223.86 2018.15L1223.41 2022.38L1222.86 2026.6L1222.14 2030.83L1221.07 2035.06L1219.71 2039.29L1218.22 2043.52L1216.61 2047.75L1214.77 2051.98L1212.79 2056.2L1210.8 2060.43L1208.72 2064.66L1206.58 2068.89L1204.43 2073.12L1202.29 2077.35L1200.14 2081.58L1198.02 2085.8L1195.99 2090.03L1193.97 2094.26L1192.02 2098.49L1190.32 2102.72L1188.93 2106.95L1187.67 2111.18L1186.63 2115.4L1185.89 2119.63L1185.29 2123.86L1184.8 2128.09L1184.52 2132.32L1184.54 2136.55L1184.75 2140.78L1185.07 2145L1185.43 2149.23L1185.89 2153.46L1186.5 2157.69L1187.18 2161.92L1187.9 2166.15L1188.73 2170.38L1189.62 2174.6L1190.5 2178.83L1191.39 2183.06L1192.3 2187.29L1193.11 2191.52L1193.77 2195.75L1194.34 2199.98L1194.84 2204.2L1195.24 2208.43L1195.59 2212.66L1195.9 2216.89L1196.11 2221.12L1196.14 2225.35L1196.14 2229.58L1196.14 2233.81L1196.14 2238.03L1196.47 2242.26L1197.4 2246.49L1198.63 2250.72L1199.96 2254.95L1201.84 2259.18L1203.97 2263.41L1205.78 2267.63L1207.2 2271.86L1208.45 2276.09L1208.99 2280.32L1208.6 2284.55L1207.63 2288.78L1206.29 2293.01L1203.45 2297.23L1199.5 2301.46L1195.6 2305.69L1191.35 2309.92L1187.96 2314.15L1185.29 2318.38L1183.79 2322.61L1183.3 2326.83L1269.92 2326.83L1269.43 2322.61L1267.93 2318.38L1265.26 2314.15L1261.87 2309.92L1257.62 2305.69L1253.72 2301.46L1249.77 2297.23L1246.93 2293.01L1245.59 2288.78L1244.62 2284.55L1244.23 2280.32L1244.77 2276.09L1246.02 2271.86L1247.44 2267.63L1249.25 2263.41L1251.38 2259.18L1253.26 2254.95L1254.59 2250.72L1255.82 2246.49L1256.75 2242.26L1257.08 2238.03L1257.08 2233.81L1257.08 2229.58L1257.08 2225.35L1257.11 2221.12L1257.32 2216.89L1257.63 2212.66L1257.98 2208.43L1258.38 2204.2L1258.88 2199.98L1259.45 2195.75L1260.11 2191.52L1260.92 2187.29L1261.83 2183.06L1262.72 2178.83L1263.6 2174.6L1264.49 2170.38L1265.32 2166.15L1266.04 2161.92L1266.72 2157.69L1267.33 2153.46L1267.79 2149.23L1268.15 2145L1268.47 2140.78L1268.68 2136.55L1268.7 2132.32L1268.42 2128.09L1267.93 2123.86L1267.33 2119.63L1266.59 2115.4L1265.55 2111.18L1264.29 2106.95L1262.9 2102.72L1261.2 2098.49L1259.25 2094.26L1257.23 2090.03L1255.2 2085.8L1253.08 2081.58L1250.93 2077.35L1248.79 2073.12L1246.64 2068.89L1244.5 2064.66L1242.42 2060.43L1240.43 2056.2L1238.45 2051.98L1236.61 2047.75L1235 2043.52L1233.51 2039.29L1232.15 2035.06L1231.08 2030.83L1230.36 2026.6L1229.81 2022.38L1229.36 2018.15L1228.95 2013.92L1228.53 2009.69L1228.15 2005.46L1227.87 2001.23L1227.73 1997L1227.62 1992.78L1227.52 1988.55L1227.42 1984.32L1227.34 1980.09L1227.27 1975.86L1227.2 1971.63L1227.15 1967.4L1227.11 1963.18L1227.08 1958.95L1227.06 1954.72L1227.06 1950.49Z" fill="#c38820" stroke="#26262a" stroke-width="2.2" stroke-linejoin="round"/>
<path d="M1226.61 1950.49V2326.83" stroke="#26262a" stroke-width="2.1"/>
<path d="M1226.61 2132.39V2331.02" stroke="#353535" stroke-width="6.4"/>
<circle cx="1226.61" cy="2197.8" r="1.9" fill="#fff"/>
<path d="M1375.7 1901.8L1375.7 1906.58L1375.69 1911.36L1375.68 1916.13L1375.66 1920.91L1375.64 1925.68L1375.62 1930.46L1375.58 1935.23L1375.55 1940.01L1375.51 1944.78L1375.46 1949.56L1375.41 1954.34L1375.35 1959.11L1375.29 1963.89L1375.22 1968.66L1375.15 1973.44L1375.07 1978.21L1374.98 1982.99L1374.87 1987.77L1374.63 1992.54L1374.3 1997.32L1373.89 2002.09L1373.41 2006.87L1372.88 2011.64L1372.31 2016.42L1371.56 2021.19L1370.62 2025.97L1369.54 2030.75L1368.17 2035.52L1366.55 2040.3L1364.8 2045.07L1362.87 2049.85L1360.73 2054.62L1358.43 2059.4L1355.92 2064.18L1353.2 2068.95L1350.41 2073.73L1347.6 2078.5L1344.71 2083.28L1341.82 2088.05L1338.86 2092.83L1335.81 2097.6L1333.05 2102.38L1330.76 2107.16L1328.63 2111.93L1327.02 2116.71L1326.2 2121.48L1325.71 2126.26L1325.82 2131.03L1326.41 2135.81L1327.38 2140.58L1328.93 2145.36L1330.62 2150.14L1332.46 2154.91L1334.45 2159.69L1336.41 2164.46L1338.49 2169.24L1340.53 2174.01L1342.13 2178.79L1343.44 2183.57L1344.55 2188.34L1345.08 2193.12L1345.09 2197.89L1345.09 2202.67L1345.09 2207.44L1344.8 2212.22L1343.88 2216.99L1342.93 2221.77L1342.36 2226.55L1341.87 2231.32L1341.55 2236.1L1341.65 2240.87L1342.56 2245.65L1344.26 2250.42L1347.7 2255.2L1351.97 2259.98L1356.39 2264.75L1361.65 2269.53L1366.02 2274.3L1369.31 2279.08L1371.31 2283.85L1370.36 2288.63L1367.32 2293.4L1362.9 2298.18L1355.88 2302.96L1347.47 2307.73L1338.5 2312.51L1331.84 2317.28L1327.16 2322.06L1325.07 2326.83L1427.23 2326.83L1425.14 2322.06L1420.46 2317.28L1413.8 2312.51L1404.83 2307.73L1396.42 2302.96L1389.4 2298.18L1384.98 2293.4L1381.94 2288.63L1380.99 2283.85L1382.99 2279.08L1386.28 2274.3L1390.65 2269.53L1395.91 2264.75L1400.33 2259.98L1404.6 2255.2L1408.04 2250.42L1409.74 2245.65L1410.65 2240.87L1410.75 2236.1L1410.43 2231.32L1409.94 2226.55L1409.37 2221.77L1408.42 2216.99L1407.5 2212.22L1407.21 2207.44L1407.21 2202.67L1407.21 2197.89L1407.22 2193.12L1407.75 2188.34L1408.86 2183.57L1410.17 2178.79L1411.77 2174.01L1413.81 2169.24L1415.89 2164.46L1417.85 2159.69L1419.84 2154.91L1421.68 2150.14L1423.37 2145.36L1424.92 2140.58L1425.89 2135.81L1426.48 2131.03L1426.59 2126.26L1426.1 2121.48L1425.28 2116.71L1423.67 2111.93L1421.54 2107.16L1419.25 2102.38L1416.49 2097.6L1413.44 2092.83L1410.48 2088.05L1407.59 2083.28L1404.7 2078.5L1401.89 2073.73L1399.1 2068.95L1396.38 2064.18L1393.87 2059.4L1391.57 2054.62L1389.43 2049.85L1387.5 2045.07L1385.75 2040.3L1384.13 2035.52L1382.76 2030.75L1381.68 2025.97L1380.74 2021.19L1379.99 2016.42L1379.42 2011.64L1378.89 2006.87L1378.41 2002.09L1378 1997.32L1377.67 1992.54L1377.43 1987.77L1377.32 1982.99L1377.23 1978.21L1377.15 1973.44L1377.08 1968.66L1377.01 1963.89L1376.95 1959.11L1376.89 1954.34L1376.84 1949.56L1376.79 1944.78L1376.75 1940.01L1376.72 1935.23L1376.68 1930.46L1376.66 1925.68L1376.64 1920.91L1376.62 1916.13L1376.61 1911.36L1376.6 1906.58L1376.6 1901.8Z" fill="#158b6a" stroke="#26262a" stroke-width="2.2" stroke-linejoin="round"/>
<path d="M1376.15 1901.8V2326.83" stroke="#26262a" stroke-width="2.1"/>
<path d="M1376.15 2118.35V2257.84" stroke="#353535" stroke-width="6.4"/>
<circle cx="1376.15" cy="2177.19" r="1.9" fill="#fff"/>
<path d="M1525.23 1894.82L1525.23 1899.68L1525.23 1904.53L1525.22 1909.39L1525.2 1914.25L1525.19 1919.11L1525.17 1923.97L1525.14 1928.83L1525.12 1933.69L1525.09 1938.54L1525.05 1943.4L1525.01 1948.26L1524.97 1953.12L1524.92 1957.98L1524.87 1962.84L1524.82 1967.7L1524.76 1972.55L1524.65 1977.41L1524.48 1982.27L1524.25 1987.13L1523.99 1991.99L1523.66 1996.85L1523.19 2001.71L1522.58 2006.56L1521.85 2011.42L1520.99 2016.28L1519.9 2021.14L1518.44 2026L1516.69 2030.86L1514.76 2035.72L1512.72 2040.57L1510.4 2045.43L1507.76 2050.29L1504.94 2055.15L1502.02 2060.01L1499.08 2064.87L1495.9 2069.73L1492.61 2074.58L1489.36 2079.44L1486.3 2084.3L1483.43 2089.16L1480.55 2094.02L1477.83 2098.88L1475.42 2103.74L1473.49 2108.59L1471.88 2113.45L1470.69 2118.31L1470.02 2123.17L1469.93 2128.03L1470.7 2132.89L1471.87 2137.75L1473.85 2142.6L1476.33 2147.46L1478.84 2152.32L1481.21 2157.18L1483.8 2162.04L1486.37 2166.9L1488.67 2171.76L1490.44 2176.61L1491.91 2181.47L1493.27 2186.33L1494.39 2191.19L1495.15 2196.05L1495.44 2200.91L1495.59 2205.77L1495.71 2210.62L1495.79 2215.48L1495.83 2220.34L1495.72 2225.2L1495.24 2230.06L1494.56 2234.92L1493.28 2239.78L1492.18 2244.63L1492.53 2249.49L1493.48 2254.35L1497.79 2259.21L1503.83 2264.07L1510.89 2268.93L1516.88 2273.79L1521.71 2278.64L1523.97 2283.5L1524.78 2288.36L1524.22 2293.22L1522.68 2298.08L1515.87 2302.94L1505.5 2307.8L1492.56 2312.65L1480.7 2317.51L1470.74 2322.37L1464.6 2327.23L1586.78 2327.23L1580.64 2322.37L1570.68 2317.51L1558.82 2312.65L1545.88 2307.8L1535.51 2302.94L1528.7 2298.08L1527.16 2293.22L1526.6 2288.36L1527.41 2283.5L1529.67 2278.64L1534.5 2273.79L1540.49 2268.93L1547.55 2264.07L1553.59 2259.21L1557.9 2254.35L1558.85 2249.49L1559.2 2244.63L1558.1 2239.78L1556.82 2234.92L1556.14 2230.06L1555.66 2225.2L1555.55 2220.34L1555.59 2215.48L1555.67 2210.62L1555.79 2205.77L1555.94 2200.91L1556.23 2196.05L1556.99 2191.19L1558.11 2186.33L1559.47 2181.47L1560.94 2176.61L1562.71 2171.76L1565.01 2166.9L1567.58 2162.04L1570.17 2157.18L1572.54 2152.32L1575.05 2147.46L1577.53 2142.6L1579.51 2137.75L1580.68 2132.89L1581.45 2128.03L1581.36 2123.17L1580.69 2118.31L1579.5 2113.45L1577.89 2108.59L1575.96 2103.74L1573.55 2098.88L1570.83 2094.02L1567.95 2089.16L1565.08 2084.3L1562.02 2079.44L1558.77 2074.58L1555.48 2069.73L1552.3 2064.87L1549.36 2060.01L1546.44 2055.15L1543.62 2050.29L1540.98 2045.43L1538.66 2040.57L1536.62 2035.72L1534.69 2030.86L1532.94 2026L1531.48 2021.14L1530.39 2016.28L1529.53 2011.42L1528.8 2006.56L1528.19 2001.71L1527.72 1996.85L1527.39 1991.99L1527.13 1987.13L1526.9 1982.27L1526.73 1977.41L1526.62 1972.55L1526.56 1967.7L1526.51 1962.84L1526.46 1957.98L1526.41 1953.12L1526.37 1948.26L1526.33 1943.4L1526.29 1938.54L1526.26 1933.69L1526.24 1928.83L1526.21 1923.97L1526.19 1919.11L1526.18 1914.25L1526.16 1909.39L1526.15 1904.53L1526.15 1899.68L1526.15 1894.82Z" fill="#ba611b" stroke="#26262a" stroke-width="2.2" stroke-linejoin="round"/>
<path d="M1525.69 1894.82V2327.23" stroke="#26262a" stroke-width="2.1"/>
<path d="M1525.69 2114.78V2257.25" stroke="#353535" stroke-width="6.4"/>
<circle cx="1525.69" cy="2166.53" r="1.9" fill="#fff"/>
<path d="M1674.77 1921.71L1674.77 1926.27L1674.76 1930.83L1674.74 1935.38L1674.71 1939.94L1674.67 1944.5L1674.63 1949.05L1674.57 1953.61L1674.52 1958.17L1674.45 1962.72L1674.38 1967.28L1674.31 1971.83L1674.18 1976.39L1673.99 1980.95L1673.75 1985.5L1673.46 1990.06L1673.13 1994.62L1672.7 1999.17L1672.14 2003.73L1671.44 2008.29L1670.6 2012.84L1669.61 2017.4L1668.12 2021.95L1666.07 2026.51L1663.65 2031.07L1661.05 2035.62L1658.47 2040.18L1655.72 2044.74L1652.71 2049.29L1649.56 2053.85L1646.41 2058.41L1643.38 2062.96L1640.28 2067.52L1637.1 2072.07L1634.02 2076.63L1631.23 2081.19L1628.91 2085.74L1626.87 2090.3L1624.97 2094.86L1623.29 2099.41L1621.9 2103.97L1620.87 2108.53L1620 2113.08L1619.44 2117.64L1619.55 2122.19L1620.31 2126.75L1621.34 2131.31L1622.84 2135.86L1624.9 2140.42L1627.25 2144.98L1629.6 2149.53L1631.7 2154.09L1633.68 2158.65L1635.68 2163.2L1637.59 2167.76L1639.31 2172.31L1640.74 2176.87L1642.09 2181.43L1643.43 2185.98L1644.57 2190.54L1645.35 2195.1L1645.6 2199.65L1645.6 2204.21L1645.6 2208.77L1645.6 2213.32L1645.6 2217.88L1645.59 2222.43L1645.19 2226.99L1644.5 2231.55L1643.96 2236.1L1643.59 2240.66L1643.34 2245.22L1643.69 2249.77L1645.43 2254.33L1648.26 2258.89L1653.22 2263.44L1658.15 2268L1662.68 2272.55L1666.72 2277.11L1669.62 2281.67L1671.94 2286.22L1672.3 2290.78L1670.05 2295.34L1666.35 2299.89L1658.91 2304.45L1650.02 2309.01L1641.57 2313.56L1634.26 2318.12L1628.73 2322.67L1625.54 2327.23L1724.92 2327.23L1721.73 2322.67L1716.2 2318.12L1708.89 2313.56L1700.44 2309.01L1691.55 2304.45L1684.11 2299.89L1680.41 2295.34L1678.16 2290.78L1678.52 2286.22L1680.84 2281.67L1683.74 2277.11L1687.78 2272.55L1692.31 2268L1697.24 2263.44L1702.2 2258.89L1705.03 2254.33L1706.77 2249.77L1707.12 2245.22L1706.87 2240.66L1706.5 2236.1L1705.96 2231.55L1705.27 2226.99L1704.87 2222.43L1704.86 2217.88L1704.86 2213.32L1704.86 2208.77L1704.86 2204.21L1704.86 2199.65L1705.11 2195.1L1705.89 2190.54L1707.03 2185.98L1708.37 2181.43L1709.72 2176.87L1711.15 2172.31L1712.87 2167.76L1714.78 2163.2L1716.78 2158.65L1718.76 2154.09L1720.86 2149.53L1723.21 2144.98L1725.56 2140.42L1727.62 2135.86L1729.12 2131.31L1730.15 2126.75L1730.91 2122.19L1731.02 2117.64L1730.46 2113.08L1729.59 2108.53L1728.56 2103.97L1727.17 2099.41L1725.49 2094.86L1723.59 2090.3L1721.55 2085.74L1719.23 2081.19L1716.44 2076.63L1713.36 2072.07L1710.18 2067.52L1707.08 2062.96L1704.05 2058.41L1700.9 2053.85L1697.75 2049.29L1694.74 2044.74L1691.99 2040.18L1689.41 2035.62L1686.81 2031.07L1684.39 2026.51L1682.34 2021.95L1680.85 2017.4L1679.86 2012.84L1679.02 2008.29L1678.32 2003.73L1677.76 1999.17L1677.33 1994.62L1677 1990.06L1676.71 1985.5L1676.47 1980.95L1676.28 1976.39L1676.15 1971.83L1676.08 1967.28L1676.01 1962.72L1675.94 1958.17L1675.89 1953.61L1675.83 1949.05L1675.79 1944.5L1675.75 1939.94L1675.72 1935.38L1675.7 1930.83L1675.69 1926.27L1675.69 1921.71Z" fill="#c282b5" stroke="#26262a" stroke-width="2.2" stroke-linejoin="round"/>
<path d="M1675.23 1921.71V2327.23" stroke="#26262a" stroke-width="2.1"/>
<path d="M1675.23 2113.64V2257.25" stroke="#353535" stroke-width="6.4"/>
<circle cx="1675.23" cy="2163.79" r="1.9" fill="#fff"/>
<text transform="translate(57.9 2128.6) rotate(-90) scale(0.9530 1)" text-anchor="middle" fill="#000" style="font-family:'DejaVu Sans', 'Liberation Sans', sans-serif;font-size:50.9px">Expression</text>
<text transform="translate(224.4 2365.6) rotate(-90)" text-anchor="end" fill="#000" style="font-family:'Liberation Sans', Arial, sans-serif;font-size:48.6px">&lt;100bp</text>
<text transform="translate(379.2 2365.6) rotate(-90)" text-anchor="end" fill="#000" style="font-family:'Liberation Sans', Arial, sans-serif;font-size:48.6px">0.1&lt;1kb</text>
<text transform="translate(532.2 2365.6) rotate(-90)" text-anchor="end" fill="#000" style="font-family:'Liberation Sans', Arial, sans-serif;font-size:48.6px">1&lt;10kb</text>
<text transform="translate(684.3 2365.6) rotate(-90)" text-anchor="end" fill="#000" style="font-family:'Liberation Sans', Arial, sans-serif;font-size:48.6px">10kb&lt;100kb</text>
<text transform="translate(837 2365.6) rotate(-90)" text-anchor="end" fill="#000" style="font-family:'Liberation Sans', Arial, sans-serif;font-size:48.6px">0.1Mb&lt;1Mb</text>
<text transform="translate(1078 2366.6) rotate(-90)" text-anchor="end" fill="#000" style="font-family:'Liberation Sans', Arial, sans-serif;font-size:48.6px">&lt;100bp</text>
<text transform="translate(1230.9 2366.6) rotate(-90)" text-anchor="end" fill="#000" style="font-family:'Liberation Sans', Arial, sans-serif;font-size:48.6px">0.1&lt;1kb</text>
<text transform="translate(1382.5 2366.6) rotate(-90)" text-anchor="end" fill="#000" style="font-family:'Liberation Sans', Arial, sans-serif;font-size:48.6px">1&lt;10kb</text>
<text transform="translate(1535.2 2366.6) rotate(-90)" text-anchor="end" fill="#000" style="font-family:'Liberation Sans', Arial, sans-serif;font-size:48.6px">10kb&lt;100kb</text>
<text transform="translate(1687.9 2366.6) rotate(-90)" text-anchor="end" fill="#000" style="font-family:'Liberation Sans', Arial, sans-serif;font-size:48.6px">0.1Mb&lt;1Mb</text>
<text x="607.8" y="2703.6" fill="#05050f" style="font-family:'Liberation Sans', Arial, sans-serif;font-size:52.6px">Gene upstream distances</text>
</g>
</svg>
</body></html>
